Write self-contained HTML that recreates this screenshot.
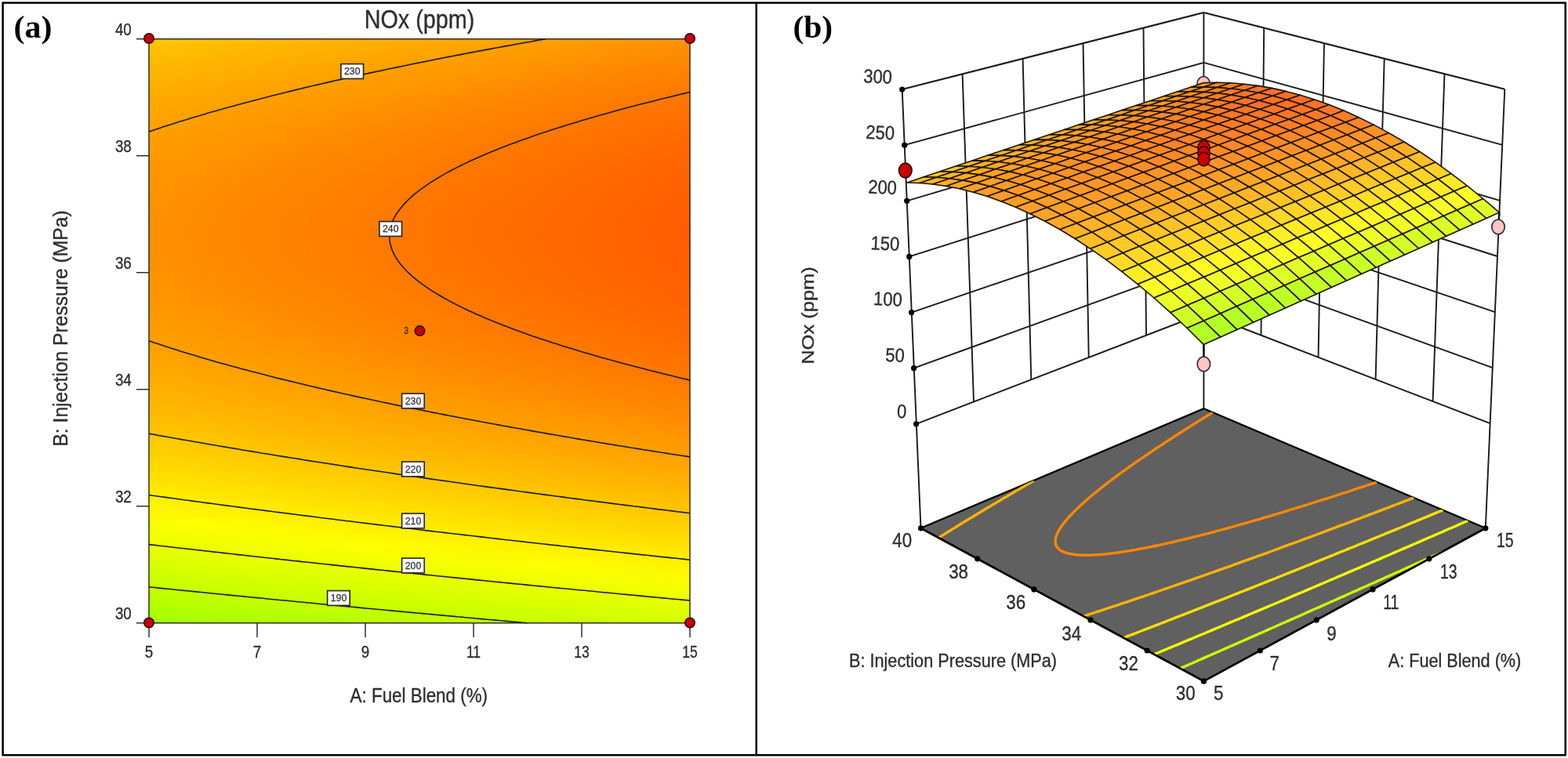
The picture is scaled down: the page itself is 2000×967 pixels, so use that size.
<!DOCTYPE html>
<html lang="en"><head><meta charset="utf-8"><title>NOx (ppm) response surface</title>
<style>html,body{margin:0;padding:0;background:#fff}svg{display:block}</style></head>
<body><svg width="2000" height="967" viewBox="0 0 2000 967">
<defs><linearGradient id="g0" x1="0" y1="0" x2="0" y2="1"><stop offset="0" stop-color="#ffc600"/><stop offset="0.03333" stop-color="#ffbc00"/><stop offset="0.06667" stop-color="#ffb300"/><stop offset="0.1" stop-color="#ffab00"/><stop offset="0.1333" stop-color="#ffa400"/><stop offset="0.1667" stop-color="#ff9e00"/><stop offset="0.2" stop-color="#ff9900"/><stop offset="0.2333" stop-color="#ff9500"/><stop offset="0.2667" stop-color="#ff9200"/><stop offset="0.3" stop-color="#ff9100"/><stop offset="0.3333" stop-color="#ff9000"/><stop offset="0.3667" stop-color="#ff9000"/><stop offset="0.4" stop-color="#ff9200"/><stop offset="0.4333" stop-color="#ff9400"/><stop offset="0.4667" stop-color="#ff9800"/><stop offset="0.5" stop-color="#ff9c00"/><stop offset="0.5333" stop-color="#ffa200"/><stop offset="0.5667" stop-color="#ffa900"/><stop offset="0.6" stop-color="#ffb100"/><stop offset="0.6333" stop-color="#ffb900"/><stop offset="0.6667" stop-color="#ffc300"/><stop offset="0.7" stop-color="#ffce00"/><stop offset="0.7333" stop-color="#ffda00"/><stop offset="0.7667" stop-color="#ffe700"/><stop offset="0.8" stop-color="#fff500"/><stop offset="0.8333" stop-color="#faff00"/><stop offset="0.8667" stop-color="#eaff00"/><stop offset="0.9" stop-color="#d9ff00"/><stop offset="0.9333" stop-color="#c8ff00"/><stop offset="0.9667" stop-color="#b5ff00"/><stop offset="1" stop-color="#a1ff00"/></linearGradient>
<linearGradient id="g1" x1="0" y1="0" x2="0" y2="1"><stop offset="0" stop-color="#ffc500"/><stop offset="0.03333" stop-color="#ffbb00"/><stop offset="0.06667" stop-color="#ffb200"/><stop offset="0.1" stop-color="#ffaa00"/><stop offset="0.1333" stop-color="#ffa300"/><stop offset="0.1667" stop-color="#ff9d00"/><stop offset="0.2" stop-color="#ff9800"/><stop offset="0.2333" stop-color="#ff9400"/><stop offset="0.2667" stop-color="#ff9200"/><stop offset="0.3" stop-color="#ff9000"/><stop offset="0.3333" stop-color="#ff8f00"/><stop offset="0.3667" stop-color="#ff9000"/><stop offset="0.4" stop-color="#ff9100"/><stop offset="0.4333" stop-color="#ff9400"/><stop offset="0.4667" stop-color="#ff9700"/><stop offset="0.5" stop-color="#ff9c00"/><stop offset="0.5333" stop-color="#ffa100"/><stop offset="0.5667" stop-color="#ffa800"/><stop offset="0.6" stop-color="#ffb000"/><stop offset="0.6333" stop-color="#ffb900"/><stop offset="0.6667" stop-color="#ffc300"/><stop offset="0.7" stop-color="#ffcd00"/><stop offset="0.7333" stop-color="#ffd900"/><stop offset="0.7667" stop-color="#ffe600"/><stop offset="0.8" stop-color="#fff500"/><stop offset="0.8333" stop-color="#faff00"/><stop offset="0.8667" stop-color="#ebff00"/><stop offset="0.9" stop-color="#daff00"/><stop offset="0.9333" stop-color="#c8ff00"/><stop offset="0.9667" stop-color="#b6ff00"/><stop offset="1" stop-color="#a2ff00"/></linearGradient>
<linearGradient id="g2" x1="0" y1="0" x2="0" y2="1"><stop offset="0" stop-color="#ffc500"/><stop offset="0.03333" stop-color="#ffba00"/><stop offset="0.06667" stop-color="#ffb100"/><stop offset="0.1" stop-color="#ffa900"/><stop offset="0.1333" stop-color="#ffa200"/><stop offset="0.1667" stop-color="#ff9c00"/><stop offset="0.2" stop-color="#ff9700"/><stop offset="0.2333" stop-color="#ff9400"/><stop offset="0.2667" stop-color="#ff9100"/><stop offset="0.3" stop-color="#ff8f00"/><stop offset="0.3333" stop-color="#ff8e00"/><stop offset="0.3667" stop-color="#ff8f00"/><stop offset="0.4" stop-color="#ff9000"/><stop offset="0.4333" stop-color="#ff9300"/><stop offset="0.4667" stop-color="#ff9600"/><stop offset="0.5" stop-color="#ff9b00"/><stop offset="0.5333" stop-color="#ffa100"/><stop offset="0.5667" stop-color="#ffa700"/><stop offset="0.6" stop-color="#ffaf00"/><stop offset="0.6333" stop-color="#ffb800"/><stop offset="0.6667" stop-color="#ffc200"/><stop offset="0.7" stop-color="#ffcd00"/><stop offset="0.7333" stop-color="#ffd900"/><stop offset="0.7667" stop-color="#ffe600"/><stop offset="0.8" stop-color="#fff400"/><stop offset="0.8333" stop-color="#fbff00"/><stop offset="0.8667" stop-color="#ecff00"/><stop offset="0.9" stop-color="#dbff00"/><stop offset="0.9333" stop-color="#c9ff00"/><stop offset="0.9667" stop-color="#b6ff00"/><stop offset="1" stop-color="#a2ff00"/></linearGradient>
<linearGradient id="g3" x1="0" y1="0" x2="0" y2="1"><stop offset="0" stop-color="#ffc400"/><stop offset="0.03333" stop-color="#ffba00"/><stop offset="0.06667" stop-color="#ffb100"/><stop offset="0.1" stop-color="#ffa900"/><stop offset="0.1333" stop-color="#ffa200"/><stop offset="0.1667" stop-color="#ff9c00"/><stop offset="0.2" stop-color="#ff9700"/><stop offset="0.2333" stop-color="#ff9300"/><stop offset="0.2667" stop-color="#ff9000"/><stop offset="0.3" stop-color="#ff8e00"/><stop offset="0.3333" stop-color="#ff8e00"/><stop offset="0.3667" stop-color="#ff8e00"/><stop offset="0.4" stop-color="#ff9000"/><stop offset="0.4333" stop-color="#ff9200"/><stop offset="0.4667" stop-color="#ff9600"/><stop offset="0.5" stop-color="#ff9a00"/><stop offset="0.5333" stop-color="#ffa000"/><stop offset="0.5667" stop-color="#ffa700"/><stop offset="0.6" stop-color="#ffae00"/><stop offset="0.6333" stop-color="#ffb700"/><stop offset="0.6667" stop-color="#ffc100"/><stop offset="0.7" stop-color="#ffcc00"/><stop offset="0.7333" stop-color="#ffd800"/><stop offset="0.7667" stop-color="#ffe500"/><stop offset="0.8" stop-color="#fff300"/><stop offset="0.8333" stop-color="#fcff00"/><stop offset="0.8667" stop-color="#ecff00"/><stop offset="0.9" stop-color="#dcff00"/><stop offset="0.9333" stop-color="#caff00"/><stop offset="0.9667" stop-color="#b7ff00"/><stop offset="1" stop-color="#a3ff00"/></linearGradient>
<linearGradient id="g4" x1="0" y1="0" x2="0" y2="1"><stop offset="0" stop-color="#ffc300"/><stop offset="0.03333" stop-color="#ffb900"/><stop offset="0.06667" stop-color="#ffb000"/><stop offset="0.1" stop-color="#ffa800"/><stop offset="0.1333" stop-color="#ffa100"/><stop offset="0.1667" stop-color="#ff9b00"/><stop offset="0.2" stop-color="#ff9600"/><stop offset="0.2333" stop-color="#ff9200"/><stop offset="0.2667" stop-color="#ff8f00"/><stop offset="0.3" stop-color="#ff8e00"/><stop offset="0.3333" stop-color="#ff8d00"/><stop offset="0.3667" stop-color="#ff8d00"/><stop offset="0.4" stop-color="#ff8f00"/><stop offset="0.4333" stop-color="#ff9100"/><stop offset="0.4667" stop-color="#ff9500"/><stop offset="0.5" stop-color="#ff9900"/><stop offset="0.5333" stop-color="#ff9f00"/><stop offset="0.5667" stop-color="#ffa600"/><stop offset="0.6" stop-color="#ffad00"/><stop offset="0.6333" stop-color="#ffb600"/><stop offset="0.6667" stop-color="#ffc000"/><stop offset="0.7" stop-color="#ffcb00"/><stop offset="0.7333" stop-color="#ffd700"/><stop offset="0.7667" stop-color="#ffe400"/><stop offset="0.8" stop-color="#fff200"/><stop offset="0.8333" stop-color="#fdff00"/><stop offset="0.8667" stop-color="#edff00"/><stop offset="0.9" stop-color="#dcff00"/><stop offset="0.9333" stop-color="#cbff00"/><stop offset="0.9667" stop-color="#b8ff00"/><stop offset="1" stop-color="#a4ff00"/></linearGradient>
<linearGradient id="g5" x1="0" y1="0" x2="0" y2="1"><stop offset="0" stop-color="#ffc200"/><stop offset="0.03333" stop-color="#ffb800"/><stop offset="0.06667" stop-color="#ffaf00"/><stop offset="0.1" stop-color="#ffa700"/><stop offset="0.1333" stop-color="#ffa000"/><stop offset="0.1667" stop-color="#ff9a00"/><stop offset="0.2" stop-color="#ff9500"/><stop offset="0.2333" stop-color="#ff9100"/><stop offset="0.2667" stop-color="#ff8f00"/><stop offset="0.3" stop-color="#ff8d00"/><stop offset="0.3333" stop-color="#ff8c00"/><stop offset="0.3667" stop-color="#ff8d00"/><stop offset="0.4" stop-color="#ff8e00"/><stop offset="0.4333" stop-color="#ff9000"/><stop offset="0.4667" stop-color="#ff9400"/><stop offset="0.5" stop-color="#ff9900"/><stop offset="0.5333" stop-color="#ff9e00"/><stop offset="0.5667" stop-color="#ffa500"/><stop offset="0.6" stop-color="#ffad00"/><stop offset="0.6333" stop-color="#ffb600"/><stop offset="0.6667" stop-color="#ffbf00"/><stop offset="0.7" stop-color="#ffca00"/><stop offset="0.7333" stop-color="#ffd600"/><stop offset="0.7667" stop-color="#ffe300"/><stop offset="0.8" stop-color="#fff100"/><stop offset="0.8333" stop-color="#feff00"/><stop offset="0.8667" stop-color="#eeff00"/><stop offset="0.9" stop-color="#ddff00"/><stop offset="0.9333" stop-color="#cbff00"/><stop offset="0.9667" stop-color="#b9ff00"/><stop offset="1" stop-color="#a5ff00"/></linearGradient>
<linearGradient id="g6" x1="0" y1="0" x2="0" y2="1"><stop offset="0" stop-color="#ffc100"/><stop offset="0.03333" stop-color="#ffb700"/><stop offset="0.06667" stop-color="#ffae00"/><stop offset="0.1" stop-color="#ffa600"/><stop offset="0.1333" stop-color="#ff9f00"/><stop offset="0.1667" stop-color="#ff9900"/><stop offset="0.2" stop-color="#ff9400"/><stop offset="0.2333" stop-color="#ff9100"/><stop offset="0.2667" stop-color="#ff8e00"/><stop offset="0.3" stop-color="#ff8c00"/><stop offset="0.3333" stop-color="#ff8b00"/><stop offset="0.3667" stop-color="#ff8c00"/><stop offset="0.4" stop-color="#ff8d00"/><stop offset="0.4333" stop-color="#ff9000"/><stop offset="0.4667" stop-color="#ff9300"/><stop offset="0.5" stop-color="#ff9800"/><stop offset="0.5333" stop-color="#ff9d00"/><stop offset="0.5667" stop-color="#ffa400"/><stop offset="0.6" stop-color="#ffac00"/><stop offset="0.6333" stop-color="#ffb500"/><stop offset="0.6667" stop-color="#ffbf00"/><stop offset="0.7" stop-color="#ffca00"/><stop offset="0.7333" stop-color="#ffd500"/><stop offset="0.7667" stop-color="#ffe300"/><stop offset="0.8" stop-color="#fff100"/><stop offset="0.8333" stop-color="#feff00"/><stop offset="0.8667" stop-color="#efff00"/><stop offset="0.9" stop-color="#deff00"/><stop offset="0.9333" stop-color="#ccff00"/><stop offset="0.9667" stop-color="#b9ff00"/><stop offset="1" stop-color="#a6ff00"/></linearGradient>
<linearGradient id="g7" x1="0" y1="0" x2="0" y2="1"><stop offset="0" stop-color="#ffc100"/><stop offset="0.03333" stop-color="#ffb700"/><stop offset="0.06667" stop-color="#ffad00"/><stop offset="0.1" stop-color="#ffa500"/><stop offset="0.1333" stop-color="#ff9e00"/><stop offset="0.1667" stop-color="#ff9800"/><stop offset="0.2" stop-color="#ff9400"/><stop offset="0.2333" stop-color="#ff9000"/><stop offset="0.2667" stop-color="#ff8d00"/><stop offset="0.3" stop-color="#ff8b00"/><stop offset="0.3333" stop-color="#ff8b00"/><stop offset="0.3667" stop-color="#ff8b00"/><stop offset="0.4" stop-color="#ff8c00"/><stop offset="0.4333" stop-color="#ff8f00"/><stop offset="0.4667" stop-color="#ff9200"/><stop offset="0.5" stop-color="#ff9700"/><stop offset="0.5333" stop-color="#ff9d00"/><stop offset="0.5667" stop-color="#ffa300"/><stop offset="0.6" stop-color="#ffab00"/><stop offset="0.6333" stop-color="#ffb400"/><stop offset="0.6667" stop-color="#ffbe00"/><stop offset="0.7" stop-color="#ffc900"/><stop offset="0.7333" stop-color="#ffd500"/><stop offset="0.7667" stop-color="#ffe200"/><stop offset="0.8" stop-color="#fff000"/><stop offset="0.8333" stop-color="#ffff00"/><stop offset="0.8667" stop-color="#efff00"/><stop offset="0.9" stop-color="#dfff00"/><stop offset="0.9333" stop-color="#cdff00"/><stop offset="0.9667" stop-color="#baff00"/><stop offset="1" stop-color="#a6ff00"/></linearGradient>
<linearGradient id="g8" x1="0" y1="0" x2="0" y2="1"><stop offset="0" stop-color="#ffc000"/><stop offset="0.03333" stop-color="#ffb600"/><stop offset="0.06667" stop-color="#ffad00"/><stop offset="0.1" stop-color="#ffa500"/><stop offset="0.1333" stop-color="#ff9e00"/><stop offset="0.1667" stop-color="#ff9800"/><stop offset="0.2" stop-color="#ff9300"/><stop offset="0.2333" stop-color="#ff8f00"/><stop offset="0.2667" stop-color="#ff8c00"/><stop offset="0.3" stop-color="#ff8a00"/><stop offset="0.3333" stop-color="#ff8a00"/><stop offset="0.3667" stop-color="#ff8a00"/><stop offset="0.4" stop-color="#ff8c00"/><stop offset="0.4333" stop-color="#ff8e00"/><stop offset="0.4667" stop-color="#ff9200"/><stop offset="0.5" stop-color="#ff9600"/><stop offset="0.5333" stop-color="#ff9c00"/><stop offset="0.5667" stop-color="#ffa300"/><stop offset="0.6" stop-color="#ffaa00"/><stop offset="0.6333" stop-color="#ffb300"/><stop offset="0.6667" stop-color="#ffbd00"/><stop offset="0.7" stop-color="#ffc800"/><stop offset="0.7333" stop-color="#ffd400"/><stop offset="0.7667" stop-color="#ffe100"/><stop offset="0.8" stop-color="#ffef00"/><stop offset="0.8333" stop-color="#fffe00"/><stop offset="0.8667" stop-color="#f0ff00"/><stop offset="0.9" stop-color="#dfff00"/><stop offset="0.9333" stop-color="#ceff00"/><stop offset="0.9667" stop-color="#bbff00"/><stop offset="1" stop-color="#a7ff00"/></linearGradient>
<linearGradient id="g9" x1="0" y1="0" x2="0" y2="1"><stop offset="0" stop-color="#ffbf00"/><stop offset="0.03333" stop-color="#ffb500"/><stop offset="0.06667" stop-color="#ffac00"/><stop offset="0.1" stop-color="#ffa400"/><stop offset="0.1333" stop-color="#ff9d00"/><stop offset="0.1667" stop-color="#ff9700"/><stop offset="0.2" stop-color="#ff9200"/><stop offset="0.2333" stop-color="#ff8e00"/><stop offset="0.2667" stop-color="#ff8b00"/><stop offset="0.3" stop-color="#ff8a00"/><stop offset="0.3333" stop-color="#ff8900"/><stop offset="0.3667" stop-color="#ff8900"/><stop offset="0.4" stop-color="#ff8b00"/><stop offset="0.4333" stop-color="#ff8d00"/><stop offset="0.4667" stop-color="#ff9100"/><stop offset="0.5" stop-color="#ff9500"/><stop offset="0.5333" stop-color="#ff9b00"/><stop offset="0.5667" stop-color="#ffa200"/><stop offset="0.6" stop-color="#ffaa00"/><stop offset="0.6333" stop-color="#ffb200"/><stop offset="0.6667" stop-color="#ffbc00"/><stop offset="0.7" stop-color="#ffc700"/><stop offset="0.7333" stop-color="#ffd300"/><stop offset="0.7667" stop-color="#ffe000"/><stop offset="0.8" stop-color="#ffee00"/><stop offset="0.8333" stop-color="#fffd00"/><stop offset="0.8667" stop-color="#f1ff00"/><stop offset="0.9" stop-color="#e0ff00"/><stop offset="0.9333" stop-color="#ceff00"/><stop offset="0.9667" stop-color="#bcff00"/><stop offset="1" stop-color="#a8ff00"/></linearGradient>
<linearGradient id="g10" x1="0" y1="0" x2="0" y2="1"><stop offset="0" stop-color="#ffbe00"/><stop offset="0.03333" stop-color="#ffb400"/><stop offset="0.06667" stop-color="#ffab00"/><stop offset="0.1" stop-color="#ffa300"/><stop offset="0.1333" stop-color="#ff9c00"/><stop offset="0.1667" stop-color="#ff9600"/><stop offset="0.2" stop-color="#ff9100"/><stop offset="0.2333" stop-color="#ff8d00"/><stop offset="0.2667" stop-color="#ff8b00"/><stop offset="0.3" stop-color="#ff8900"/><stop offset="0.3333" stop-color="#ff8800"/><stop offset="0.3667" stop-color="#ff8900"/><stop offset="0.4" stop-color="#ff8a00"/><stop offset="0.4333" stop-color="#ff8d00"/><stop offset="0.4667" stop-color="#ff9000"/><stop offset="0.5" stop-color="#ff9500"/><stop offset="0.5333" stop-color="#ff9a00"/><stop offset="0.5667" stop-color="#ffa100"/><stop offset="0.6" stop-color="#ffa900"/><stop offset="0.6333" stop-color="#ffb200"/><stop offset="0.6667" stop-color="#ffbb00"/><stop offset="0.7" stop-color="#ffc600"/><stop offset="0.7333" stop-color="#ffd200"/><stop offset="0.7667" stop-color="#ffdf00"/><stop offset="0.8" stop-color="#ffee00"/><stop offset="0.8333" stop-color="#fffd00"/><stop offset="0.8667" stop-color="#f2ff00"/><stop offset="0.9" stop-color="#e1ff00"/><stop offset="0.9333" stop-color="#cfff00"/><stop offset="0.9667" stop-color="#bcff00"/><stop offset="1" stop-color="#a9ff00"/></linearGradient>
<linearGradient id="g11" x1="0" y1="0" x2="0" y2="1"><stop offset="0" stop-color="#ffbe00"/><stop offset="0.03333" stop-color="#ffb300"/><stop offset="0.06667" stop-color="#ffaa00"/><stop offset="0.1" stop-color="#ffa200"/><stop offset="0.1333" stop-color="#ff9b00"/><stop offset="0.1667" stop-color="#ff9500"/><stop offset="0.2" stop-color="#ff9000"/><stop offset="0.2333" stop-color="#ff8d00"/><stop offset="0.2667" stop-color="#ff8a00"/><stop offset="0.3" stop-color="#ff8800"/><stop offset="0.3333" stop-color="#ff8700"/><stop offset="0.3667" stop-color="#ff8800"/><stop offset="0.4" stop-color="#ff8900"/><stop offset="0.4333" stop-color="#ff8c00"/><stop offset="0.4667" stop-color="#ff8f00"/><stop offset="0.5" stop-color="#ff9400"/><stop offset="0.5333" stop-color="#ff9a00"/><stop offset="0.5667" stop-color="#ffa000"/><stop offset="0.6" stop-color="#ffa800"/><stop offset="0.6333" stop-color="#ffb100"/><stop offset="0.6667" stop-color="#ffbb00"/><stop offset="0.7" stop-color="#ffc600"/><stop offset="0.7333" stop-color="#ffd200"/><stop offset="0.7667" stop-color="#ffdf00"/><stop offset="0.8" stop-color="#ffed00"/><stop offset="0.8333" stop-color="#fffc00"/><stop offset="0.8667" stop-color="#f2ff00"/><stop offset="0.9" stop-color="#e2ff00"/><stop offset="0.9333" stop-color="#d0ff00"/><stop offset="0.9667" stop-color="#bdff00"/><stop offset="1" stop-color="#a9ff00"/></linearGradient>
<linearGradient id="g12" x1="0" y1="0" x2="0" y2="1"><stop offset="0" stop-color="#ffbd00"/><stop offset="0.03333" stop-color="#ffb300"/><stop offset="0.06667" stop-color="#ffaa00"/><stop offset="0.1" stop-color="#ffa100"/><stop offset="0.1333" stop-color="#ff9a00"/><stop offset="0.1667" stop-color="#ff9500"/><stop offset="0.2" stop-color="#ff9000"/><stop offset="0.2333" stop-color="#ff8c00"/><stop offset="0.2667" stop-color="#ff8900"/><stop offset="0.3" stop-color="#ff8700"/><stop offset="0.3333" stop-color="#ff8700"/><stop offset="0.3667" stop-color="#ff8700"/><stop offset="0.4" stop-color="#ff8900"/><stop offset="0.4333" stop-color="#ff8b00"/><stop offset="0.4667" stop-color="#ff8f00"/><stop offset="0.5" stop-color="#ff9300"/><stop offset="0.5333" stop-color="#ff9900"/><stop offset="0.5667" stop-color="#ffa000"/><stop offset="0.6" stop-color="#ffa700"/><stop offset="0.6333" stop-color="#ffb000"/><stop offset="0.6667" stop-color="#ffba00"/><stop offset="0.7" stop-color="#ffc500"/><stop offset="0.7333" stop-color="#ffd100"/><stop offset="0.7667" stop-color="#ffde00"/><stop offset="0.8" stop-color="#ffec00"/><stop offset="0.8333" stop-color="#fffb00"/><stop offset="0.8667" stop-color="#f3ff00"/><stop offset="0.9" stop-color="#e2ff00"/><stop offset="0.9333" stop-color="#d1ff00"/><stop offset="0.9667" stop-color="#beff00"/><stop offset="1" stop-color="#aaff00"/></linearGradient>
<linearGradient id="g13" x1="0" y1="0" x2="0" y2="1"><stop offset="0" stop-color="#ffbc00"/><stop offset="0.03333" stop-color="#ffb200"/><stop offset="0.06667" stop-color="#ffa900"/><stop offset="0.1" stop-color="#ffa100"/><stop offset="0.1333" stop-color="#ff9a00"/><stop offset="0.1667" stop-color="#ff9400"/><stop offset="0.2" stop-color="#ff8f00"/><stop offset="0.2333" stop-color="#ff8b00"/><stop offset="0.2667" stop-color="#ff8800"/><stop offset="0.3" stop-color="#ff8700"/><stop offset="0.3333" stop-color="#ff8600"/><stop offset="0.3667" stop-color="#ff8600"/><stop offset="0.4" stop-color="#ff8800"/><stop offset="0.4333" stop-color="#ff8a00"/><stop offset="0.4667" stop-color="#ff8e00"/><stop offset="0.5" stop-color="#ff9200"/><stop offset="0.5333" stop-color="#ff9800"/><stop offset="0.5667" stop-color="#ff9f00"/><stop offset="0.6" stop-color="#ffa600"/><stop offset="0.6333" stop-color="#ffaf00"/><stop offset="0.6667" stop-color="#ffb900"/><stop offset="0.7" stop-color="#ffc400"/><stop offset="0.7333" stop-color="#ffd000"/><stop offset="0.7667" stop-color="#ffdd00"/><stop offset="0.8" stop-color="#ffeb00"/><stop offset="0.8333" stop-color="#fffa00"/><stop offset="0.8667" stop-color="#f4ff00"/><stop offset="0.9" stop-color="#e3ff00"/><stop offset="0.9333" stop-color="#d1ff00"/><stop offset="0.9667" stop-color="#bfff00"/><stop offset="1" stop-color="#abff00"/></linearGradient>
<linearGradient id="g14" x1="0" y1="0" x2="0" y2="1"><stop offset="0" stop-color="#ffbb00"/><stop offset="0.03333" stop-color="#ffb100"/><stop offset="0.06667" stop-color="#ffa800"/><stop offset="0.1" stop-color="#ffa000"/><stop offset="0.1333" stop-color="#ff9900"/><stop offset="0.1667" stop-color="#ff9300"/><stop offset="0.2" stop-color="#ff8e00"/><stop offset="0.2333" stop-color="#ff8a00"/><stop offset="0.2667" stop-color="#ff8800"/><stop offset="0.3" stop-color="#ff8600"/><stop offset="0.3333" stop-color="#ff8500"/><stop offset="0.3667" stop-color="#ff8600"/><stop offset="0.4" stop-color="#ff8700"/><stop offset="0.4333" stop-color="#ff8900"/><stop offset="0.4667" stop-color="#ff8d00"/><stop offset="0.5" stop-color="#ff9200"/><stop offset="0.5333" stop-color="#ff9700"/><stop offset="0.5667" stop-color="#ff9e00"/><stop offset="0.6" stop-color="#ffa600"/><stop offset="0.6333" stop-color="#ffaf00"/><stop offset="0.6667" stop-color="#ffb800"/><stop offset="0.7" stop-color="#ffc300"/><stop offset="0.7333" stop-color="#ffcf00"/><stop offset="0.7667" stop-color="#ffdc00"/><stop offset="0.8" stop-color="#ffea00"/><stop offset="0.8333" stop-color="#fffa00"/><stop offset="0.8667" stop-color="#f5ff00"/><stop offset="0.9" stop-color="#e4ff00"/><stop offset="0.9333" stop-color="#d2ff00"/><stop offset="0.9667" stop-color="#bfff00"/><stop offset="1" stop-color="#acff00"/></linearGradient>
<linearGradient id="g15" x1="0" y1="0" x2="0" y2="1"><stop offset="0" stop-color="#ffba00"/><stop offset="0.03333" stop-color="#ffb000"/><stop offset="0.06667" stop-color="#ffa700"/><stop offset="0.1" stop-color="#ff9f00"/><stop offset="0.1333" stop-color="#ff9800"/><stop offset="0.1667" stop-color="#ff9200"/><stop offset="0.2" stop-color="#ff8d00"/><stop offset="0.2333" stop-color="#ff8a00"/><stop offset="0.2667" stop-color="#ff8700"/><stop offset="0.3" stop-color="#ff8500"/><stop offset="0.3333" stop-color="#ff8400"/><stop offset="0.3667" stop-color="#ff8500"/><stop offset="0.4" stop-color="#ff8600"/><stop offset="0.4333" stop-color="#ff8900"/><stop offset="0.4667" stop-color="#ff8c00"/><stop offset="0.5" stop-color="#ff9100"/><stop offset="0.5333" stop-color="#ff9600"/><stop offset="0.5667" stop-color="#ff9d00"/><stop offset="0.6" stop-color="#ffa500"/><stop offset="0.6333" stop-color="#ffae00"/><stop offset="0.6667" stop-color="#ffb800"/><stop offset="0.7" stop-color="#ffc300"/><stop offset="0.7333" stop-color="#ffcf00"/><stop offset="0.7667" stop-color="#ffdc00"/><stop offset="0.8" stop-color="#ffea00"/><stop offset="0.8333" stop-color="#fff900"/><stop offset="0.8667" stop-color="#f5ff00"/><stop offset="0.9" stop-color="#e5ff00"/><stop offset="0.9333" stop-color="#d3ff00"/><stop offset="0.9667" stop-color="#c0ff00"/><stop offset="1" stop-color="#acff00"/></linearGradient>
<linearGradient id="g16" x1="0" y1="0" x2="0" y2="1"><stop offset="0" stop-color="#ffba00"/><stop offset="0.03333" stop-color="#ffb000"/><stop offset="0.06667" stop-color="#ffa600"/><stop offset="0.1" stop-color="#ff9e00"/><stop offset="0.1333" stop-color="#ff9700"/><stop offset="0.1667" stop-color="#ff9100"/><stop offset="0.2" stop-color="#ff8d00"/><stop offset="0.2333" stop-color="#ff8900"/><stop offset="0.2667" stop-color="#ff8600"/><stop offset="0.3" stop-color="#ff8400"/><stop offset="0.3333" stop-color="#ff8400"/><stop offset="0.3667" stop-color="#ff8400"/><stop offset="0.4" stop-color="#ff8500"/><stop offset="0.4333" stop-color="#ff8800"/><stop offset="0.4667" stop-color="#ff8b00"/><stop offset="0.5" stop-color="#ff9000"/><stop offset="0.5333" stop-color="#ff9600"/><stop offset="0.5667" stop-color="#ff9c00"/><stop offset="0.6" stop-color="#ffa400"/><stop offset="0.6333" stop-color="#ffad00"/><stop offset="0.6667" stop-color="#ffb700"/><stop offset="0.7" stop-color="#ffc200"/><stop offset="0.7333" stop-color="#ffce00"/><stop offset="0.7667" stop-color="#ffdb00"/><stop offset="0.8" stop-color="#ffe900"/><stop offset="0.8333" stop-color="#fff800"/><stop offset="0.8667" stop-color="#f6ff00"/><stop offset="0.9" stop-color="#e5ff00"/><stop offset="0.9333" stop-color="#d4ff00"/><stop offset="0.9667" stop-color="#c1ff00"/><stop offset="1" stop-color="#adff00"/></linearGradient>
<linearGradient id="g17" x1="0" y1="0" x2="0" y2="1"><stop offset="0" stop-color="#ffb900"/><stop offset="0.03333" stop-color="#ffaf00"/><stop offset="0.06667" stop-color="#ffa600"/><stop offset="0.1" stop-color="#ff9e00"/><stop offset="0.1333" stop-color="#ff9700"/><stop offset="0.1667" stop-color="#ff9100"/><stop offset="0.2" stop-color="#ff8c00"/><stop offset="0.2333" stop-color="#ff8800"/><stop offset="0.2667" stop-color="#ff8500"/><stop offset="0.3" stop-color="#ff8300"/><stop offset="0.3333" stop-color="#ff8300"/><stop offset="0.3667" stop-color="#ff8300"/><stop offset="0.4" stop-color="#ff8500"/><stop offset="0.4333" stop-color="#ff8700"/><stop offset="0.4667" stop-color="#ff8b00"/><stop offset="0.5" stop-color="#ff8f00"/><stop offset="0.5333" stop-color="#ff9500"/><stop offset="0.5667" stop-color="#ff9c00"/><stop offset="0.6" stop-color="#ffa300"/><stop offset="0.6333" stop-color="#ffac00"/><stop offset="0.6667" stop-color="#ffb600"/><stop offset="0.7" stop-color="#ffc100"/><stop offset="0.7333" stop-color="#ffcd00"/><stop offset="0.7667" stop-color="#ffda00"/><stop offset="0.8" stop-color="#ffe800"/><stop offset="0.8333" stop-color="#fff700"/><stop offset="0.8667" stop-color="#f7ff00"/><stop offset="0.9" stop-color="#e6ff00"/><stop offset="0.9333" stop-color="#d4ff00"/><stop offset="0.9667" stop-color="#c2ff00"/><stop offset="1" stop-color="#aeff00"/></linearGradient>
<linearGradient id="g18" x1="0" y1="0" x2="0" y2="1"><stop offset="0" stop-color="#ffb800"/><stop offset="0.03333" stop-color="#ffae00"/><stop offset="0.06667" stop-color="#ffa500"/><stop offset="0.1" stop-color="#ff9d00"/><stop offset="0.1333" stop-color="#ff9600"/><stop offset="0.1667" stop-color="#ff9000"/><stop offset="0.2" stop-color="#ff8b00"/><stop offset="0.2333" stop-color="#ff8700"/><stop offset="0.2667" stop-color="#ff8400"/><stop offset="0.3" stop-color="#ff8300"/><stop offset="0.3333" stop-color="#ff8200"/><stop offset="0.3667" stop-color="#ff8200"/><stop offset="0.4" stop-color="#ff8400"/><stop offset="0.4333" stop-color="#ff8600"/><stop offset="0.4667" stop-color="#ff8a00"/><stop offset="0.5" stop-color="#ff8f00"/><stop offset="0.5333" stop-color="#ff9400"/><stop offset="0.5667" stop-color="#ff9b00"/><stop offset="0.6" stop-color="#ffa300"/><stop offset="0.6333" stop-color="#ffab00"/><stop offset="0.6667" stop-color="#ffb500"/><stop offset="0.7" stop-color="#ffc000"/><stop offset="0.7333" stop-color="#ffcc00"/><stop offset="0.7667" stop-color="#ffd900"/><stop offset="0.8" stop-color="#ffe700"/><stop offset="0.8333" stop-color="#fff600"/><stop offset="0.8667" stop-color="#f8ff00"/><stop offset="0.9" stop-color="#e7ff00"/><stop offset="0.9333" stop-color="#d5ff00"/><stop offset="0.9667" stop-color="#c2ff00"/><stop offset="1" stop-color="#afff00"/></linearGradient>
<linearGradient id="g19" x1="0" y1="0" x2="0" y2="1"><stop offset="0" stop-color="#ffb700"/><stop offset="0.03333" stop-color="#ffad00"/><stop offset="0.06667" stop-color="#ffa400"/><stop offset="0.1" stop-color="#ff9c00"/><stop offset="0.1333" stop-color="#ff9500"/><stop offset="0.1667" stop-color="#ff8f00"/><stop offset="0.2" stop-color="#ff8a00"/><stop offset="0.2333" stop-color="#ff8600"/><stop offset="0.2667" stop-color="#ff8400"/><stop offset="0.3" stop-color="#ff8200"/><stop offset="0.3333" stop-color="#ff8100"/><stop offset="0.3667" stop-color="#ff8200"/><stop offset="0.4" stop-color="#ff8300"/><stop offset="0.4333" stop-color="#ff8600"/><stop offset="0.4667" stop-color="#ff8900"/><stop offset="0.5" stop-color="#ff8e00"/><stop offset="0.5333" stop-color="#ff9300"/><stop offset="0.5667" stop-color="#ff9a00"/><stop offset="0.6" stop-color="#ffa200"/><stop offset="0.6333" stop-color="#ffab00"/><stop offset="0.6667" stop-color="#ffb500"/><stop offset="0.7" stop-color="#ffbf00"/><stop offset="0.7333" stop-color="#ffcb00"/><stop offset="0.7667" stop-color="#ffd800"/><stop offset="0.8" stop-color="#ffe700"/><stop offset="0.8333" stop-color="#fff600"/><stop offset="0.8667" stop-color="#f8ff00"/><stop offset="0.9" stop-color="#e8ff00"/><stop offset="0.9333" stop-color="#d6ff00"/><stop offset="0.9667" stop-color="#c3ff00"/><stop offset="1" stop-color="#afff00"/></linearGradient>
<linearGradient id="g20" x1="0" y1="0" x2="0" y2="1"><stop offset="0" stop-color="#ffb700"/><stop offset="0.03333" stop-color="#ffac00"/><stop offset="0.06667" stop-color="#ffa300"/><stop offset="0.1" stop-color="#ff9b00"/><stop offset="0.1333" stop-color="#ff9400"/><stop offset="0.1667" stop-color="#ff8e00"/><stop offset="0.2" stop-color="#ff8900"/><stop offset="0.2333" stop-color="#ff8600"/><stop offset="0.2667" stop-color="#ff8300"/><stop offset="0.3" stop-color="#ff8100"/><stop offset="0.3333" stop-color="#ff8000"/><stop offset="0.3667" stop-color="#ff8100"/><stop offset="0.4" stop-color="#ff8200"/><stop offset="0.4333" stop-color="#ff8500"/><stop offset="0.4667" stop-color="#ff8800"/><stop offset="0.5" stop-color="#ff8d00"/><stop offset="0.5333" stop-color="#ff9300"/><stop offset="0.5667" stop-color="#ff9900"/><stop offset="0.6" stop-color="#ffa100"/><stop offset="0.6333" stop-color="#ffaa00"/><stop offset="0.6667" stop-color="#ffb400"/><stop offset="0.7" stop-color="#ffbf00"/><stop offset="0.7333" stop-color="#ffcb00"/><stop offset="0.7667" stop-color="#ffd800"/><stop offset="0.8" stop-color="#ffe600"/><stop offset="0.8333" stop-color="#fff500"/><stop offset="0.8667" stop-color="#f9ff00"/><stop offset="0.9" stop-color="#e8ff00"/><stop offset="0.9333" stop-color="#d7ff00"/><stop offset="0.9667" stop-color="#c4ff00"/><stop offset="1" stop-color="#b0ff00"/></linearGradient>
<linearGradient id="g21" x1="0" y1="0" x2="0" y2="1"><stop offset="0" stop-color="#ffb600"/><stop offset="0.03333" stop-color="#ffac00"/><stop offset="0.06667" stop-color="#ffa300"/><stop offset="0.1" stop-color="#ff9b00"/><stop offset="0.1333" stop-color="#ff9400"/><stop offset="0.1667" stop-color="#ff8e00"/><stop offset="0.2" stop-color="#ff8900"/><stop offset="0.2333" stop-color="#ff8500"/><stop offset="0.2667" stop-color="#ff8200"/><stop offset="0.3" stop-color="#ff8000"/><stop offset="0.3333" stop-color="#ff8000"/><stop offset="0.3667" stop-color="#ff8000"/><stop offset="0.4" stop-color="#ff8200"/><stop offset="0.4333" stop-color="#ff8400"/><stop offset="0.4667" stop-color="#ff8800"/><stop offset="0.5" stop-color="#ff8c00"/><stop offset="0.5333" stop-color="#ff9200"/><stop offset="0.5667" stop-color="#ff9900"/><stop offset="0.6" stop-color="#ffa000"/><stop offset="0.6333" stop-color="#ffa900"/><stop offset="0.6667" stop-color="#ffb300"/><stop offset="0.7" stop-color="#ffbe00"/><stop offset="0.7333" stop-color="#ffca00"/><stop offset="0.7667" stop-color="#ffd700"/><stop offset="0.8" stop-color="#ffe500"/><stop offset="0.8333" stop-color="#fff400"/><stop offset="0.8667" stop-color="#faff00"/><stop offset="0.9" stop-color="#e9ff00"/><stop offset="0.9333" stop-color="#d7ff00"/><stop offset="0.9667" stop-color="#c5ff00"/><stop offset="1" stop-color="#b1ff00"/></linearGradient>
<linearGradient id="g22" x1="0" y1="0" x2="0" y2="1"><stop offset="0" stop-color="#ffb500"/><stop offset="0.03333" stop-color="#ffab00"/><stop offset="0.06667" stop-color="#ffa200"/><stop offset="0.1" stop-color="#ff9a00"/><stop offset="0.1333" stop-color="#ff9300"/><stop offset="0.1667" stop-color="#ff8d00"/><stop offset="0.2" stop-color="#ff8800"/><stop offset="0.2333" stop-color="#ff8400"/><stop offset="0.2667" stop-color="#ff8100"/><stop offset="0.3" stop-color="#ff8000"/><stop offset="0.3333" stop-color="#ff7f00"/><stop offset="0.3667" stop-color="#ff7f00"/><stop offset="0.4" stop-color="#ff8100"/><stop offset="0.4333" stop-color="#ff8300"/><stop offset="0.4667" stop-color="#ff8700"/><stop offset="0.5" stop-color="#ff8b00"/><stop offset="0.5333" stop-color="#ff9100"/><stop offset="0.5667" stop-color="#ff9800"/><stop offset="0.6" stop-color="#ffa000"/><stop offset="0.6333" stop-color="#ffa800"/><stop offset="0.6667" stop-color="#ffb200"/><stop offset="0.7" stop-color="#ffbd00"/><stop offset="0.7333" stop-color="#ffc900"/><stop offset="0.7667" stop-color="#ffd600"/><stop offset="0.8" stop-color="#ffe400"/><stop offset="0.8333" stop-color="#fff300"/><stop offset="0.8667" stop-color="#fbff00"/><stop offset="0.9" stop-color="#eaff00"/><stop offset="0.9333" stop-color="#d8ff00"/><stop offset="0.9667" stop-color="#c5ff00"/><stop offset="1" stop-color="#b1ff00"/></linearGradient>
<linearGradient id="g23" x1="0" y1="0" x2="0" y2="1"><stop offset="0" stop-color="#ffb400"/><stop offset="0.03333" stop-color="#ffaa00"/><stop offset="0.06667" stop-color="#ffa100"/><stop offset="0.1" stop-color="#ff9900"/><stop offset="0.1333" stop-color="#ff9200"/><stop offset="0.1667" stop-color="#ff8c00"/><stop offset="0.2" stop-color="#ff8700"/><stop offset="0.2333" stop-color="#ff8300"/><stop offset="0.2667" stop-color="#ff8100"/><stop offset="0.3" stop-color="#ff7f00"/><stop offset="0.3333" stop-color="#ff7e00"/><stop offset="0.3667" stop-color="#ff7f00"/><stop offset="0.4" stop-color="#ff8000"/><stop offset="0.4333" stop-color="#ff8300"/><stop offset="0.4667" stop-color="#ff8600"/><stop offset="0.5" stop-color="#ff8b00"/><stop offset="0.5333" stop-color="#ff9000"/><stop offset="0.5667" stop-color="#ff9700"/><stop offset="0.6" stop-color="#ff9f00"/><stop offset="0.6333" stop-color="#ffa800"/><stop offset="0.6667" stop-color="#ffb100"/><stop offset="0.7" stop-color="#ffbc00"/><stop offset="0.7333" stop-color="#ffc800"/><stop offset="0.7667" stop-color="#ffd500"/><stop offset="0.8" stop-color="#ffe300"/><stop offset="0.8333" stop-color="#fff300"/><stop offset="0.8667" stop-color="#fbff00"/><stop offset="0.9" stop-color="#ebff00"/><stop offset="0.9333" stop-color="#d9ff00"/><stop offset="0.9667" stop-color="#c6ff00"/><stop offset="1" stop-color="#b2ff00"/></linearGradient>
<linearGradient id="g24" x1="0" y1="0" x2="0" y2="1"><stop offset="0" stop-color="#ffb300"/><stop offset="0.03333" stop-color="#ffa900"/><stop offset="0.06667" stop-color="#ffa000"/><stop offset="0.1" stop-color="#ff9800"/><stop offset="0.1333" stop-color="#ff9100"/><stop offset="0.1667" stop-color="#ff8b00"/><stop offset="0.2" stop-color="#ff8600"/><stop offset="0.2333" stop-color="#ff8300"/><stop offset="0.2667" stop-color="#ff8000"/><stop offset="0.3" stop-color="#ff7e00"/><stop offset="0.3333" stop-color="#ff7d00"/><stop offset="0.3667" stop-color="#ff7e00"/><stop offset="0.4" stop-color="#ff7f00"/><stop offset="0.4333" stop-color="#ff8200"/><stop offset="0.4667" stop-color="#ff8500"/><stop offset="0.5" stop-color="#ff8a00"/><stop offset="0.5333" stop-color="#ff9000"/><stop offset="0.5667" stop-color="#ff9600"/><stop offset="0.6" stop-color="#ff9e00"/><stop offset="0.6333" stop-color="#ffa700"/><stop offset="0.6667" stop-color="#ffb100"/><stop offset="0.7" stop-color="#ffbc00"/><stop offset="0.7333" stop-color="#ffc800"/><stop offset="0.7667" stop-color="#ffd500"/><stop offset="0.8" stop-color="#ffe300"/><stop offset="0.8333" stop-color="#fff200"/><stop offset="0.8667" stop-color="#fcff00"/><stop offset="0.9" stop-color="#ebff00"/><stop offset="0.9333" stop-color="#daff00"/><stop offset="0.9667" stop-color="#c7ff00"/><stop offset="1" stop-color="#b3ff00"/></linearGradient>
<linearGradient id="g25" x1="0" y1="0" x2="0" y2="1"><stop offset="0" stop-color="#ffb300"/><stop offset="0.03333" stop-color="#ffa900"/><stop offset="0.06667" stop-color="#ff9f00"/><stop offset="0.1" stop-color="#ff9700"/><stop offset="0.1333" stop-color="#ff9000"/><stop offset="0.1667" stop-color="#ff8b00"/><stop offset="0.2" stop-color="#ff8600"/><stop offset="0.2333" stop-color="#ff8200"/><stop offset="0.2667" stop-color="#ff7f00"/><stop offset="0.3" stop-color="#ff7d00"/><stop offset="0.3333" stop-color="#ff7d00"/><stop offset="0.3667" stop-color="#ff7d00"/><stop offset="0.4" stop-color="#ff7e00"/><stop offset="0.4333" stop-color="#ff8100"/><stop offset="0.4667" stop-color="#ff8500"/><stop offset="0.5" stop-color="#ff8900"/><stop offset="0.5333" stop-color="#ff8f00"/><stop offset="0.5667" stop-color="#ff9500"/><stop offset="0.6" stop-color="#ff9d00"/><stop offset="0.6333" stop-color="#ffa600"/><stop offset="0.6667" stop-color="#ffb000"/><stop offset="0.7" stop-color="#ffbb00"/><stop offset="0.7333" stop-color="#ffc700"/><stop offset="0.7667" stop-color="#ffd400"/><stop offset="0.8" stop-color="#ffe200"/><stop offset="0.8333" stop-color="#fff100"/><stop offset="0.8667" stop-color="#fdff00"/><stop offset="0.9" stop-color="#ecff00"/><stop offset="0.9333" stop-color="#daff00"/><stop offset="0.9667" stop-color="#c8ff00"/><stop offset="1" stop-color="#b4ff00"/></linearGradient>
<linearGradient id="g26" x1="0" y1="0" x2="0" y2="1"><stop offset="0" stop-color="#ffb200"/><stop offset="0.03333" stop-color="#ffa800"/><stop offset="0.06667" stop-color="#ff9f00"/><stop offset="0.1" stop-color="#ff9700"/><stop offset="0.1333" stop-color="#ff9000"/><stop offset="0.1667" stop-color="#ff8a00"/><stop offset="0.2" stop-color="#ff8500"/><stop offset="0.2333" stop-color="#ff8100"/><stop offset="0.2667" stop-color="#ff7e00"/><stop offset="0.3" stop-color="#ff7d00"/><stop offset="0.3333" stop-color="#ff7c00"/><stop offset="0.3667" stop-color="#ff7c00"/><stop offset="0.4" stop-color="#ff7e00"/><stop offset="0.4333" stop-color="#ff8000"/><stop offset="0.4667" stop-color="#ff8400"/><stop offset="0.5" stop-color="#ff8800"/><stop offset="0.5333" stop-color="#ff8e00"/><stop offset="0.5667" stop-color="#ff9500"/><stop offset="0.6" stop-color="#ff9c00"/><stop offset="0.6333" stop-color="#ffa500"/><stop offset="0.6667" stop-color="#ffaf00"/><stop offset="0.7" stop-color="#ffba00"/><stop offset="0.7333" stop-color="#ffc600"/><stop offset="0.7667" stop-color="#ffd300"/><stop offset="0.8" stop-color="#ffe100"/><stop offset="0.8333" stop-color="#fff000"/><stop offset="0.8667" stop-color="#feff00"/><stop offset="0.9" stop-color="#edff00"/><stop offset="0.9333" stop-color="#dbff00"/><stop offset="0.9667" stop-color="#c8ff00"/><stop offset="1" stop-color="#b4ff00"/></linearGradient>
<linearGradient id="g27" x1="0" y1="0" x2="0" y2="1"><stop offset="0" stop-color="#ffb100"/><stop offset="0.03333" stop-color="#ffa700"/><stop offset="0.06667" stop-color="#ff9e00"/><stop offset="0.1" stop-color="#ff9600"/><stop offset="0.1333" stop-color="#ff8f00"/><stop offset="0.1667" stop-color="#ff8900"/><stop offset="0.2" stop-color="#ff8400"/><stop offset="0.2333" stop-color="#ff8000"/><stop offset="0.2667" stop-color="#ff7e00"/><stop offset="0.3" stop-color="#ff7c00"/><stop offset="0.3333" stop-color="#ff7b00"/><stop offset="0.3667" stop-color="#ff7c00"/><stop offset="0.4" stop-color="#ff7d00"/><stop offset="0.4333" stop-color="#ff7f00"/><stop offset="0.4667" stop-color="#ff8300"/><stop offset="0.5" stop-color="#ff8800"/><stop offset="0.5333" stop-color="#ff8d00"/><stop offset="0.5667" stop-color="#ff9400"/><stop offset="0.6" stop-color="#ff9c00"/><stop offset="0.6333" stop-color="#ffa500"/><stop offset="0.6667" stop-color="#ffae00"/><stop offset="0.7" stop-color="#ffb900"/><stop offset="0.7333" stop-color="#ffc500"/><stop offset="0.7667" stop-color="#ffd200"/><stop offset="0.8" stop-color="#ffe000"/><stop offset="0.8333" stop-color="#fff000"/><stop offset="0.8667" stop-color="#feff00"/><stop offset="0.9" stop-color="#eeff00"/><stop offset="0.9333" stop-color="#dcff00"/><stop offset="0.9667" stop-color="#c9ff00"/><stop offset="1" stop-color="#b5ff00"/></linearGradient>
<linearGradient id="g28" x1="0" y1="0" x2="0" y2="1"><stop offset="0" stop-color="#ffb000"/><stop offset="0.03333" stop-color="#ffa600"/><stop offset="0.06667" stop-color="#ff9d00"/><stop offset="0.1" stop-color="#ff9500"/><stop offset="0.1333" stop-color="#ff8e00"/><stop offset="0.1667" stop-color="#ff8800"/><stop offset="0.2" stop-color="#ff8300"/><stop offset="0.2333" stop-color="#ff8000"/><stop offset="0.2667" stop-color="#ff7d00"/><stop offset="0.3" stop-color="#ff7b00"/><stop offset="0.3333" stop-color="#ff7a00"/><stop offset="0.3667" stop-color="#ff7b00"/><stop offset="0.4" stop-color="#ff7c00"/><stop offset="0.4333" stop-color="#ff7f00"/><stop offset="0.4667" stop-color="#ff8200"/><stop offset="0.5" stop-color="#ff8700"/><stop offset="0.5333" stop-color="#ff8c00"/><stop offset="0.5667" stop-color="#ff9300"/><stop offset="0.6" stop-color="#ff9b00"/><stop offset="0.6333" stop-color="#ffa400"/><stop offset="0.6667" stop-color="#ffae00"/><stop offset="0.7" stop-color="#ffb900"/><stop offset="0.7333" stop-color="#ffc500"/><stop offset="0.7667" stop-color="#ffd200"/><stop offset="0.8" stop-color="#ffe000"/><stop offset="0.8333" stop-color="#ffef00"/><stop offset="0.8667" stop-color="#ffff00"/><stop offset="0.9" stop-color="#eeff00"/><stop offset="0.9333" stop-color="#ddff00"/><stop offset="0.9667" stop-color="#caff00"/><stop offset="1" stop-color="#b6ff00"/></linearGradient>
<linearGradient id="g29" x1="0" y1="0" x2="0" y2="1"><stop offset="0" stop-color="#ffb000"/><stop offset="0.03333" stop-color="#ffa600"/><stop offset="0.06667" stop-color="#ff9c00"/><stop offset="0.1" stop-color="#ff9400"/><stop offset="0.1333" stop-color="#ff8d00"/><stop offset="0.1667" stop-color="#ff8700"/><stop offset="0.2" stop-color="#ff8300"/><stop offset="0.2333" stop-color="#ff7f00"/><stop offset="0.2667" stop-color="#ff7c00"/><stop offset="0.3" stop-color="#ff7a00"/><stop offset="0.3333" stop-color="#ff7a00"/><stop offset="0.3667" stop-color="#ff7a00"/><stop offset="0.4" stop-color="#ff7b00"/><stop offset="0.4333" stop-color="#ff7e00"/><stop offset="0.4667" stop-color="#ff8100"/><stop offset="0.5" stop-color="#ff8600"/><stop offset="0.5333" stop-color="#ff8c00"/><stop offset="0.5667" stop-color="#ff9200"/><stop offset="0.6" stop-color="#ff9a00"/><stop offset="0.6333" stop-color="#ffa300"/><stop offset="0.6667" stop-color="#ffad00"/><stop offset="0.7" stop-color="#ffb800"/><stop offset="0.7333" stop-color="#ffc400"/><stop offset="0.7667" stop-color="#ffd100"/><stop offset="0.8" stop-color="#ffdf00"/><stop offset="0.8333" stop-color="#ffee00"/><stop offset="0.8667" stop-color="#fffe00"/><stop offset="0.9" stop-color="#efff00"/><stop offset="0.9333" stop-color="#ddff00"/><stop offset="0.9667" stop-color="#caff00"/><stop offset="1" stop-color="#b7ff00"/></linearGradient>
<linearGradient id="g30" x1="0" y1="0" x2="0" y2="1"><stop offset="0" stop-color="#ffaf00"/><stop offset="0.03333" stop-color="#ffa500"/><stop offset="0.06667" stop-color="#ff9c00"/><stop offset="0.1" stop-color="#ff9400"/><stop offset="0.1333" stop-color="#ff8d00"/><stop offset="0.1667" stop-color="#ff8700"/><stop offset="0.2" stop-color="#ff8200"/><stop offset="0.2333" stop-color="#ff7e00"/><stop offset="0.2667" stop-color="#ff7b00"/><stop offset="0.3" stop-color="#ff7900"/><stop offset="0.3333" stop-color="#ff7900"/><stop offset="0.3667" stop-color="#ff7900"/><stop offset="0.4" stop-color="#ff7b00"/><stop offset="0.4333" stop-color="#ff7d00"/><stop offset="0.4667" stop-color="#ff8100"/><stop offset="0.5" stop-color="#ff8500"/><stop offset="0.5333" stop-color="#ff8b00"/><stop offset="0.5667" stop-color="#ff9200"/><stop offset="0.6" stop-color="#ff9900"/><stop offset="0.6333" stop-color="#ffa200"/><stop offset="0.6667" stop-color="#ffac00"/><stop offset="0.7" stop-color="#ffb700"/><stop offset="0.7333" stop-color="#ffc300"/><stop offset="0.7667" stop-color="#ffd000"/><stop offset="0.8" stop-color="#ffde00"/><stop offset="0.8333" stop-color="#ffed00"/><stop offset="0.8667" stop-color="#fffd00"/><stop offset="0.9" stop-color="#f0ff00"/><stop offset="0.9333" stop-color="#deff00"/><stop offset="0.9667" stop-color="#cbff00"/><stop offset="1" stop-color="#b7ff00"/></linearGradient>
<linearGradient id="g31" x1="0" y1="0" x2="0" y2="1"><stop offset="0" stop-color="#ffae00"/><stop offset="0.03333" stop-color="#ffa400"/><stop offset="0.06667" stop-color="#ff9b00"/><stop offset="0.1" stop-color="#ff9300"/><stop offset="0.1333" stop-color="#ff8c00"/><stop offset="0.1667" stop-color="#ff8600"/><stop offset="0.2" stop-color="#ff8100"/><stop offset="0.2333" stop-color="#ff7d00"/><stop offset="0.2667" stop-color="#ff7a00"/><stop offset="0.3" stop-color="#ff7900"/><stop offset="0.3333" stop-color="#ff7800"/><stop offset="0.3667" stop-color="#ff7800"/><stop offset="0.4" stop-color="#ff7a00"/><stop offset="0.4333" stop-color="#ff7c00"/><stop offset="0.4667" stop-color="#ff8000"/><stop offset="0.5" stop-color="#ff8500"/><stop offset="0.5333" stop-color="#ff8a00"/><stop offset="0.5667" stop-color="#ff9100"/><stop offset="0.6" stop-color="#ff9900"/><stop offset="0.6333" stop-color="#ffa100"/><stop offset="0.6667" stop-color="#ffab00"/><stop offset="0.7" stop-color="#ffb600"/><stop offset="0.7333" stop-color="#ffc200"/><stop offset="0.7667" stop-color="#ffcf00"/><stop offset="0.8" stop-color="#ffdd00"/><stop offset="0.8333" stop-color="#ffed00"/><stop offset="0.8667" stop-color="#fffd00"/><stop offset="0.9" stop-color="#f1ff00"/><stop offset="0.9333" stop-color="#dfff00"/><stop offset="0.9667" stop-color="#ccff00"/><stop offset="1" stop-color="#b8ff00"/></linearGradient>
<linearGradient id="g32" x1="0" y1="0" x2="0" y2="1"><stop offset="0" stop-color="#ffad00"/><stop offset="0.03333" stop-color="#ffa300"/><stop offset="0.06667" stop-color="#ff9a00"/><stop offset="0.1" stop-color="#ff9200"/><stop offset="0.1333" stop-color="#ff8b00"/><stop offset="0.1667" stop-color="#ff8500"/><stop offset="0.2" stop-color="#ff8000"/><stop offset="0.2333" stop-color="#ff7c00"/><stop offset="0.2667" stop-color="#ff7a00"/><stop offset="0.3" stop-color="#ff7800"/><stop offset="0.3333" stop-color="#ff7700"/><stop offset="0.3667" stop-color="#ff7800"/><stop offset="0.4" stop-color="#ff7900"/><stop offset="0.4333" stop-color="#ff7c00"/><stop offset="0.4667" stop-color="#ff7f00"/><stop offset="0.5" stop-color="#ff8400"/><stop offset="0.5333" stop-color="#ff8900"/><stop offset="0.5667" stop-color="#ff9000"/><stop offset="0.6" stop-color="#ff9800"/><stop offset="0.6333" stop-color="#ffa100"/><stop offset="0.6667" stop-color="#ffab00"/><stop offset="0.7" stop-color="#ffb600"/><stop offset="0.7333" stop-color="#ffc100"/><stop offset="0.7667" stop-color="#ffcf00"/><stop offset="0.8" stop-color="#ffdd00"/><stop offset="0.8333" stop-color="#ffec00"/><stop offset="0.8667" stop-color="#fffc00"/><stop offset="0.9" stop-color="#f1ff00"/><stop offset="0.9333" stop-color="#dfff00"/><stop offset="0.9667" stop-color="#cdff00"/><stop offset="1" stop-color="#b9ff00"/></linearGradient>
<linearGradient id="g33" x1="0" y1="0" x2="0" y2="1"><stop offset="0" stop-color="#ffad00"/><stop offset="0.03333" stop-color="#ffa200"/><stop offset="0.06667" stop-color="#ff9900"/><stop offset="0.1" stop-color="#ff9100"/><stop offset="0.1333" stop-color="#ff8a00"/><stop offset="0.1667" stop-color="#ff8400"/><stop offset="0.2" stop-color="#ff8000"/><stop offset="0.2333" stop-color="#ff7c00"/><stop offset="0.2667" stop-color="#ff7900"/><stop offset="0.3" stop-color="#ff7700"/><stop offset="0.3333" stop-color="#ff7700"/><stop offset="0.3667" stop-color="#ff7700"/><stop offset="0.4" stop-color="#ff7800"/><stop offset="0.4333" stop-color="#ff7b00"/><stop offset="0.4667" stop-color="#ff7e00"/><stop offset="0.5" stop-color="#ff8300"/><stop offset="0.5333" stop-color="#ff8900"/><stop offset="0.5667" stop-color="#ff8f00"/><stop offset="0.6" stop-color="#ff9700"/><stop offset="0.6333" stop-color="#ffa000"/><stop offset="0.6667" stop-color="#ffaa00"/><stop offset="0.7" stop-color="#ffb500"/><stop offset="0.7333" stop-color="#ffc100"/><stop offset="0.7667" stop-color="#ffce00"/><stop offset="0.8" stop-color="#ffdc00"/><stop offset="0.8333" stop-color="#ffeb00"/><stop offset="0.8667" stop-color="#fffb00"/><stop offset="0.9" stop-color="#f2ff00"/><stop offset="0.9333" stop-color="#e0ff00"/><stop offset="0.9667" stop-color="#cdff00"/><stop offset="1" stop-color="#baff00"/></linearGradient>
<linearGradient id="g34" x1="0" y1="0" x2="0" y2="1"><stop offset="0" stop-color="#ffac00"/><stop offset="0.03333" stop-color="#ffa200"/><stop offset="0.06667" stop-color="#ff9900"/><stop offset="0.1" stop-color="#ff9100"/><stop offset="0.1333" stop-color="#ff8a00"/><stop offset="0.1667" stop-color="#ff8400"/><stop offset="0.2" stop-color="#ff7f00"/><stop offset="0.2333" stop-color="#ff7b00"/><stop offset="0.2667" stop-color="#ff7800"/><stop offset="0.3" stop-color="#ff7600"/><stop offset="0.3333" stop-color="#ff7600"/><stop offset="0.3667" stop-color="#ff7600"/><stop offset="0.4" stop-color="#ff7800"/><stop offset="0.4333" stop-color="#ff7a00"/><stop offset="0.4667" stop-color="#ff7e00"/><stop offset="0.5" stop-color="#ff8200"/><stop offset="0.5333" stop-color="#ff8800"/><stop offset="0.5667" stop-color="#ff8f00"/><stop offset="0.6" stop-color="#ff9600"/><stop offset="0.6333" stop-color="#ff9f00"/><stop offset="0.6667" stop-color="#ffa900"/><stop offset="0.7" stop-color="#ffb400"/><stop offset="0.7333" stop-color="#ffc000"/><stop offset="0.7667" stop-color="#ffcd00"/><stop offset="0.8" stop-color="#ffdb00"/><stop offset="0.8333" stop-color="#ffea00"/><stop offset="0.8667" stop-color="#fffa00"/><stop offset="0.9" stop-color="#f3ff00"/><stop offset="0.9333" stop-color="#e1ff00"/><stop offset="0.9667" stop-color="#ceff00"/><stop offset="1" stop-color="#baff00"/></linearGradient>
<linearGradient id="g35" x1="0" y1="0" x2="0" y2="1"><stop offset="0" stop-color="#ffab00"/><stop offset="0.03333" stop-color="#ffa100"/><stop offset="0.06667" stop-color="#ff9800"/><stop offset="0.1" stop-color="#ff9000"/><stop offset="0.1333" stop-color="#ff8900"/><stop offset="0.1667" stop-color="#ff8300"/><stop offset="0.2" stop-color="#ff7e00"/><stop offset="0.2333" stop-color="#ff7a00"/><stop offset="0.2667" stop-color="#ff7700"/><stop offset="0.3" stop-color="#ff7600"/><stop offset="0.3333" stop-color="#ff7500"/><stop offset="0.3667" stop-color="#ff7500"/><stop offset="0.4" stop-color="#ff7700"/><stop offset="0.4333" stop-color="#ff7900"/><stop offset="0.4667" stop-color="#ff7d00"/><stop offset="0.5" stop-color="#ff8100"/><stop offset="0.5333" stop-color="#ff8700"/><stop offset="0.5667" stop-color="#ff8e00"/><stop offset="0.6" stop-color="#ff9600"/><stop offset="0.6333" stop-color="#ff9e00"/><stop offset="0.6667" stop-color="#ffa800"/><stop offset="0.7" stop-color="#ffb300"/><stop offset="0.7333" stop-color="#ffbf00"/><stop offset="0.7667" stop-color="#ffcc00"/><stop offset="0.8" stop-color="#ffda00"/><stop offset="0.8333" stop-color="#ffe900"/><stop offset="0.8667" stop-color="#fffa00"/><stop offset="0.9" stop-color="#f3ff00"/><stop offset="0.9333" stop-color="#e2ff00"/><stop offset="0.9667" stop-color="#cfff00"/><stop offset="1" stop-color="#bbff00"/></linearGradient>
<linearGradient id="g36" x1="0" y1="0" x2="0" y2="1"><stop offset="0" stop-color="#ffaa00"/><stop offset="0.03333" stop-color="#ffa000"/><stop offset="0.06667" stop-color="#ff9700"/><stop offset="0.1" stop-color="#ff8f00"/><stop offset="0.1333" stop-color="#ff8800"/><stop offset="0.1667" stop-color="#ff8200"/><stop offset="0.2" stop-color="#ff7d00"/><stop offset="0.2333" stop-color="#ff7900"/><stop offset="0.2667" stop-color="#ff7700"/><stop offset="0.3" stop-color="#ff7500"/><stop offset="0.3333" stop-color="#ff7400"/><stop offset="0.3667" stop-color="#ff7500"/><stop offset="0.4" stop-color="#ff7600"/><stop offset="0.4333" stop-color="#ff7900"/><stop offset="0.4667" stop-color="#ff7c00"/><stop offset="0.5" stop-color="#ff8100"/><stop offset="0.5333" stop-color="#ff8600"/><stop offset="0.5667" stop-color="#ff8d00"/><stop offset="0.6" stop-color="#ff9500"/><stop offset="0.6333" stop-color="#ff9e00"/><stop offset="0.6667" stop-color="#ffa800"/><stop offset="0.7" stop-color="#ffb200"/><stop offset="0.7333" stop-color="#ffbe00"/><stop offset="0.7667" stop-color="#ffcb00"/><stop offset="0.8" stop-color="#ffda00"/><stop offset="0.8333" stop-color="#ffe900"/><stop offset="0.8667" stop-color="#fff900"/><stop offset="0.9" stop-color="#f4ff00"/><stop offset="0.9333" stop-color="#e2ff00"/><stop offset="0.9667" stop-color="#d0ff00"/><stop offset="1" stop-color="#bcff00"/></linearGradient>
<linearGradient id="g37" x1="0" y1="0" x2="0" y2="1"><stop offset="0" stop-color="#ffaa00"/><stop offset="0.03333" stop-color="#ff9f00"/><stop offset="0.06667" stop-color="#ff9600"/><stop offset="0.1" stop-color="#ff8e00"/><stop offset="0.1333" stop-color="#ff8700"/><stop offset="0.1667" stop-color="#ff8100"/><stop offset="0.2" stop-color="#ff7c00"/><stop offset="0.2333" stop-color="#ff7900"/><stop offset="0.2667" stop-color="#ff7600"/><stop offset="0.3" stop-color="#ff7400"/><stop offset="0.3333" stop-color="#ff7300"/><stop offset="0.3667" stop-color="#ff7400"/><stop offset="0.4" stop-color="#ff7500"/><stop offset="0.4333" stop-color="#ff7800"/><stop offset="0.4667" stop-color="#ff7b00"/><stop offset="0.5" stop-color="#ff8000"/><stop offset="0.5333" stop-color="#ff8600"/><stop offset="0.5667" stop-color="#ff8c00"/><stop offset="0.6" stop-color="#ff9400"/><stop offset="0.6333" stop-color="#ff9d00"/><stop offset="0.6667" stop-color="#ffa700"/><stop offset="0.7" stop-color="#ffb200"/><stop offset="0.7333" stop-color="#ffbe00"/><stop offset="0.7667" stop-color="#ffcb00"/><stop offset="0.8" stop-color="#ffd900"/><stop offset="0.8333" stop-color="#ffe800"/><stop offset="0.8667" stop-color="#fff800"/><stop offset="0.9" stop-color="#f5ff00"/><stop offset="0.9333" stop-color="#e3ff00"/><stop offset="0.9667" stop-color="#d0ff00"/><stop offset="1" stop-color="#bdff00"/></linearGradient>
<linearGradient id="g38" x1="0" y1="0" x2="0" y2="1"><stop offset="0" stop-color="#ffa900"/><stop offset="0.03333" stop-color="#ff9f00"/><stop offset="0.06667" stop-color="#ff9600"/><stop offset="0.1" stop-color="#ff8e00"/><stop offset="0.1333" stop-color="#ff8700"/><stop offset="0.1667" stop-color="#ff8100"/><stop offset="0.2" stop-color="#ff7c00"/><stop offset="0.2333" stop-color="#ff7800"/><stop offset="0.2667" stop-color="#ff7500"/><stop offset="0.3" stop-color="#ff7300"/><stop offset="0.3333" stop-color="#ff7300"/><stop offset="0.3667" stop-color="#ff7300"/><stop offset="0.4" stop-color="#ff7500"/><stop offset="0.4333" stop-color="#ff7700"/><stop offset="0.4667" stop-color="#ff7b00"/><stop offset="0.5" stop-color="#ff7f00"/><stop offset="0.5333" stop-color="#ff8500"/><stop offset="0.5667" stop-color="#ff8c00"/><stop offset="0.6" stop-color="#ff9300"/><stop offset="0.6333" stop-color="#ff9c00"/><stop offset="0.6667" stop-color="#ffa600"/><stop offset="0.7" stop-color="#ffb100"/><stop offset="0.7333" stop-color="#ffbd00"/><stop offset="0.7667" stop-color="#ffca00"/><stop offset="0.8" stop-color="#ffd800"/><stop offset="0.8333" stop-color="#ffe700"/><stop offset="0.8667" stop-color="#fff700"/><stop offset="0.9" stop-color="#f6ff00"/><stop offset="0.9333" stop-color="#e4ff00"/><stop offset="0.9667" stop-color="#d1ff00"/><stop offset="1" stop-color="#bdff00"/></linearGradient>
<linearGradient id="g39" x1="0" y1="0" x2="0" y2="1"><stop offset="0" stop-color="#ffa800"/><stop offset="0.03333" stop-color="#ff9e00"/><stop offset="0.06667" stop-color="#ff9500"/><stop offset="0.1" stop-color="#ff8d00"/><stop offset="0.1333" stop-color="#ff8600"/><stop offset="0.1667" stop-color="#ff8000"/><stop offset="0.2" stop-color="#ff7b00"/><stop offset="0.2333" stop-color="#ff7700"/><stop offset="0.2667" stop-color="#ff7400"/><stop offset="0.3" stop-color="#ff7300"/><stop offset="0.3333" stop-color="#ff7200"/><stop offset="0.3667" stop-color="#ff7200"/><stop offset="0.4" stop-color="#ff7400"/><stop offset="0.4333" stop-color="#ff7600"/><stop offset="0.4667" stop-color="#ff7a00"/><stop offset="0.5" stop-color="#ff7e00"/><stop offset="0.5333" stop-color="#ff8400"/><stop offset="0.5667" stop-color="#ff8b00"/><stop offset="0.6" stop-color="#ff9300"/><stop offset="0.6333" stop-color="#ff9b00"/><stop offset="0.6667" stop-color="#ffa500"/><stop offset="0.7" stop-color="#ffb000"/><stop offset="0.7333" stop-color="#ffbc00"/><stop offset="0.7667" stop-color="#ffc900"/><stop offset="0.8" stop-color="#ffd700"/><stop offset="0.8333" stop-color="#ffe600"/><stop offset="0.8667" stop-color="#fff700"/><stop offset="0.9" stop-color="#f6ff00"/><stop offset="0.9333" stop-color="#e5ff00"/><stop offset="0.9667" stop-color="#d2ff00"/><stop offset="1" stop-color="#beff00"/></linearGradient>
<linearGradient id="g40" x1="0" y1="0" x2="0" y2="1"><stop offset="0" stop-color="#ffa700"/><stop offset="0.03333" stop-color="#ff9d00"/><stop offset="0.06667" stop-color="#ff9400"/><stop offset="0.1" stop-color="#ff8c00"/><stop offset="0.1333" stop-color="#ff8500"/><stop offset="0.1667" stop-color="#ff7f00"/><stop offset="0.2" stop-color="#ff7a00"/><stop offset="0.2333" stop-color="#ff7600"/><stop offset="0.2667" stop-color="#ff7400"/><stop offset="0.3" stop-color="#ff7200"/><stop offset="0.3333" stop-color="#ff7100"/><stop offset="0.3667" stop-color="#ff7200"/><stop offset="0.4" stop-color="#ff7300"/><stop offset="0.4333" stop-color="#ff7600"/><stop offset="0.4667" stop-color="#ff7900"/><stop offset="0.5" stop-color="#ff7e00"/><stop offset="0.5333" stop-color="#ff8300"/><stop offset="0.5667" stop-color="#ff8a00"/><stop offset="0.6" stop-color="#ff9200"/><stop offset="0.6333" stop-color="#ff9b00"/><stop offset="0.6667" stop-color="#ffa500"/><stop offset="0.7" stop-color="#ffaf00"/><stop offset="0.7333" stop-color="#ffbb00"/><stop offset="0.7667" stop-color="#ffc800"/><stop offset="0.8" stop-color="#ffd700"/><stop offset="0.8333" stop-color="#ffe600"/><stop offset="0.8667" stop-color="#fff600"/><stop offset="0.9" stop-color="#f7ff00"/><stop offset="0.9333" stop-color="#e5ff00"/><stop offset="0.9667" stop-color="#d3ff00"/><stop offset="1" stop-color="#bfff00"/></linearGradient>
<linearGradient id="g41" x1="0" y1="0" x2="0" y2="1"><stop offset="0" stop-color="#ffa700"/><stop offset="0.03333" stop-color="#ff9c00"/><stop offset="0.06667" stop-color="#ff9300"/><stop offset="0.1" stop-color="#ff8b00"/><stop offset="0.1333" stop-color="#ff8400"/><stop offset="0.1667" stop-color="#ff7e00"/><stop offset="0.2" stop-color="#ff7900"/><stop offset="0.2333" stop-color="#ff7600"/><stop offset="0.2667" stop-color="#ff7300"/><stop offset="0.3" stop-color="#ff7100"/><stop offset="0.3333" stop-color="#ff7000"/><stop offset="0.3667" stop-color="#ff7100"/><stop offset="0.4" stop-color="#ff7200"/><stop offset="0.4333" stop-color="#ff7500"/><stop offset="0.4667" stop-color="#ff7800"/><stop offset="0.5" stop-color="#ff7d00"/><stop offset="0.5333" stop-color="#ff8300"/><stop offset="0.5667" stop-color="#ff8900"/><stop offset="0.6" stop-color="#ff9100"/><stop offset="0.6333" stop-color="#ff9a00"/><stop offset="0.6667" stop-color="#ffa400"/><stop offset="0.7" stop-color="#ffaf00"/><stop offset="0.7333" stop-color="#ffbb00"/><stop offset="0.7667" stop-color="#ffc800"/><stop offset="0.8" stop-color="#ffd600"/><stop offset="0.8333" stop-color="#ffe500"/><stop offset="0.8667" stop-color="#fff500"/><stop offset="0.9" stop-color="#f8ff00"/><stop offset="0.9333" stop-color="#e6ff00"/><stop offset="0.9667" stop-color="#d3ff00"/><stop offset="1" stop-color="#c0ff00"/></linearGradient>
<linearGradient id="g42" x1="0" y1="0" x2="0" y2="1"><stop offset="0" stop-color="#ffa600"/><stop offset="0.03333" stop-color="#ff9c00"/><stop offset="0.06667" stop-color="#ff9300"/><stop offset="0.1" stop-color="#ff8a00"/><stop offset="0.1333" stop-color="#ff8300"/><stop offset="0.1667" stop-color="#ff7e00"/><stop offset="0.2" stop-color="#ff7900"/><stop offset="0.2333" stop-color="#ff7500"/><stop offset="0.2667" stop-color="#ff7200"/><stop offset="0.3" stop-color="#ff7000"/><stop offset="0.3333" stop-color="#ff7000"/><stop offset="0.3667" stop-color="#ff7000"/><stop offset="0.4" stop-color="#ff7200"/><stop offset="0.4333" stop-color="#ff7400"/><stop offset="0.4667" stop-color="#ff7800"/><stop offset="0.5" stop-color="#ff7c00"/><stop offset="0.5333" stop-color="#ff8200"/><stop offset="0.5667" stop-color="#ff8900"/><stop offset="0.6" stop-color="#ff9000"/><stop offset="0.6333" stop-color="#ff9900"/><stop offset="0.6667" stop-color="#ffa300"/><stop offset="0.7" stop-color="#ffae00"/><stop offset="0.7333" stop-color="#ffba00"/><stop offset="0.7667" stop-color="#ffc700"/><stop offset="0.8" stop-color="#ffd500"/><stop offset="0.8333" stop-color="#ffe400"/><stop offset="0.8667" stop-color="#fff400"/><stop offset="0.9" stop-color="#f9ff00"/><stop offset="0.9333" stop-color="#e7ff00"/><stop offset="0.9667" stop-color="#d4ff00"/><stop offset="1" stop-color="#c0ff00"/></linearGradient>
<linearGradient id="g43" x1="0" y1="0" x2="0" y2="1"><stop offset="0" stop-color="#ffa500"/><stop offset="0.03333" stop-color="#ff9b00"/><stop offset="0.06667" stop-color="#ff9200"/><stop offset="0.1" stop-color="#ff8a00"/><stop offset="0.1333" stop-color="#ff8300"/><stop offset="0.1667" stop-color="#ff7d00"/><stop offset="0.2" stop-color="#ff7800"/><stop offset="0.2333" stop-color="#ff7400"/><stop offset="0.2667" stop-color="#ff7100"/><stop offset="0.3" stop-color="#ff7000"/><stop offset="0.3333" stop-color="#ff6f00"/><stop offset="0.3667" stop-color="#ff6f00"/><stop offset="0.4" stop-color="#ff7100"/><stop offset="0.4333" stop-color="#ff7300"/><stop offset="0.4667" stop-color="#ff7700"/><stop offset="0.5" stop-color="#ff7b00"/><stop offset="0.5333" stop-color="#ff8100"/><stop offset="0.5667" stop-color="#ff8800"/><stop offset="0.6" stop-color="#ff9000"/><stop offset="0.6333" stop-color="#ff9800"/><stop offset="0.6667" stop-color="#ffa200"/><stop offset="0.7" stop-color="#ffad00"/><stop offset="0.7333" stop-color="#ffb900"/><stop offset="0.7667" stop-color="#ffc600"/><stop offset="0.8" stop-color="#ffd400"/><stop offset="0.8333" stop-color="#ffe300"/><stop offset="0.8667" stop-color="#fff400"/><stop offset="0.9" stop-color="#f9ff00"/><stop offset="0.9333" stop-color="#e8ff00"/><stop offset="0.9667" stop-color="#d5ff00"/><stop offset="1" stop-color="#c1ff00"/></linearGradient>
<linearGradient id="g44" x1="0" y1="0" x2="0" y2="1"><stop offset="0" stop-color="#ffa400"/><stop offset="0.03333" stop-color="#ff9a00"/><stop offset="0.06667" stop-color="#ff9100"/><stop offset="0.1" stop-color="#ff8900"/><stop offset="0.1333" stop-color="#ff8200"/><stop offset="0.1667" stop-color="#ff7c00"/><stop offset="0.2" stop-color="#ff7700"/><stop offset="0.2333" stop-color="#ff7300"/><stop offset="0.2667" stop-color="#ff7100"/><stop offset="0.3" stop-color="#ff6f00"/><stop offset="0.3333" stop-color="#ff6e00"/><stop offset="0.3667" stop-color="#ff6f00"/><stop offset="0.4" stop-color="#ff7000"/><stop offset="0.4333" stop-color="#ff7300"/><stop offset="0.4667" stop-color="#ff7600"/><stop offset="0.5" stop-color="#ff7b00"/><stop offset="0.5333" stop-color="#ff8000"/><stop offset="0.5667" stop-color="#ff8700"/><stop offset="0.6" stop-color="#ff8f00"/><stop offset="0.6333" stop-color="#ff9800"/><stop offset="0.6667" stop-color="#ffa100"/><stop offset="0.7" stop-color="#ffac00"/><stop offset="0.7333" stop-color="#ffb800"/><stop offset="0.7667" stop-color="#ffc500"/><stop offset="0.8" stop-color="#ffd400"/><stop offset="0.8333" stop-color="#ffe300"/><stop offset="0.8667" stop-color="#fff300"/><stop offset="0.9" stop-color="#faff00"/><stop offset="0.9333" stop-color="#e8ff00"/><stop offset="0.9667" stop-color="#d6ff00"/><stop offset="1" stop-color="#c2ff00"/></linearGradient>
<linearGradient id="g45" x1="0" y1="0" x2="0" y2="1"><stop offset="0" stop-color="#ffa300"/><stop offset="0.03333" stop-color="#ff9900"/><stop offset="0.06667" stop-color="#ff9000"/><stop offset="0.1" stop-color="#ff8800"/><stop offset="0.1333" stop-color="#ff8100"/><stop offset="0.1667" stop-color="#ff7b00"/><stop offset="0.2" stop-color="#ff7600"/><stop offset="0.2333" stop-color="#ff7300"/><stop offset="0.2667" stop-color="#ff7000"/><stop offset="0.3" stop-color="#ff6e00"/><stop offset="0.3333" stop-color="#ff6d00"/><stop offset="0.3667" stop-color="#ff6e00"/><stop offset="0.4" stop-color="#ff6f00"/><stop offset="0.4333" stop-color="#ff7200"/><stop offset="0.4667" stop-color="#ff7500"/><stop offset="0.5" stop-color="#ff7a00"/><stop offset="0.5333" stop-color="#ff8000"/><stop offset="0.5667" stop-color="#ff8600"/><stop offset="0.6" stop-color="#ff8e00"/><stop offset="0.6333" stop-color="#ff9700"/><stop offset="0.6667" stop-color="#ffa100"/><stop offset="0.7" stop-color="#ffac00"/><stop offset="0.7333" stop-color="#ffb800"/><stop offset="0.7667" stop-color="#ffc500"/><stop offset="0.8" stop-color="#ffd300"/><stop offset="0.8333" stop-color="#ffe200"/><stop offset="0.8667" stop-color="#fff200"/><stop offset="0.9" stop-color="#fbff00"/><stop offset="0.9333" stop-color="#e9ff00"/><stop offset="0.9667" stop-color="#d6ff00"/><stop offset="1" stop-color="#c2ff00"/></linearGradient>
<linearGradient id="g46" x1="0" y1="0" x2="0" y2="1"><stop offset="0" stop-color="#ffa300"/><stop offset="0.03333" stop-color="#ff9900"/><stop offset="0.06667" stop-color="#ff8f00"/><stop offset="0.1" stop-color="#ff8700"/><stop offset="0.1333" stop-color="#ff8000"/><stop offset="0.1667" stop-color="#ff7b00"/><stop offset="0.2" stop-color="#ff7600"/><stop offset="0.2333" stop-color="#ff7200"/><stop offset="0.2667" stop-color="#ff6f00"/><stop offset="0.3" stop-color="#ff6d00"/><stop offset="0.3333" stop-color="#ff6d00"/><stop offset="0.3667" stop-color="#ff6d00"/><stop offset="0.4" stop-color="#ff6f00"/><stop offset="0.4333" stop-color="#ff7100"/><stop offset="0.4667" stop-color="#ff7500"/><stop offset="0.5" stop-color="#ff7900"/><stop offset="0.5333" stop-color="#ff7f00"/><stop offset="0.5667" stop-color="#ff8600"/><stop offset="0.6" stop-color="#ff8d00"/><stop offset="0.6333" stop-color="#ff9600"/><stop offset="0.6667" stop-color="#ffa000"/><stop offset="0.7" stop-color="#ffab00"/><stop offset="0.7333" stop-color="#ffb700"/><stop offset="0.7667" stop-color="#ffc400"/><stop offset="0.8" stop-color="#ffd200"/><stop offset="0.8333" stop-color="#ffe100"/><stop offset="0.8667" stop-color="#fff100"/><stop offset="0.9" stop-color="#fcff00"/><stop offset="0.9333" stop-color="#eaff00"/><stop offset="0.9667" stop-color="#d7ff00"/><stop offset="1" stop-color="#c3ff00"/></linearGradient>
<linearGradient id="g47" x1="0" y1="0" x2="0" y2="1"><stop offset="0" stop-color="#ffa200"/><stop offset="0.03333" stop-color="#ff9800"/><stop offset="0.06667" stop-color="#ff8f00"/><stop offset="0.1" stop-color="#ff8700"/><stop offset="0.1333" stop-color="#ff8000"/><stop offset="0.1667" stop-color="#ff7a00"/><stop offset="0.2" stop-color="#ff7500"/><stop offset="0.2333" stop-color="#ff7100"/><stop offset="0.2667" stop-color="#ff6e00"/><stop offset="0.3" stop-color="#ff6d00"/><stop offset="0.3333" stop-color="#ff6c00"/><stop offset="0.3667" stop-color="#ff6c00"/><stop offset="0.4" stop-color="#ff6e00"/><stop offset="0.4333" stop-color="#ff7000"/><stop offset="0.4667" stop-color="#ff7400"/><stop offset="0.5" stop-color="#ff7800"/><stop offset="0.5333" stop-color="#ff7e00"/><stop offset="0.5667" stop-color="#ff8500"/><stop offset="0.6" stop-color="#ff8d00"/><stop offset="0.6333" stop-color="#ff9500"/><stop offset="0.6667" stop-color="#ff9f00"/><stop offset="0.7" stop-color="#ffaa00"/><stop offset="0.7333" stop-color="#ffb600"/><stop offset="0.7667" stop-color="#ffc300"/><stop offset="0.8" stop-color="#ffd100"/><stop offset="0.8333" stop-color="#ffe000"/><stop offset="0.8667" stop-color="#fff100"/><stop offset="0.9" stop-color="#fcff00"/><stop offset="0.9333" stop-color="#eaff00"/><stop offset="0.9667" stop-color="#d8ff00"/><stop offset="1" stop-color="#c4ff00"/></linearGradient>
<linearGradient id="g48" x1="0" y1="0" x2="0" y2="1"><stop offset="0" stop-color="#ffa100"/><stop offset="0.03333" stop-color="#ff9700"/><stop offset="0.06667" stop-color="#ff8e00"/><stop offset="0.1" stop-color="#ff8600"/><stop offset="0.1333" stop-color="#ff7f00"/><stop offset="0.1667" stop-color="#ff7900"/><stop offset="0.2" stop-color="#ff7400"/><stop offset="0.2333" stop-color="#ff7000"/><stop offset="0.2667" stop-color="#ff6e00"/><stop offset="0.3" stop-color="#ff6c00"/><stop offset="0.3333" stop-color="#ff6b00"/><stop offset="0.3667" stop-color="#ff6c00"/><stop offset="0.4" stop-color="#ff6d00"/><stop offset="0.4333" stop-color="#ff6f00"/><stop offset="0.4667" stop-color="#ff7300"/><stop offset="0.5" stop-color="#ff7800"/><stop offset="0.5333" stop-color="#ff7d00"/><stop offset="0.5667" stop-color="#ff8400"/><stop offset="0.6" stop-color="#ff8c00"/><stop offset="0.6333" stop-color="#ff9500"/><stop offset="0.6667" stop-color="#ff9e00"/><stop offset="0.7" stop-color="#ffa900"/><stop offset="0.7333" stop-color="#ffb500"/><stop offset="0.7667" stop-color="#ffc200"/><stop offset="0.8" stop-color="#ffd100"/><stop offset="0.8333" stop-color="#ffe000"/><stop offset="0.8667" stop-color="#fff000"/><stop offset="0.9" stop-color="#fdff00"/><stop offset="0.9333" stop-color="#ebff00"/><stop offset="0.9667" stop-color="#d8ff00"/><stop offset="1" stop-color="#c5ff00"/></linearGradient>
<linearGradient id="g49" x1="0" y1="0" x2="0" y2="1"><stop offset="0" stop-color="#ffa000"/><stop offset="0.03333" stop-color="#ff9600"/><stop offset="0.06667" stop-color="#ff8d00"/><stop offset="0.1" stop-color="#ff8500"/><stop offset="0.1333" stop-color="#ff7e00"/><stop offset="0.1667" stop-color="#ff7800"/><stop offset="0.2" stop-color="#ff7300"/><stop offset="0.2333" stop-color="#ff7000"/><stop offset="0.2667" stop-color="#ff6d00"/><stop offset="0.3" stop-color="#ff6b00"/><stop offset="0.3333" stop-color="#ff6a00"/><stop offset="0.3667" stop-color="#ff6b00"/><stop offset="0.4" stop-color="#ff6c00"/><stop offset="0.4333" stop-color="#ff6f00"/><stop offset="0.4667" stop-color="#ff7200"/><stop offset="0.5" stop-color="#ff7700"/><stop offset="0.5333" stop-color="#ff7d00"/><stop offset="0.5667" stop-color="#ff8300"/><stop offset="0.6" stop-color="#ff8b00"/><stop offset="0.6333" stop-color="#ff9400"/><stop offset="0.6667" stop-color="#ff9e00"/><stop offset="0.7" stop-color="#ffa900"/><stop offset="0.7333" stop-color="#ffb500"/><stop offset="0.7667" stop-color="#ffc200"/><stop offset="0.8" stop-color="#ffd000"/><stop offset="0.8333" stop-color="#ffdf00"/><stop offset="0.8667" stop-color="#ffef00"/><stop offset="0.9" stop-color="#feff00"/><stop offset="0.9333" stop-color="#ecff00"/><stop offset="0.9667" stop-color="#d9ff00"/><stop offset="1" stop-color="#c5ff00"/></linearGradient>
<linearGradient id="g50" x1="0" y1="0" x2="0" y2="1"><stop offset="0" stop-color="#ffa000"/><stop offset="0.03333" stop-color="#ff9600"/><stop offset="0.06667" stop-color="#ff8c00"/><stop offset="0.1" stop-color="#ff8400"/><stop offset="0.1333" stop-color="#ff7d00"/><stop offset="0.1667" stop-color="#ff7800"/><stop offset="0.2" stop-color="#ff7300"/><stop offset="0.2333" stop-color="#ff6f00"/><stop offset="0.2667" stop-color="#ff6c00"/><stop offset="0.3" stop-color="#ff6a00"/><stop offset="0.3333" stop-color="#ff6a00"/><stop offset="0.3667" stop-color="#ff6a00"/><stop offset="0.4" stop-color="#ff6b00"/><stop offset="0.4333" stop-color="#ff6e00"/><stop offset="0.4667" stop-color="#ff7200"/><stop offset="0.5" stop-color="#ff7600"/><stop offset="0.5333" stop-color="#ff7c00"/><stop offset="0.5667" stop-color="#ff8300"/><stop offset="0.6" stop-color="#ff8a00"/><stop offset="0.6333" stop-color="#ff9300"/><stop offset="0.6667" stop-color="#ff9d00"/><stop offset="0.7" stop-color="#ffa800"/><stop offset="0.7333" stop-color="#ffb400"/><stop offset="0.7667" stop-color="#ffc100"/><stop offset="0.8" stop-color="#ffcf00"/><stop offset="0.8333" stop-color="#ffde00"/><stop offset="0.8667" stop-color="#ffee00"/><stop offset="0.9" stop-color="#feff00"/><stop offset="0.9333" stop-color="#edff00"/><stop offset="0.9667" stop-color="#daff00"/><stop offset="1" stop-color="#c6ff00"/></linearGradient>
<linearGradient id="g51" x1="0" y1="0" x2="0" y2="1"><stop offset="0" stop-color="#ff9f00"/><stop offset="0.03333" stop-color="#ff9500"/><stop offset="0.06667" stop-color="#ff8c00"/><stop offset="0.1" stop-color="#ff8400"/><stop offset="0.1333" stop-color="#ff7d00"/><stop offset="0.1667" stop-color="#ff7700"/><stop offset="0.2" stop-color="#ff7200"/><stop offset="0.2333" stop-color="#ff6e00"/><stop offset="0.2667" stop-color="#ff6b00"/><stop offset="0.3" stop-color="#ff6a00"/><stop offset="0.3333" stop-color="#ff6900"/><stop offset="0.3667" stop-color="#ff6900"/><stop offset="0.4" stop-color="#ff6b00"/><stop offset="0.4333" stop-color="#ff6d00"/><stop offset="0.4667" stop-color="#ff7100"/><stop offset="0.5" stop-color="#ff7500"/><stop offset="0.5333" stop-color="#ff7b00"/><stop offset="0.5667" stop-color="#ff8200"/><stop offset="0.6" stop-color="#ff8a00"/><stop offset="0.6333" stop-color="#ff9200"/><stop offset="0.6667" stop-color="#ff9c00"/><stop offset="0.7" stop-color="#ffa700"/><stop offset="0.7333" stop-color="#ffb300"/><stop offset="0.7667" stop-color="#ffc000"/><stop offset="0.8" stop-color="#ffce00"/><stop offset="0.8333" stop-color="#ffdd00"/><stop offset="0.8667" stop-color="#ffee00"/><stop offset="0.9" stop-color="#ffff00"/><stop offset="0.9333" stop-color="#edff00"/><stop offset="0.9667" stop-color="#dbff00"/><stop offset="1" stop-color="#c7ff00"/></linearGradient>
<linearGradient id="g52" x1="0" y1="0" x2="0" y2="1"><stop offset="0" stop-color="#ff9e00"/><stop offset="0.03333" stop-color="#ff9400"/><stop offset="0.06667" stop-color="#ff8b00"/><stop offset="0.1" stop-color="#ff8300"/><stop offset="0.1333" stop-color="#ff7c00"/><stop offset="0.1667" stop-color="#ff7600"/><stop offset="0.2" stop-color="#ff7100"/><stop offset="0.2333" stop-color="#ff6d00"/><stop offset="0.2667" stop-color="#ff6b00"/><stop offset="0.3" stop-color="#ff6900"/><stop offset="0.3333" stop-color="#ff6800"/><stop offset="0.3667" stop-color="#ff6900"/><stop offset="0.4" stop-color="#ff6a00"/><stop offset="0.4333" stop-color="#ff6c00"/><stop offset="0.4667" stop-color="#ff7000"/><stop offset="0.5" stop-color="#ff7500"/><stop offset="0.5333" stop-color="#ff7a00"/><stop offset="0.5667" stop-color="#ff8100"/><stop offset="0.6" stop-color="#ff8900"/><stop offset="0.6333" stop-color="#ff9200"/><stop offset="0.6667" stop-color="#ff9b00"/><stop offset="0.7" stop-color="#ffa600"/><stop offset="0.7333" stop-color="#ffb200"/><stop offset="0.7667" stop-color="#ffbf00"/><stop offset="0.8" stop-color="#ffce00"/><stop offset="0.8333" stop-color="#ffdd00"/><stop offset="0.8667" stop-color="#ffed00"/><stop offset="0.9" stop-color="#fffe00"/><stop offset="0.9333" stop-color="#eeff00"/><stop offset="0.9667" stop-color="#dbff00"/><stop offset="1" stop-color="#c8ff00"/></linearGradient>
<linearGradient id="g53" x1="0" y1="0" x2="0" y2="1"><stop offset="0" stop-color="#ff9d00"/><stop offset="0.03333" stop-color="#ff9300"/><stop offset="0.06667" stop-color="#ff8a00"/><stop offset="0.1" stop-color="#ff8200"/><stop offset="0.1333" stop-color="#ff7b00"/><stop offset="0.1667" stop-color="#ff7500"/><stop offset="0.2" stop-color="#ff7000"/><stop offset="0.2333" stop-color="#ff6d00"/><stop offset="0.2667" stop-color="#ff6a00"/><stop offset="0.3" stop-color="#ff6800"/><stop offset="0.3333" stop-color="#ff6700"/><stop offset="0.3667" stop-color="#ff6800"/><stop offset="0.4" stop-color="#ff6900"/><stop offset="0.4333" stop-color="#ff6c00"/><stop offset="0.4667" stop-color="#ff6f00"/><stop offset="0.5" stop-color="#ff7400"/><stop offset="0.5333" stop-color="#ff7a00"/><stop offset="0.5667" stop-color="#ff8000"/><stop offset="0.6" stop-color="#ff8800"/><stop offset="0.6333" stop-color="#ff9100"/><stop offset="0.6667" stop-color="#ff9b00"/><stop offset="0.7" stop-color="#ffa600"/><stop offset="0.7333" stop-color="#ffb200"/><stop offset="0.7667" stop-color="#ffbf00"/><stop offset="0.8" stop-color="#ffcd00"/><stop offset="0.8333" stop-color="#ffdc00"/><stop offset="0.8667" stop-color="#ffec00"/><stop offset="0.9" stop-color="#fffd00"/><stop offset="0.9333" stop-color="#efff00"/><stop offset="0.9667" stop-color="#dcff00"/><stop offset="1" stop-color="#c8ff00"/></linearGradient>
<linearGradient id="g54" x1="0" y1="0" x2="0" y2="1"><stop offset="0" stop-color="#ff9d00"/><stop offset="0.03333" stop-color="#ff9300"/><stop offset="0.06667" stop-color="#ff8900"/><stop offset="0.1" stop-color="#ff8100"/><stop offset="0.1333" stop-color="#ff7a00"/><stop offset="0.1667" stop-color="#ff7500"/><stop offset="0.2" stop-color="#ff7000"/><stop offset="0.2333" stop-color="#ff6c00"/><stop offset="0.2667" stop-color="#ff6900"/><stop offset="0.3" stop-color="#ff6700"/><stop offset="0.3333" stop-color="#ff6700"/><stop offset="0.3667" stop-color="#ff6700"/><stop offset="0.4" stop-color="#ff6800"/><stop offset="0.4333" stop-color="#ff6b00"/><stop offset="0.4667" stop-color="#ff6f00"/><stop offset="0.5" stop-color="#ff7300"/><stop offset="0.5333" stop-color="#ff7900"/><stop offset="0.5667" stop-color="#ff8000"/><stop offset="0.6" stop-color="#ff8700"/><stop offset="0.6333" stop-color="#ff9000"/><stop offset="0.6667" stop-color="#ff9a00"/><stop offset="0.7" stop-color="#ffa500"/><stop offset="0.7333" stop-color="#ffb100"/><stop offset="0.7667" stop-color="#ffbe00"/><stop offset="0.8" stop-color="#ffcc00"/><stop offset="0.8333" stop-color="#ffdb00"/><stop offset="0.8667" stop-color="#ffeb00"/><stop offset="0.9" stop-color="#fffd00"/><stop offset="0.9333" stop-color="#f0ff00"/><stop offset="0.9667" stop-color="#ddff00"/><stop offset="1" stop-color="#c9ff00"/></linearGradient>
<linearGradient id="g55" x1="0" y1="0" x2="0" y2="1"><stop offset="0" stop-color="#ff9c00"/><stop offset="0.03333" stop-color="#ff9200"/><stop offset="0.06667" stop-color="#ff8900"/><stop offset="0.1" stop-color="#ff8100"/><stop offset="0.1333" stop-color="#ff7a00"/><stop offset="0.1667" stop-color="#ff7400"/><stop offset="0.2" stop-color="#ff6f00"/><stop offset="0.2333" stop-color="#ff6b00"/><stop offset="0.2667" stop-color="#ff6800"/><stop offset="0.3" stop-color="#ff6700"/><stop offset="0.3333" stop-color="#ff6600"/><stop offset="0.3667" stop-color="#ff6600"/><stop offset="0.4" stop-color="#ff6800"/><stop offset="0.4333" stop-color="#ff6a00"/><stop offset="0.4667" stop-color="#ff6e00"/><stop offset="0.5" stop-color="#ff7200"/><stop offset="0.5333" stop-color="#ff7800"/><stop offset="0.5667" stop-color="#ff7f00"/><stop offset="0.6" stop-color="#ff8700"/><stop offset="0.6333" stop-color="#ff8f00"/><stop offset="0.6667" stop-color="#ff9900"/><stop offset="0.7" stop-color="#ffa400"/><stop offset="0.7333" stop-color="#ffb000"/><stop offset="0.7667" stop-color="#ffbd00"/><stop offset="0.8" stop-color="#ffcb00"/><stop offset="0.8333" stop-color="#ffda00"/><stop offset="0.8667" stop-color="#ffeb00"/><stop offset="0.9" stop-color="#fffc00"/><stop offset="0.9333" stop-color="#f0ff00"/><stop offset="0.9667" stop-color="#deff00"/><stop offset="1" stop-color="#caff00"/></linearGradient>
<linearGradient id="g56" x1="0" y1="0" x2="0" y2="1"><stop offset="0" stop-color="#ff9b00"/><stop offset="0.03333" stop-color="#ff9100"/><stop offset="0.06667" stop-color="#ff8800"/><stop offset="0.1" stop-color="#ff8000"/><stop offset="0.1333" stop-color="#ff7900"/><stop offset="0.1667" stop-color="#ff7300"/><stop offset="0.2" stop-color="#ff6e00"/><stop offset="0.2333" stop-color="#ff6a00"/><stop offset="0.2667" stop-color="#ff6800"/><stop offset="0.3" stop-color="#ff6600"/><stop offset="0.3333" stop-color="#ff6500"/><stop offset="0.3667" stop-color="#ff6600"/><stop offset="0.4" stop-color="#ff6700"/><stop offset="0.4333" stop-color="#ff6900"/><stop offset="0.4667" stop-color="#ff6d00"/><stop offset="0.5" stop-color="#ff7200"/><stop offset="0.5333" stop-color="#ff7700"/><stop offset="0.5667" stop-color="#ff7e00"/><stop offset="0.6" stop-color="#ff8600"/><stop offset="0.6333" stop-color="#ff8f00"/><stop offset="0.6667" stop-color="#ff9800"/><stop offset="0.7" stop-color="#ffa300"/><stop offset="0.7333" stop-color="#ffaf00"/><stop offset="0.7667" stop-color="#ffbc00"/><stop offset="0.8" stop-color="#ffcb00"/><stop offset="0.8333" stop-color="#ffda00"/><stop offset="0.8667" stop-color="#ffea00"/><stop offset="0.9" stop-color="#fffb00"/><stop offset="0.9333" stop-color="#f1ff00"/><stop offset="0.9667" stop-color="#deff00"/><stop offset="1" stop-color="#caff00"/></linearGradient>
<linearGradient id="g57" x1="0" y1="0" x2="0" y2="1"><stop offset="0" stop-color="#ff9a00"/><stop offset="0.03333" stop-color="#ff9000"/><stop offset="0.06667" stop-color="#ff8700"/><stop offset="0.1" stop-color="#ff7f00"/><stop offset="0.1333" stop-color="#ff7800"/><stop offset="0.1667" stop-color="#ff7200"/><stop offset="0.2" stop-color="#ff6d00"/><stop offset="0.2333" stop-color="#ff6a00"/><stop offset="0.2667" stop-color="#ff6700"/><stop offset="0.3" stop-color="#ff6500"/><stop offset="0.3333" stop-color="#ff6400"/><stop offset="0.3667" stop-color="#ff6500"/><stop offset="0.4" stop-color="#ff6600"/><stop offset="0.4333" stop-color="#ff6900"/><stop offset="0.4667" stop-color="#ff6c00"/><stop offset="0.5" stop-color="#ff7100"/><stop offset="0.5333" stop-color="#ff7700"/><stop offset="0.5667" stop-color="#ff7d00"/><stop offset="0.6" stop-color="#ff8500"/><stop offset="0.6333" stop-color="#ff8e00"/><stop offset="0.6667" stop-color="#ff9800"/><stop offset="0.7" stop-color="#ffa300"/><stop offset="0.7333" stop-color="#ffaf00"/><stop offset="0.7667" stop-color="#ffbc00"/><stop offset="0.8" stop-color="#ffca00"/><stop offset="0.8333" stop-color="#ffd900"/><stop offset="0.8667" stop-color="#ffe900"/><stop offset="0.9" stop-color="#fffa00"/><stop offset="0.9333" stop-color="#f2ff00"/><stop offset="0.9667" stop-color="#dfff00"/><stop offset="1" stop-color="#cbff00"/></linearGradient>
<linearGradient id="g58" x1="0" y1="0" x2="0" y2="1"><stop offset="0" stop-color="#ff9a00"/><stop offset="0.03333" stop-color="#ff9000"/><stop offset="0.06667" stop-color="#ff8600"/><stop offset="0.1" stop-color="#ff7e00"/><stop offset="0.1333" stop-color="#ff7700"/><stop offset="0.1667" stop-color="#ff7200"/><stop offset="0.2" stop-color="#ff6d00"/><stop offset="0.2333" stop-color="#ff6900"/><stop offset="0.2667" stop-color="#ff6600"/><stop offset="0.3" stop-color="#ff6400"/><stop offset="0.3333" stop-color="#ff6400"/><stop offset="0.3667" stop-color="#ff6400"/><stop offset="0.4" stop-color="#ff6600"/><stop offset="0.4333" stop-color="#ff6800"/><stop offset="0.4667" stop-color="#ff6c00"/><stop offset="0.5" stop-color="#ff7000"/><stop offset="0.5333" stop-color="#ff7600"/><stop offset="0.5667" stop-color="#ff7d00"/><stop offset="0.6" stop-color="#ff8400"/><stop offset="0.6333" stop-color="#ff8d00"/><stop offset="0.6667" stop-color="#ff9700"/><stop offset="0.7" stop-color="#ffa200"/><stop offset="0.7333" stop-color="#ffae00"/><stop offset="0.7667" stop-color="#ffbb00"/><stop offset="0.8" stop-color="#ffc900"/><stop offset="0.8333" stop-color="#ffd800"/><stop offset="0.8667" stop-color="#ffe800"/><stop offset="0.9" stop-color="#fffa00"/><stop offset="0.9333" stop-color="#f2ff00"/><stop offset="0.9667" stop-color="#e0ff00"/><stop offset="1" stop-color="#ccff00"/></linearGradient>
<linearGradient id="g59" x1="0" y1="0" x2="0" y2="1"><stop offset="0" stop-color="#ff9900"/><stop offset="0.03333" stop-color="#ff8f00"/><stop offset="0.06667" stop-color="#ff8600"/><stop offset="0.1" stop-color="#ff7e00"/><stop offset="0.1333" stop-color="#ff7700"/><stop offset="0.1667" stop-color="#ff7100"/><stop offset="0.2" stop-color="#ff6c00"/><stop offset="0.2333" stop-color="#ff6800"/><stop offset="0.2667" stop-color="#ff6500"/><stop offset="0.3" stop-color="#ff6400"/><stop offset="0.3333" stop-color="#ff6300"/><stop offset="0.3667" stop-color="#ff6300"/><stop offset="0.4" stop-color="#ff6500"/><stop offset="0.4333" stop-color="#ff6700"/><stop offset="0.4667" stop-color="#ff6b00"/><stop offset="0.5" stop-color="#ff6f00"/><stop offset="0.5333" stop-color="#ff7500"/><stop offset="0.5667" stop-color="#ff7c00"/><stop offset="0.6" stop-color="#ff8400"/><stop offset="0.6333" stop-color="#ff8c00"/><stop offset="0.6667" stop-color="#ff9600"/><stop offset="0.7" stop-color="#ffa100"/><stop offset="0.7333" stop-color="#ffad00"/><stop offset="0.7667" stop-color="#ffba00"/><stop offset="0.8" stop-color="#ffc800"/><stop offset="0.8333" stop-color="#ffd700"/><stop offset="0.8667" stop-color="#ffe800"/><stop offset="0.9" stop-color="#fff900"/><stop offset="0.9333" stop-color="#f3ff00"/><stop offset="0.9667" stop-color="#e0ff00"/><stop offset="1" stop-color="#cdff00"/></linearGradient>
<linearGradient id="g60" x1="0" y1="0" x2="0" y2="1"><stop offset="0" stop-color="#ff9800"/><stop offset="0.03333" stop-color="#ff8e00"/><stop offset="0.06667" stop-color="#ff8500"/><stop offset="0.1" stop-color="#ff7d00"/><stop offset="0.1333" stop-color="#ff7600"/><stop offset="0.1667" stop-color="#ff7000"/><stop offset="0.2" stop-color="#ff6b00"/><stop offset="0.2333" stop-color="#ff6700"/><stop offset="0.2667" stop-color="#ff6500"/><stop offset="0.3" stop-color="#ff6300"/><stop offset="0.3333" stop-color="#ff6200"/><stop offset="0.3667" stop-color="#ff6300"/><stop offset="0.4" stop-color="#ff6400"/><stop offset="0.4333" stop-color="#ff6700"/><stop offset="0.4667" stop-color="#ff6a00"/><stop offset="0.5" stop-color="#ff6f00"/><stop offset="0.5333" stop-color="#ff7400"/><stop offset="0.5667" stop-color="#ff7b00"/><stop offset="0.6" stop-color="#ff8300"/><stop offset="0.6333" stop-color="#ff8c00"/><stop offset="0.6667" stop-color="#ff9600"/><stop offset="0.7" stop-color="#ffa000"/><stop offset="0.7333" stop-color="#ffac00"/><stop offset="0.7667" stop-color="#ffb900"/><stop offset="0.8" stop-color="#ffc800"/><stop offset="0.8333" stop-color="#ffd700"/><stop offset="0.8667" stop-color="#ffe700"/><stop offset="0.9" stop-color="#fff800"/><stop offset="0.9333" stop-color="#f4ff00"/><stop offset="0.9667" stop-color="#e1ff00"/><stop offset="1" stop-color="#cdff00"/></linearGradient>
<linearGradient id="g61" x1="0" y1="0" x2="0" y2="1"><stop offset="0" stop-color="#ff9700"/><stop offset="0.03333" stop-color="#ff8d00"/><stop offset="0.06667" stop-color="#ff8400"/><stop offset="0.1" stop-color="#ff7c00"/><stop offset="0.1333" stop-color="#ff7500"/><stop offset="0.1667" stop-color="#ff6f00"/><stop offset="0.2" stop-color="#ff6a00"/><stop offset="0.2333" stop-color="#ff6700"/><stop offset="0.2667" stop-color="#ff6400"/><stop offset="0.3" stop-color="#ff6200"/><stop offset="0.3333" stop-color="#ff6100"/><stop offset="0.3667" stop-color="#ff6200"/><stop offset="0.4" stop-color="#ff6300"/><stop offset="0.4333" stop-color="#ff6600"/><stop offset="0.4667" stop-color="#ff6900"/><stop offset="0.5" stop-color="#ff6e00"/><stop offset="0.5333" stop-color="#ff7400"/><stop offset="0.5667" stop-color="#ff7a00"/><stop offset="0.6" stop-color="#ff8200"/><stop offset="0.6333" stop-color="#ff8b00"/><stop offset="0.6667" stop-color="#ff9500"/><stop offset="0.7" stop-color="#ffa000"/><stop offset="0.7333" stop-color="#ffac00"/><stop offset="0.7667" stop-color="#ffb900"/><stop offset="0.8" stop-color="#ffc700"/><stop offset="0.8333" stop-color="#ffd600"/><stop offset="0.8667" stop-color="#ffe600"/><stop offset="0.9" stop-color="#fff700"/><stop offset="0.9333" stop-color="#f5ff00"/><stop offset="0.9667" stop-color="#e2ff00"/><stop offset="1" stop-color="#ceff00"/></linearGradient>
<linearGradient id="g62" x1="0" y1="0" x2="0" y2="1"><stop offset="0" stop-color="#ff9700"/><stop offset="0.03333" stop-color="#ff8d00"/><stop offset="0.06667" stop-color="#ff8300"/><stop offset="0.1" stop-color="#ff7b00"/><stop offset="0.1333" stop-color="#ff7400"/><stop offset="0.1667" stop-color="#ff6f00"/><stop offset="0.2" stop-color="#ff6a00"/><stop offset="0.2333" stop-color="#ff6600"/><stop offset="0.2667" stop-color="#ff6300"/><stop offset="0.3" stop-color="#ff6100"/><stop offset="0.3333" stop-color="#ff6100"/><stop offset="0.3667" stop-color="#ff6100"/><stop offset="0.4" stop-color="#ff6300"/><stop offset="0.4333" stop-color="#ff6500"/><stop offset="0.4667" stop-color="#ff6900"/><stop offset="0.5" stop-color="#ff6d00"/><stop offset="0.5333" stop-color="#ff7300"/><stop offset="0.5667" stop-color="#ff7a00"/><stop offset="0.6" stop-color="#ff8100"/><stop offset="0.6333" stop-color="#ff8a00"/><stop offset="0.6667" stop-color="#ff9400"/><stop offset="0.7" stop-color="#ff9f00"/><stop offset="0.7333" stop-color="#ffab00"/><stop offset="0.7667" stop-color="#ffb800"/><stop offset="0.8" stop-color="#ffc600"/><stop offset="0.8333" stop-color="#ffd500"/><stop offset="0.8667" stop-color="#ffe500"/><stop offset="0.9" stop-color="#fff700"/><stop offset="0.9333" stop-color="#f5ff00"/><stop offset="0.9667" stop-color="#e3ff00"/><stop offset="1" stop-color="#cfff00"/></linearGradient>
<linearGradient id="g63" x1="0" y1="0" x2="0" y2="1"><stop offset="0" stop-color="#ff9600"/><stop offset="0.03333" stop-color="#ff8c00"/><stop offset="0.06667" stop-color="#ff8300"/><stop offset="0.1" stop-color="#ff7b00"/><stop offset="0.1333" stop-color="#ff7400"/><stop offset="0.1667" stop-color="#ff6e00"/><stop offset="0.2" stop-color="#ff6900"/><stop offset="0.2333" stop-color="#ff6500"/><stop offset="0.2667" stop-color="#ff6200"/><stop offset="0.3" stop-color="#ff6100"/><stop offset="0.3333" stop-color="#ff6000"/><stop offset="0.3667" stop-color="#ff6000"/><stop offset="0.4" stop-color="#ff6200"/><stop offset="0.4333" stop-color="#ff6400"/><stop offset="0.4667" stop-color="#ff6800"/><stop offset="0.5" stop-color="#ff6c00"/><stop offset="0.5333" stop-color="#ff7200"/><stop offset="0.5667" stop-color="#ff7900"/><stop offset="0.6" stop-color="#ff8100"/><stop offset="0.6333" stop-color="#ff8900"/><stop offset="0.6667" stop-color="#ff9300"/><stop offset="0.7" stop-color="#ff9e00"/><stop offset="0.7333" stop-color="#ffaa00"/><stop offset="0.7667" stop-color="#ffb700"/><stop offset="0.8" stop-color="#ffc500"/><stop offset="0.8333" stop-color="#ffd400"/><stop offset="0.8667" stop-color="#ffe500"/><stop offset="0.9" stop-color="#fff600"/><stop offset="0.9333" stop-color="#f6ff00"/><stop offset="0.9667" stop-color="#e3ff00"/><stop offset="1" stop-color="#cfff00"/></linearGradient>
<linearGradient id="g64" x1="0" y1="0" x2="0" y2="1"><stop offset="0" stop-color="#ff9500"/><stop offset="0.03333" stop-color="#ff8b00"/><stop offset="0.06667" stop-color="#ff8200"/><stop offset="0.1" stop-color="#ff7a00"/><stop offset="0.1333" stop-color="#ff7300"/><stop offset="0.1667" stop-color="#ff6d00"/><stop offset="0.2" stop-color="#ff6800"/><stop offset="0.2333" stop-color="#ff6400"/><stop offset="0.2667" stop-color="#ff6200"/><stop offset="0.3" stop-color="#ff6000"/><stop offset="0.3333" stop-color="#ff5f00"/><stop offset="0.3667" stop-color="#ff6000"/><stop offset="0.4" stop-color="#ff6100"/><stop offset="0.4333" stop-color="#ff6400"/><stop offset="0.4667" stop-color="#ff6700"/><stop offset="0.5" stop-color="#ff6c00"/><stop offset="0.5333" stop-color="#ff7100"/><stop offset="0.5667" stop-color="#ff7800"/><stop offset="0.6" stop-color="#ff8000"/><stop offset="0.6333" stop-color="#ff8900"/><stop offset="0.6667" stop-color="#ff9300"/><stop offset="0.7" stop-color="#ff9d00"/><stop offset="0.7333" stop-color="#ffa900"/><stop offset="0.7667" stop-color="#ffb600"/><stop offset="0.8" stop-color="#ffc500"/><stop offset="0.8333" stop-color="#ffd400"/><stop offset="0.8667" stop-color="#ffe400"/><stop offset="0.9" stop-color="#fff500"/><stop offset="0.9333" stop-color="#f7ff00"/><stop offset="0.9667" stop-color="#e4ff00"/><stop offset="1" stop-color="#d0ff00"/></linearGradient>
<linearGradient id="g65" x1="0" y1="0" x2="0" y2="1"><stop offset="0" stop-color="#ff9400"/><stop offset="0.03333" stop-color="#ff8a00"/><stop offset="0.06667" stop-color="#ff8100"/><stop offset="0.1" stop-color="#ff7900"/><stop offset="0.1333" stop-color="#ff7200"/><stop offset="0.1667" stop-color="#ff6c00"/><stop offset="0.2" stop-color="#ff6700"/><stop offset="0.2333" stop-color="#ff6400"/><stop offset="0.2667" stop-color="#ff6100"/><stop offset="0.3" stop-color="#ff5f00"/><stop offset="0.3333" stop-color="#ff5e00"/><stop offset="0.3667" stop-color="#ff5f00"/><stop offset="0.4" stop-color="#ff6000"/><stop offset="0.4333" stop-color="#ff6300"/><stop offset="0.4667" stop-color="#ff6600"/><stop offset="0.5" stop-color="#ff6b00"/><stop offset="0.5333" stop-color="#ff7100"/><stop offset="0.5667" stop-color="#ff7700"/><stop offset="0.6" stop-color="#ff7f00"/><stop offset="0.6333" stop-color="#ff8800"/><stop offset="0.6667" stop-color="#ff9200"/><stop offset="0.7" stop-color="#ff9d00"/><stop offset="0.7333" stop-color="#ffa900"/><stop offset="0.7667" stop-color="#ffb600"/><stop offset="0.8" stop-color="#ffc400"/><stop offset="0.8333" stop-color="#ffd300"/><stop offset="0.8667" stop-color="#ffe300"/><stop offset="0.9" stop-color="#fff400"/><stop offset="0.9333" stop-color="#f8ff00"/><stop offset="0.9667" stop-color="#e5ff00"/><stop offset="1" stop-color="#d1ff00"/></linearGradient>
<linearGradient id="g66" x1="0" y1="0" x2="0" y2="1"><stop offset="0" stop-color="#ff9400"/><stop offset="0.03333" stop-color="#ff8a00"/><stop offset="0.06667" stop-color="#ff8000"/><stop offset="0.1" stop-color="#ff7800"/><stop offset="0.1333" stop-color="#ff7100"/><stop offset="0.1667" stop-color="#ff6c00"/><stop offset="0.2" stop-color="#ff6700"/><stop offset="0.2333" stop-color="#ff6300"/><stop offset="0.2667" stop-color="#ff6000"/><stop offset="0.3" stop-color="#ff5e00"/><stop offset="0.3333" stop-color="#ff5e00"/><stop offset="0.3667" stop-color="#ff5e00"/><stop offset="0.4" stop-color="#ff6000"/><stop offset="0.4333" stop-color="#ff6200"/><stop offset="0.4667" stop-color="#ff6600"/><stop offset="0.5" stop-color="#ff6a00"/><stop offset="0.5333" stop-color="#ff7000"/><stop offset="0.5667" stop-color="#ff7700"/><stop offset="0.6" stop-color="#ff7e00"/><stop offset="0.6333" stop-color="#ff8700"/><stop offset="0.6667" stop-color="#ff9100"/><stop offset="0.7" stop-color="#ff9c00"/><stop offset="0.7333" stop-color="#ffa800"/><stop offset="0.7667" stop-color="#ffb500"/><stop offset="0.8" stop-color="#ffc300"/><stop offset="0.8333" stop-color="#ffd200"/><stop offset="0.8667" stop-color="#ffe200"/><stop offset="0.9" stop-color="#fff400"/><stop offset="0.9333" stop-color="#f8ff00"/><stop offset="0.9667" stop-color="#e5ff00"/><stop offset="1" stop-color="#d2ff00"/></linearGradient>
<linearGradient id="g67" x1="0" y1="0" x2="0" y2="1"><stop offset="0" stop-color="#ff9300"/><stop offset="0.03333" stop-color="#ff8900"/><stop offset="0.06667" stop-color="#ff8000"/><stop offset="0.1" stop-color="#ff7800"/><stop offset="0.1333" stop-color="#ff7100"/><stop offset="0.1667" stop-color="#ff6b00"/><stop offset="0.2" stop-color="#ff6600"/><stop offset="0.2333" stop-color="#ff6200"/><stop offset="0.2667" stop-color="#ff5f00"/><stop offset="0.3" stop-color="#ff5e00"/><stop offset="0.3333" stop-color="#ff5d00"/><stop offset="0.3667" stop-color="#ff5d00"/><stop offset="0.4" stop-color="#ff5f00"/><stop offset="0.4333" stop-color="#ff6100"/><stop offset="0.4667" stop-color="#ff6500"/><stop offset="0.5" stop-color="#ff6900"/><stop offset="0.5333" stop-color="#ff6f00"/><stop offset="0.5667" stop-color="#ff7600"/><stop offset="0.6" stop-color="#ff7e00"/><stop offset="0.6333" stop-color="#ff8600"/><stop offset="0.6667" stop-color="#ff9000"/><stop offset="0.7" stop-color="#ff9b00"/><stop offset="0.7333" stop-color="#ffa700"/><stop offset="0.7667" stop-color="#ffb400"/><stop offset="0.8" stop-color="#ffc200"/><stop offset="0.8333" stop-color="#ffd100"/><stop offset="0.8667" stop-color="#ffe200"/><stop offset="0.9" stop-color="#fff300"/><stop offset="0.9333" stop-color="#f9ff00"/><stop offset="0.9667" stop-color="#e6ff00"/><stop offset="1" stop-color="#d2ff00"/></linearGradient>
<linearGradient id="g68" x1="0" y1="0" x2="0" y2="1"><stop offset="0" stop-color="#ff9200"/><stop offset="0.03333" stop-color="#ff8800"/><stop offset="0.06667" stop-color="#ff7f00"/><stop offset="0.1" stop-color="#ff7700"/><stop offset="0.1333" stop-color="#ff7000"/><stop offset="0.1667" stop-color="#ff6a00"/><stop offset="0.2" stop-color="#ff6500"/><stop offset="0.2333" stop-color="#ff6100"/><stop offset="0.2667" stop-color="#ff5f00"/><stop offset="0.3" stop-color="#ff5d00"/><stop offset="0.3333" stop-color="#ff5c00"/><stop offset="0.3667" stop-color="#ff5d00"/><stop offset="0.4" stop-color="#ff5e00"/><stop offset="0.4333" stop-color="#ff6100"/><stop offset="0.4667" stop-color="#ff6400"/><stop offset="0.5" stop-color="#ff6900"/><stop offset="0.5333" stop-color="#ff6e00"/><stop offset="0.5667" stop-color="#ff7500"/><stop offset="0.6" stop-color="#ff7d00"/><stop offset="0.6333" stop-color="#ff8600"/><stop offset="0.6667" stop-color="#ff9000"/><stop offset="0.7" stop-color="#ff9b00"/><stop offset="0.7333" stop-color="#ffa600"/><stop offset="0.7667" stop-color="#ffb400"/><stop offset="0.8" stop-color="#ffc200"/><stop offset="0.8333" stop-color="#ffd100"/><stop offset="0.8667" stop-color="#ffe100"/><stop offset="0.9" stop-color="#fff200"/><stop offset="0.9333" stop-color="#faff00"/><stop offset="0.9667" stop-color="#e7ff00"/><stop offset="1" stop-color="#d3ff00"/></linearGradient>
<clipPath id="fc"><polygon points="1174.5,673.8 1535.4,521.3 1894.8,673.8 1535.4,869.0"/></clipPath></defs>
<rect x="0" y="0" width="2000" height="967" fill="#fff"/>
<rect x="190.0" y="49.7" width="10.6" height="745.1" fill="url(#g0)"/>
<rect x="200.0" y="49.7" width="10.6" height="745.1" fill="url(#g1)"/>
<rect x="210.0" y="49.7" width="10.6" height="745.1" fill="url(#g2)"/>
<rect x="220.0" y="49.7" width="10.6" height="745.1" fill="url(#g3)"/>
<rect x="230.0" y="49.7" width="10.6" height="745.1" fill="url(#g4)"/>
<rect x="240.0" y="49.7" width="10.6" height="745.1" fill="url(#g5)"/>
<rect x="250.0" y="49.7" width="10.6" height="745.1" fill="url(#g6)"/>
<rect x="260.0" y="49.7" width="10.6" height="745.1" fill="url(#g7)"/>
<rect x="270.0" y="49.7" width="10.6" height="745.1" fill="url(#g8)"/>
<rect x="280.0" y="49.7" width="10.6" height="745.1" fill="url(#g9)"/>
<rect x="290.0" y="49.7" width="10.6" height="745.1" fill="url(#g10)"/>
<rect x="300.0" y="49.7" width="10.6" height="745.1" fill="url(#g11)"/>
<rect x="310.0" y="49.7" width="10.6" height="745.1" fill="url(#g12)"/>
<rect x="320.0" y="49.7" width="10.6" height="745.1" fill="url(#g13)"/>
<rect x="330.0" y="49.7" width="10.6" height="745.1" fill="url(#g14)"/>
<rect x="340.0" y="49.7" width="10.6" height="745.1" fill="url(#g15)"/>
<rect x="350.0" y="49.7" width="10.6" height="745.1" fill="url(#g16)"/>
<rect x="360.0" y="49.7" width="10.6" height="745.1" fill="url(#g17)"/>
<rect x="370.0" y="49.7" width="10.6" height="745.1" fill="url(#g18)"/>
<rect x="380.0" y="49.7" width="10.6" height="745.1" fill="url(#g19)"/>
<rect x="390.0" y="49.7" width="10.6" height="745.1" fill="url(#g20)"/>
<rect x="400.0" y="49.7" width="10.6" height="745.1" fill="url(#g21)"/>
<rect x="410.0" y="49.7" width="10.6" height="745.1" fill="url(#g22)"/>
<rect x="420.0" y="49.7" width="10.6" height="745.1" fill="url(#g23)"/>
<rect x="430.0" y="49.7" width="10.6" height="745.1" fill="url(#g24)"/>
<rect x="440.0" y="49.7" width="10.6" height="745.1" fill="url(#g25)"/>
<rect x="450.0" y="49.7" width="10.6" height="745.1" fill="url(#g26)"/>
<rect x="460.0" y="49.7" width="10.6" height="745.1" fill="url(#g27)"/>
<rect x="470.0" y="49.7" width="10.6" height="745.1" fill="url(#g28)"/>
<rect x="480.0" y="49.7" width="10.6" height="745.1" fill="url(#g29)"/>
<rect x="490.0" y="49.7" width="10.6" height="745.1" fill="url(#g30)"/>
<rect x="500.0" y="49.7" width="10.6" height="745.1" fill="url(#g31)"/>
<rect x="510.0" y="49.7" width="10.6" height="745.1" fill="url(#g32)"/>
<rect x="520.0" y="49.7" width="10.6" height="745.1" fill="url(#g33)"/>
<rect x="530.0" y="49.7" width="10.6" height="745.1" fill="url(#g34)"/>
<rect x="540.0" y="49.7" width="10.6" height="745.1" fill="url(#g35)"/>
<rect x="550.0" y="49.7" width="10.6" height="745.1" fill="url(#g36)"/>
<rect x="560.0" y="49.7" width="10.6" height="745.1" fill="url(#g37)"/>
<rect x="570.0" y="49.7" width="10.6" height="745.1" fill="url(#g38)"/>
<rect x="580.0" y="49.7" width="10.6" height="745.1" fill="url(#g39)"/>
<rect x="590.0" y="49.7" width="10.6" height="745.1" fill="url(#g40)"/>
<rect x="600.0" y="49.7" width="10.6" height="745.1" fill="url(#g41)"/>
<rect x="610.0" y="49.7" width="10.6" height="745.1" fill="url(#g42)"/>
<rect x="620.0" y="49.7" width="10.6" height="745.1" fill="url(#g43)"/>
<rect x="630.0" y="49.7" width="10.6" height="745.1" fill="url(#g44)"/>
<rect x="640.0" y="49.7" width="10.6" height="745.1" fill="url(#g45)"/>
<rect x="650.0" y="49.7" width="10.6" height="745.1" fill="url(#g46)"/>
<rect x="660.0" y="49.7" width="10.6" height="745.1" fill="url(#g47)"/>
<rect x="670.0" y="49.7" width="10.6" height="745.1" fill="url(#g48)"/>
<rect x="680.0" y="49.7" width="10.6" height="745.1" fill="url(#g49)"/>
<rect x="690.0" y="49.7" width="10.6" height="745.1" fill="url(#g50)"/>
<rect x="700.0" y="49.7" width="10.6" height="745.1" fill="url(#g51)"/>
<rect x="710.0" y="49.7" width="10.6" height="745.1" fill="url(#g52)"/>
<rect x="720.0" y="49.7" width="10.6" height="745.1" fill="url(#g53)"/>
<rect x="730.0" y="49.7" width="10.6" height="745.1" fill="url(#g54)"/>
<rect x="740.0" y="49.7" width="10.6" height="745.1" fill="url(#g55)"/>
<rect x="750.0" y="49.7" width="10.6" height="745.1" fill="url(#g56)"/>
<rect x="760.0" y="49.7" width="10.6" height="745.1" fill="url(#g57)"/>
<rect x="770.0" y="49.7" width="10.6" height="745.1" fill="url(#g58)"/>
<rect x="780.0" y="49.7" width="10.6" height="745.1" fill="url(#g59)"/>
<rect x="790.0" y="49.7" width="10.6" height="745.1" fill="url(#g60)"/>
<rect x="800.0" y="49.7" width="10.6" height="745.1" fill="url(#g61)"/>
<rect x="810.0" y="49.7" width="10.6" height="745.1" fill="url(#g62)"/>
<rect x="820.0" y="49.7" width="10.6" height="745.1" fill="url(#g63)"/>
<rect x="830.0" y="49.7" width="10.6" height="745.1" fill="url(#g64)"/>
<rect x="840.0" y="49.7" width="10.6" height="745.1" fill="url(#g65)"/>
<rect x="850.0" y="49.7" width="10.6" height="745.1" fill="url(#g66)"/>
<rect x="860.0" y="49.7" width="10.6" height="745.1" fill="url(#g67)"/>
<rect x="870.0" y="49.7" width="10.0" height="745.1" fill="url(#g68)"/>
<polyline points="190.0,748.8 196.9,749.5 202.5,750.1 207.2,750.6 214.2,751.3 221.0,752.0 227.9,752.7 234.8,753.4 239.3,753.8 245.2,754.4 252.1,755.1 259.0,755.8 265.9,756.5 272.8,757.2 276.5,757.5 283.1,758.2 290.1,758.9 297.0,759.6 303.9,760.3 310.8,760.9 314.2,761.3 321.1,762.0 328.0,762.6 334.9,763.3 341.8,764.0 348.7,764.7 352.2,765.0 359.0,765.7 366.0,766.3 372.9,767.0 379.8,767.7 386.7,768.3 390.6,768.7 397.0,769.3 403.9,770.0 410.8,770.7 417.7,771.3 424.6,772.0 429.6,772.4 434.9,773.0 441.9,773.6 448.8,774.3 455.7,774.9 462.6,775.6 468.9,776.2 472.9,776.5 479.8,777.2 486.7,777.8 493.6,778.5 500.5,779.1 507.4,779.8 510.9,780.1 517.8,780.7 524.6,781.4 531.5,782.0 538.5,782.6 545.4,783.3 549.0,783.6 555.7,784.2 562.6,784.9 569.5,785.5 576.4,786.1 583.3,786.8 589.7,787.3 593.6,787.7 600.5,788.3 607.5,789.0 614.3,789.6 621.2,790.2 628.2,790.8 631.6,791.1 638.5,791.8 645.4,792.4 652.3,793.0 659.2,793.6 666.1,794.2 672.5,794.8 672.5,794.8" fill="none" stroke="#1a1a1a" stroke-width="1.6"/>
<polyline points="190.0,694.6 196.9,695.4 203.8,696.2 210.7,697.0 217.6,697.8 221.0,698.2 228.0,699.0 234.8,699.8 241.8,700.5 248.6,701.3 252.1,701.7 259.0,702.5 265.9,703.3 272.8,704.1 279.7,704.8 284.5,705.4 290.1,706.0 297.0,706.8 303.9,707.6 310.8,708.3 317.6,709.1 321.1,709.5 328.0,710.2 334.9,711.0 341.8,711.8 348.7,712.5 352.1,712.9 359.0,713.7 366.0,714.4 372.9,715.2 379.8,715.9 385.7,716.6 390.1,717.0 397.0,717.8 403.9,718.5 410.8,719.3 417.7,720.0 421.1,720.4 428.1,721.1 434.9,721.9 441.9,722.6 448.8,723.3 455.3,724.0 459.1,724.4 466.0,725.1 472.9,725.9 479.8,726.6 486.7,727.3 490.7,727.7 497.1,728.4 503.9,729.1 510.9,729.8 517.8,730.6 524.6,731.3 528.1,731.6 535.0,732.3 541.9,733.1 548.8,733.8 555.7,734.5 562.6,735.2 566.0,735.5 573.0,736.2 579.9,736.9 586.8,737.6 593.6,738.3 599.3,738.9 604.0,739.4 610.9,740.1 617.8,740.8 624.7,741.5 631.6,742.2 636.4,742.6 642.0,743.2 648.9,743.9 655.8,744.6 662.7,745.2 669.6,745.9 673.9,746.4 679.9,747.0 686.8,747.6 693.7,748.3 700.6,749.0 707.5,749.7 711.9,750.1 717.9,750.7 724.8,751.3 731.6,752.0 738.6,752.7 745.5,753.3 750.3,753.8 755.8,754.3 762.7,755.0 769.6,755.7 776.5,756.3 783.4,757.0 789.2,757.5 793.8,758.0 800.6,758.6 807.6,759.3 814.5,759.9 821.4,760.6 828.2,761.3 831.7,761.6 838.6,762.2 845.5,762.9 852.4,763.5 859.3,764.2 866.2,764.8 869.6,765.1 876.5,765.8 880.0,766.1" fill="none" stroke="#1a1a1a" stroke-width="1.6"/>
<polyline points="190.0,631.5 196.9,632.5 203.8,633.5 210.7,634.4 214.2,634.9 221.0,635.8 228.0,636.8 234.9,637.7 239.5,638.3 245.2,639.1 252.1,640.0 259.0,641.0 265.9,641.9 269.4,642.3 276.2,643.3 283.1,644.2 290.1,645.1 295.3,645.8 300.4,646.5 307.3,647.4 314.2,648.3 321.1,649.2 324.6,649.6 331.5,650.5 338.3,651.4 345.2,652.3 352.1,653.2 355.6,653.6 362.5,654.5 369.4,655.4 376.3,656.3 381.8,657.0 386.7,657.6 393.5,658.4 400.4,659.3 407.4,660.2 411.4,660.7 417.7,661.5 424.6,662.3 431.5,663.2 438.4,664.0 441.9,664.5 448.8,665.3 455.7,666.2 462.6,667.0 469.5,667.9 472.9,668.3 479.8,669.1 486.7,670.0 493.6,670.8 500.5,671.6 503.9,672.0 510.9,672.9 517.8,673.7 524.6,674.5 531.5,675.3 535.0,675.7 541.9,676.6 548.8,677.4 555.7,678.2 562.6,679.0 566.0,679.4 573.0,680.2 579.9,681.0 586.8,681.8 593.6,682.6 597.1,683.0 604.0,683.8 610.9,684.6 617.8,685.4 624.7,686.2 629.4,686.8 635.0,687.4 642.0,688.2 648.9,689.0 655.8,689.8 662.2,690.5 666.1,690.9 673.0,691.7 679.9,692.5 686.8,693.3 693.7,694.0 697.1,694.4 704.0,695.2 711.0,695.9 717.9,696.7 724.8,697.5 728.9,697.9 735.1,698.6 742.0,699.4 748.9,700.1 755.8,700.9 762.7,701.6 766.1,702.0 773.0,702.8 779.9,703.5 786.9,704.3 793.8,705.0 797.3,705.4 804.1,706.1 811.0,706.9 817.9,707.6 824.8,708.3 831.7,709.1 835.2,709.4 842.1,710.2 849.0,710.9 855.9,711.6 862.8,712.3 867.4,712.8 873.1,713.4 880.0,714.2 880.0,714.2" fill="none" stroke="#1a1a1a" stroke-width="1.6"/>
<polyline points="190.0,553.2 196.9,554.4 203.8,555.7 207.5,556.4 214.2,557.5 221.0,558.8 227.9,560.0 231.4,560.6 238.3,561.8 245.2,563.0 249.7,563.8 255.5,564.8 262.4,566.0 269.4,567.2 272.8,567.8 279.7,569.0 286.6,570.1 293.3,571.3 297.0,571.9 303.9,573.0 310.8,574.2 315.6,575.0 321.1,575.9 328.0,577.0 334.9,578.2 338.3,578.7 345.2,579.8 352.1,581.0 359.0,582.1 362.5,582.6 369.4,583.7 376.3,584.8 383.2,585.9 386.7,586.5 393.5,587.6 400.4,588.7 407.4,589.7 410.8,590.3 417.7,591.3 424.6,592.4 431.5,593.5 434.9,594.0 441.9,595.1 448.8,596.1 455.7,597.2 459.1,597.7 466.0,598.7 472.9,599.8 479.8,600.8 483.2,601.3 490.1,602.3 497.1,603.3 503.9,604.4 507.4,604.9 514.3,605.9 521.2,606.9 528.1,607.9 532.4,608.5 538.5,609.4 545.4,610.4 552.2,611.4 558.3,612.3 562.6,612.9 569.5,613.8 576.4,614.8 583.3,615.8 586.8,616.3 593.6,617.3 600.5,618.2 607.5,619.2 611.2,619.7 617.8,620.6 624.7,621.6 631.6,622.5 638.2,623.4 642.0,623.9 648.9,624.9 655.8,625.8 662.7,626.8 666.1,627.2 673.0,628.1 679.9,629.1 686.8,630.0 693.4,630.9 697.1,631.4 704.0,632.3 711.0,633.2 717.9,634.1 721.5,634.6 728.2,635.5 735.1,636.4 742.0,637.3 748.9,638.2 752.4,638.6 759.2,639.5 766.1,640.4 773.0,641.3 779.0,642.1 783.4,642.6 790.3,643.5 797.2,644.4 804.1,645.2 808.3,645.8 814.5,646.5 821.4,647.4 828.2,648.3 835.2,649.1 838.6,649.6 845.5,650.4 852.4,651.3 859.3,652.1 866.2,653.0 869.6,653.4 876.5,654.3 880.0,654.7" fill="none" stroke="#1a1a1a" stroke-width="1.6"/>
<polyline points="190.0,434.8 196.8,437.2 200.4,438.3 207.2,440.6 210.7,441.8 217.6,444.0 221.0,445.1 228.0,447.3 231.4,448.4 238.3,450.5 243.4,452.1 248.7,453.6 255.5,455.7 259.0,456.7 265.9,458.7 269.4,459.7 276.2,461.7 281.8,463.2 286.6,464.6 293.5,466.5 297.0,467.4 303.9,469.3 308.9,470.7 314.2,472.1 321.1,473.9 324.6,474.8 331.5,476.6 337.3,478.1 341.8,479.3 348.7,481.0 352.1,481.9 359.0,483.6 366.0,485.3 369.4,486.1 376.3,487.8 382.4,489.3 386.7,490.3 393.5,492.0 398.1,493.0 403.9,494.4 410.8,496.0 414.2,496.8 421.1,498.4 428.1,499.9 431.5,500.7 438.4,502.3 445.3,503.8 448.8,504.6 455.7,506.1 462.6,507.6 466.0,508.3 472.9,509.8 479.8,511.3 483.2,512.0 490.1,513.5 497.1,514.9 500.5,515.7 507.4,517.1 514.3,518.5 517.8,519.2 524.6,520.6 531.5,522.0 535.6,522.8 541.9,524.1 548.8,525.5 554.3,526.6 559.2,527.5 566.0,528.9 573.0,530.2 576.4,530.9 583.3,532.2 590.2,533.5 593.6,534.2 600.5,535.5 607.5,536.8 612.5,537.7 617.8,538.7 624.7,540.0 631.6,541.3 635.0,541.9 642.0,543.2 648.9,544.4 653.0,545.2 659.2,546.3 666.1,547.5 673.0,548.8 676.5,549.4 683.3,550.6 690.2,551.8 694.9,552.6 700.6,553.6 707.5,554.8 714.4,556.0 717.9,556.6 724.8,557.8 731.6,559.0 738.3,560.1 742.0,560.7 748.9,561.9 755.8,563.0 760.5,563.8 766.1,564.8 773.0,565.9 779.9,567.0 783.4,567.6 790.3,568.7 797.2,569.8 804.1,571.0 807.6,571.5 814.5,572.6 821.4,573.7 828.2,574.8 831.7,575.4 838.6,576.5 845.5,577.5 852.4,578.6 855.9,579.2 862.8,580.2 869.6,581.3 876.5,582.4 880.0,582.9 880.0,582.9" fill="none" stroke="#1a1a1a" stroke-width="1.6"/>
<polyline points="696.1,49.7 690.2,50.7 683.3,51.9 676.5,53.2 673.0,53.8 666.1,55.0 659.2,56.3 654.3,57.2 648.9,58.1 642.0,59.4 635.0,60.7 631.6,61.3 624.7,62.6 617.8,63.9 613.9,64.6 607.5,65.8 600.5,67.1 594.2,68.3 590.2,69.1 583.3,70.4 576.4,71.7 573.0,72.4 566.0,73.8 559.2,75.1 555.7,75.8 548.8,77.2 541.9,78.6 537.1,79.5 531.5,80.6 524.6,82.0 518.8,83.2 514.3,84.2 507.4,85.6 500.8,87.0 497.1,87.7 490.1,89.2 483.2,90.7 479.8,91.4 472.9,92.9 466.0,94.4 462.6,95.1 455.7,96.6 448.8,98.1 445.3,98.9 438.4,100.5 432.2,101.9 428.1,102.8 421.1,104.4 415.8,105.6 410.8,106.8 403.9,108.4 399.8,109.3 393.5,110.8 386.7,112.4 383.2,113.3 376.3,114.9 369.4,116.6 366.0,117.5 359.0,119.2 353.8,120.5 348.7,121.8 341.8,123.5 338.3,124.4 331.5,126.2 324.7,127.9 321.1,128.9 314.2,130.7 310.6,131.7 303.9,133.5 297.0,135.4 293.5,136.3 286.6,138.2 283.1,139.2 276.2,141.2 270.4,142.8 265.9,144.1 259.0,146.2 255.5,147.2 248.7,149.2 245.1,150.3 238.3,152.4 233.0,154.0 227.9,155.6 221.1,157.7 217.6,158.9 210.7,161.1 207.2,162.2 200.4,164.5 196.9,165.7 190.0,168.1 190.0,168.1" fill="none" stroke="#1a1a1a" stroke-width="1.6"/>
<polyline points="880.0,117.5 873.1,119.1 867.3,120.5 862.8,121.6 855.9,123.3 852.0,124.2 845.5,125.8 838.6,127.5 835.2,128.4 828.2,130.2 822.3,131.7 817.9,132.8 811.0,134.6 807.6,135.5 800.6,137.3 794.0,139.1 790.3,140.1 783.4,142.0 779.9,143.0 773.0,144.9 767.0,146.6 762.7,147.8 755.8,149.8 752.4,150.8 745.5,152.8 741.4,154.0 735.1,155.9 729.0,157.7 724.8,159.1 717.9,161.2 714.4,162.3 707.5,164.5 704.0,165.6 697.1,167.9 693.7,169.0 686.8,171.3 683.0,172.6 676.5,174.9 672.3,176.4 666.1,178.6 661.9,180.1 655.8,182.4 651.8,183.8 645.4,186.3 642.0,187.6 635.0,190.3 631.6,191.7 624.7,194.5 621.2,196.0 614.8,198.7 610.9,200.4 606.3,202.4 600.5,205.1 597.1,206.7 590.4,209.9 586.8,211.7 582.9,213.6 576.4,217.0 573.0,218.8 568.8,221.1 562.6,224.6 559.2,226.6 555.7,228.7 550.1,232.2 545.4,235.4 541.9,237.8 538.5,240.2 534.2,243.4 529.5,247.2 525.1,250.9 521.2,254.5 517.8,257.9 514.3,261.6 510.9,265.7 508.0,269.5 505.5,273.2 503.3,277.0 500.5,282.8 498.6,288.1 497.1,295.3 496.7,299.3 497.0,306.8 497.6,310.5 499.7,317.9 501.3,321.7 503.9,326.9 507.4,332.3 510.5,336.6 513.6,340.3 517.0,344.0 520.7,347.7 524.6,351.4 528.1,354.3 531.5,357.2 535.0,359.9 538.7,362.6 544.0,366.4 548.8,369.6 552.2,371.8 555.7,373.9 561.7,377.5 566.0,380.0 569.5,381.9 575.1,385.0 579.9,387.4 583.3,389.2 589.8,392.4 593.6,394.3 597.6,396.2 604.0,399.1 607.5,400.7 614.2,403.6 617.8,405.2 623.0,407.3 628.2,409.5 632.0,411.1 638.5,413.6 642.0,415.0 648.9,417.6 652.3,418.9 659.2,421.5 662.7,422.8 669.6,425.2 673.0,426.5 679.9,428.9 683.3,430.0 690.2,432.4 693.7,433.5 700.6,435.8 704.7,437.2 711.0,439.1 716.4,440.9 721.3,442.4 728.2,444.5 731.6,445.6 738.6,447.7 742.0,448.7 748.9,450.7 753.5,452.1 759.2,453.7 766.1,455.7 769.6,456.7 776.5,458.6 779.9,459.5 786.9,461.4 793.5,463.2 797.2,464.2 804.1,466.1 807.6,467.0 814.5,468.8 821.4,470.5 824.8,471.4 831.7,473.2 836.5,474.4 842.1,475.8 849.0,477.5 852.4,478.3 859.3,480.0 866.2,481.7 869.6,482.5 876.6,484.1 880.0,485.0" fill="none" stroke="#1a1a1a" stroke-width="1.6"/>
<rect x="190.0" y="49.7" width="690.0" height="745.1" fill="none" stroke="#222" stroke-width="1.4"/>
<line x1="174" y1="49.7" x2="190.0" y2="49.7" stroke="#222" stroke-width="1.4"/>
<text transform="translate(167.8,44.5) scale(0.880,1)" text-anchor="end" font-size="21.3" fill="#2e2e2e" stroke="#2e2e2e" stroke-width="0.35" font-family="Liberation Sans, sans-serif">40</text>
<line x1="174" y1="198.7" x2="190.0" y2="198.7" stroke="#222" stroke-width="1.4"/>
<text transform="translate(167.8,193.5) scale(0.880,1)" text-anchor="end" font-size="21.3" fill="#2e2e2e" stroke="#2e2e2e" stroke-width="0.35" font-family="Liberation Sans, sans-serif">38</text>
<line x1="174" y1="347.7" x2="190.0" y2="347.7" stroke="#222" stroke-width="1.4"/>
<text transform="translate(167.8,342.5) scale(0.880,1)" text-anchor="end" font-size="21.3" fill="#2e2e2e" stroke="#2e2e2e" stroke-width="0.35" font-family="Liberation Sans, sans-serif">36</text>
<line x1="174" y1="496.8" x2="190.0" y2="496.8" stroke="#222" stroke-width="1.4"/>
<text transform="translate(167.8,491.6) scale(0.880,1)" text-anchor="end" font-size="21.3" fill="#2e2e2e" stroke="#2e2e2e" stroke-width="0.35" font-family="Liberation Sans, sans-serif">34</text>
<line x1="174" y1="645.8" x2="190.0" y2="645.8" stroke="#222" stroke-width="1.4"/>
<text transform="translate(167.8,640.6) scale(0.880,1)" text-anchor="end" font-size="21.3" fill="#2e2e2e" stroke="#2e2e2e" stroke-width="0.35" font-family="Liberation Sans, sans-serif">32</text>
<line x1="174" y1="794.8" x2="190.0" y2="794.8" stroke="#222" stroke-width="1.4"/>
<text transform="translate(167.8,789.6) scale(0.880,1)" text-anchor="end" font-size="21.3" fill="#2e2e2e" stroke="#2e2e2e" stroke-width="0.35" font-family="Liberation Sans, sans-serif">30</text>
<line x1="190.0" y1="794.8" x2="190.0" y2="813" stroke="#222" stroke-width="1.4"/>
<text transform="translate(190.0,838.6) scale(0.880,1)" text-anchor="middle" font-size="21.3" fill="#2e2e2e" stroke="#2e2e2e" stroke-width="0.35" font-family="Liberation Sans, sans-serif">5</text>
<line x1="328.0" y1="794.8" x2="328.0" y2="813" stroke="#222" stroke-width="1.4"/>
<text transform="translate(328.0,838.6) scale(0.880,1)" text-anchor="middle" font-size="21.3" fill="#2e2e2e" stroke="#2e2e2e" stroke-width="0.35" font-family="Liberation Sans, sans-serif">7</text>
<line x1="466.0" y1="794.8" x2="466.0" y2="813" stroke="#222" stroke-width="1.4"/>
<text transform="translate(466.0,838.6) scale(0.880,1)" text-anchor="middle" font-size="21.3" fill="#2e2e2e" stroke="#2e2e2e" stroke-width="0.35" font-family="Liberation Sans, sans-serif">9</text>
<line x1="604.0" y1="794.8" x2="604.0" y2="813" stroke="#222" stroke-width="1.4"/>
<text transform="translate(604.0,838.6) scale(0.820,1)" text-anchor="middle" font-size="21.3" fill="#2e2e2e" stroke="#2e2e2e" stroke-width="0.35" font-family="Liberation Sans, sans-serif">11</text>
<line x1="742.0" y1="794.8" x2="742.0" y2="813" stroke="#222" stroke-width="1.4"/>
<text transform="translate(742.0,838.6) scale(0.820,1)" text-anchor="middle" font-size="21.3" fill="#2e2e2e" stroke="#2e2e2e" stroke-width="0.35" font-family="Liberation Sans, sans-serif">13</text>
<line x1="880.0" y1="794.8" x2="880.0" y2="813" stroke="#222" stroke-width="1.4"/>
<text transform="translate(880.0,838.6) scale(0.820,1)" text-anchor="middle" font-size="21.3" fill="#2e2e2e" stroke="#2e2e2e" stroke-width="0.35" font-family="Liberation Sans, sans-serif">15</text>
<rect x="434.9" y="81.6" width="28.6" height="18.8" fill="#fff" stroke="#222" stroke-width="1.6"/>
<text transform="translate(449.3,95.4)" text-anchor="middle" font-size="12.3" fill="#2e2e2e" stroke="#2e2e2e" stroke-width="0.25" font-family="Liberation Sans, sans-serif">230</text>
<rect x="483.9" y="282.6" width="28.6" height="18.8" fill="#fff" stroke="#222" stroke-width="1.6"/>
<text transform="translate(498.3,296.4)" text-anchor="middle" font-size="12.3" fill="#2e2e2e" stroke="#2e2e2e" stroke-width="0.25" font-family="Liberation Sans, sans-serif">240</text>
<rect x="512.6" y="502.1" width="28.6" height="18.8" fill="#fff" stroke="#222" stroke-width="1.6"/>
<text transform="translate(527.0,515.9)" text-anchor="middle" font-size="12.3" fill="#2e2e2e" stroke="#2e2e2e" stroke-width="0.25" font-family="Liberation Sans, sans-serif">230</text>
<rect x="512.6" y="589.1" width="28.6" height="18.8" fill="#fff" stroke="#222" stroke-width="1.6"/>
<text transform="translate(527.0,602.9)" text-anchor="middle" font-size="12.3" fill="#2e2e2e" stroke="#2e2e2e" stroke-width="0.25" font-family="Liberation Sans, sans-serif">220</text>
<rect x="512.6" y="655.1" width="28.6" height="18.8" fill="#fff" stroke="#222" stroke-width="1.6"/>
<text transform="translate(527.0,668.9)" text-anchor="middle" font-size="12.3" fill="#2e2e2e" stroke="#2e2e2e" stroke-width="0.25" font-family="Liberation Sans, sans-serif">210</text>
<rect x="512.6" y="712.1" width="28.6" height="18.8" fill="#fff" stroke="#222" stroke-width="1.6"/>
<text transform="translate(527.0,725.9)" text-anchor="middle" font-size="12.3" fill="#2e2e2e" stroke="#2e2e2e" stroke-width="0.25" font-family="Liberation Sans, sans-serif">200</text>
<rect x="417.6" y="753.6" width="28.6" height="18.8" fill="#fff" stroke="#222" stroke-width="1.6"/>
<text transform="translate(432.0,767.4)" text-anchor="middle" font-size="12.3" fill="#2e2e2e" stroke="#2e2e2e" stroke-width="0.25" font-family="Liberation Sans, sans-serif">190</text>
<ellipse cx="190.0" cy="49.0" rx="6.2" ry="6.2" fill="#cc0000" stroke="#2a0000" stroke-width="1.6"/>
<ellipse cx="880.0" cy="49.0" rx="6.2" ry="6.2" fill="#cc0000" stroke="#2a0000" stroke-width="1.6"/>
<ellipse cx="190.0" cy="794.5" rx="6.2" ry="6.2" fill="#cc0000" stroke="#2a0000" stroke-width="1.6"/>
<ellipse cx="880.0" cy="794.5" rx="6.2" ry="6.2" fill="#cc0000" stroke="#2a0000" stroke-width="1.6"/>
<ellipse cx="535.5" cy="422.1" rx="6.2" ry="6.2" fill="#cc0000" stroke="#2a0000" stroke-width="1.6"/>
<text transform="translate(518.2,426.3) scale(0.800,1)" text-anchor="middle" font-size="13" fill="#3a2a10" stroke="#3a2a10" stroke-width="0.30" font-family="Liberation Sans, sans-serif">3</text>
<text transform="translate(535.0,35.6) scale(0.885,1)" text-anchor="middle" font-size="32.5" fill="#2e2e2e" stroke="#2e2e2e" stroke-width="0.35" font-family="Liberation Sans, sans-serif">NOx (ppm)</text>
<text transform="translate(534.3,896.2) scale(0.878,1)" text-anchor="middle" font-size="25.5" fill="#2e2e2e" stroke="#2e2e2e" stroke-width="0.35" font-family="Liberation Sans, sans-serif">A: Fuel Blend (%)</text>
<text transform="translate(85.8,419.0) rotate(-90) scale(0.955,1)" text-anchor="middle" font-size="25.8" fill="#2e2e2e" stroke="#2e2e2e" stroke-width="0.35" font-family="Liberation Sans, sans-serif">B: Injection Pressure (MPa)</text>
<text transform="translate(17.6,48.3) scale(1.060,1)" text-anchor="start" font-size="39.5" fill="#000" font-weight="bold" font-family="Liberation Serif, serif">(a)</text>
<text transform="translate(1011.5,48.3) scale(1.050,1)" text-anchor="start" font-size="39.5" fill="#000" font-weight="bold" font-family="Liberation Serif, serif">(b)</text>
<line x1="1150.7" y1="114.1" x2="1535.4" y2="16.0" stroke="#1a1a1a" stroke-width="2.1"/>
<line x1="1535.4" y1="16.0" x2="1919.3" y2="113.8" stroke="#1a1a1a" stroke-width="2.1"/>
<line x1="1153.7" y1="185.2" x2="1535.4" y2="79.9" stroke="#1a1a1a" stroke-width="1.9"/>
<line x1="1535.4" y1="79.9" x2="1916.2" y2="184.9" stroke="#1a1a1a" stroke-width="1.9"/>
<line x1="1156.7" y1="256.3" x2="1535.4" y2="143.8" stroke="#1a1a1a" stroke-width="1.9"/>
<line x1="1535.4" y1="143.8" x2="1913.1" y2="255.9" stroke="#1a1a1a" stroke-width="1.9"/>
<line x1="1159.7" y1="327.4" x2="1535.4" y2="207.8" stroke="#1a1a1a" stroke-width="1.9"/>
<line x1="1535.4" y1="207.8" x2="1910.0" y2="327.0" stroke="#1a1a1a" stroke-width="1.9"/>
<line x1="1162.6" y1="398.6" x2="1535.4" y2="271.7" stroke="#1a1a1a" stroke-width="1.9"/>
<line x1="1535.4" y1="271.7" x2="1906.9" y2="398.1" stroke="#1a1a1a" stroke-width="1.9"/>
<line x1="1165.6" y1="469.7" x2="1535.4" y2="335.6" stroke="#1a1a1a" stroke-width="1.9"/>
<line x1="1535.4" y1="335.6" x2="1903.8" y2="469.1" stroke="#1a1a1a" stroke-width="1.9"/>
<line x1="1168.6" y1="540.8" x2="1535.4" y2="399.5" stroke="#1a1a1a" stroke-width="1.9"/>
<line x1="1535.4" y1="399.5" x2="1900.7" y2="540.2" stroke="#1a1a1a" stroke-width="1.9"/>
<line x1="1227.6" y1="94.5" x2="1242.0" y2="512.5" stroke="#1a1a1a" stroke-width="1.9"/>
<line x1="1612.2" y1="35.6" x2="1608.5" y2="427.6" stroke="#1a1a1a" stroke-width="1.9"/>
<line x1="1304.6" y1="74.9" x2="1315.3" y2="484.3" stroke="#1a1a1a" stroke-width="1.9"/>
<line x1="1689.0" y1="55.1" x2="1681.5" y2="455.8" stroke="#1a1a1a" stroke-width="1.9"/>
<line x1="1381.5" y1="55.2" x2="1388.7" y2="456.0" stroke="#1a1a1a" stroke-width="1.9"/>
<line x1="1765.7" y1="74.7" x2="1754.6" y2="483.9" stroke="#1a1a1a" stroke-width="1.9"/>
<line x1="1458.5" y1="35.6" x2="1462.0" y2="427.8" stroke="#1a1a1a" stroke-width="1.9"/>
<line x1="1842.5" y1="94.2" x2="1827.6" y2="512.1" stroke="#1a1a1a" stroke-width="1.9"/>
<line x1="1150.7" y1="114.1" x2="1174.5" y2="673.8" stroke="#1a1a1a" stroke-width="1.9"/>
<line x1="1535.4" y1="16.0" x2="1535.4" y2="521.3" stroke="#1a1a1a" stroke-width="1.9"/>
<line x1="1919.3" y1="113.8" x2="1894.8" y2="673.8" stroke="#1a1a1a" stroke-width="1.9"/>
<circle cx="1150.7" cy="114.1" r="3.6" fill="#000"/>
<circle cx="1153.7" cy="185.2" r="3.6" fill="#000"/>
<circle cx="1156.7" cy="256.3" r="3.6" fill="#000"/>
<circle cx="1159.7" cy="327.4" r="3.6" fill="#000"/>
<circle cx="1162.6" cy="398.6" r="3.6" fill="#000"/>
<circle cx="1165.6" cy="469.7" r="3.6" fill="#000"/>
<circle cx="1168.6" cy="540.8" r="3.6" fill="#000"/>
<text transform="translate(1137.6,106.8) rotate(2.5) scale(0.895,1)" text-anchor="end" font-size="24.6" fill="#2e2e2e" stroke="#2e2e2e" stroke-width="0.35" font-family="Liberation Sans, sans-serif">300</text>
<text transform="translate(1140.8,178.3) rotate(2.5) scale(0.895,1)" text-anchor="end" font-size="24.6" fill="#2e2e2e" stroke="#2e2e2e" stroke-width="0.35" font-family="Liberation Sans, sans-serif">250</text>
<text transform="translate(1143.6,248.0) rotate(2.5) scale(0.895,1)" text-anchor="end" font-size="24.6" fill="#2e2e2e" stroke="#2e2e2e" stroke-width="0.35" font-family="Liberation Sans, sans-serif">200</text>
<text transform="translate(1147.0,319.9) rotate(2.5) scale(0.895,1)" text-anchor="end" font-size="24.6" fill="#2e2e2e" stroke="#2e2e2e" stroke-width="0.35" font-family="Liberation Sans, sans-serif">150</text>
<text transform="translate(1150.4,390.7) rotate(2.5) scale(0.895,1)" text-anchor="end" font-size="24.6" fill="#2e2e2e" stroke="#2e2e2e" stroke-width="0.35" font-family="Liberation Sans, sans-serif">100</text>
<text transform="translate(1153.5,462.1) rotate(2.5) scale(0.895,1)" text-anchor="end" font-size="24.6" fill="#2e2e2e" stroke="#2e2e2e" stroke-width="0.35" font-family="Liberation Sans, sans-serif">50</text>
<text transform="translate(1156.1,533.6) rotate(2.5) scale(0.895,1)" text-anchor="end" font-size="24.6" fill="#2e2e2e" stroke="#2e2e2e" stroke-width="0.35" font-family="Liberation Sans, sans-serif">0</text>
<text transform="translate(1038.3,402.5) rotate(-90) scale(1.160,1)" text-anchor="middle" font-size="22" fill="#2e2e2e" stroke="#2e2e2e" stroke-width="0.35" font-family="Liberation Sans, sans-serif">NOx (ppm)</text>
<polygon points="1174.5,673.8 1535.4,521.3 1894.8,673.8 1535.4,869.0" fill="#606060" stroke="#000" stroke-width="2.3" stroke-linejoin="round"/>
<g clip-path="url(#fc)" fill="none" stroke-width="3.4">
<polyline points="1505.7,852.5 1510.2,850.6 1514.7,848.6 1519.1,846.7 1521.3,845.7 1525.8,843.7 1530.2,841.8 1534.6,839.9 1539.0,837.9 1543.4,836.0 1545.6,835.0 1550.0,833.1 1554.3,831.2 1558.7,829.3 1563.0,827.4 1566.7,825.8 1569.5,824.5 1573.8,822.6 1578.1,820.7 1582.4,818.9 1586.7,817.0 1589.8,815.6 1593.1,814.1 1597.3,812.3 1601.6,810.4 1605.8,808.5 1610.0,806.7 1612.8,805.5 1616.3,803.9 1620.5,802.0 1624.7,800.2 1628.9,798.3 1633.0,796.5 1635.7,795.3 1639.2,793.8 1643.4,791.9 1647.5,790.1 1651.6,788.3 1655.7,786.5 1658.6,785.2 1661.8,783.7 1665.9,781.9 1669.9,780.1 1674.0,778.3 1678.0,776.5 1681.3,775.1 1684.1,773.9 1688.1,772.1 1692.1,770.3 1696.1,768.5 1700.1,766.7 1704.1,765.0 1706.0,764.1 1710.0,762.3 1714.0,760.6 1717.9,758.8 1721.8,757.0 1725.7,755.3 1727.7,754.4 1731.6,752.7 1735.5,750.9 1739.4,749.2 1743.3,747.5 1747.1,745.7 1749.3,744.8 1752.9,743.2 1756.7,741.4 1760.6,739.7 1764.4,738.0 1768.2,736.3 1771.8,734.7 1773.9,733.7 1777.7,732.0 1781.5,730.3 1785.3,728.7 1789.0,727.0 1792.8,725.3 1794.6,724.4 1798.4,722.8 1802.1,721.1 1805.8,719.4 1809.5,717.7 1813.2,716.1 1816.5,714.6 1818.8,713.6 1822.5,711.9 1826.1,710.3 1829.8,708.6 1833.4,707.0 1837.1,705.3 1838.7,704.6" stroke="#cbff00"/>
<polyline points="1472.5,834.6 1477.0,832.7 1479.9,831.5 1483.8,829.9 1488.3,828.0 1492.8,826.1 1497.3,824.3 1500.1,823.1 1504.0,821.5 1508.4,819.6 1512.8,817.8 1517.3,815.9 1520.2,814.7 1523.9,813.2 1528.3,811.3 1532.7,809.5 1537.0,807.7 1540.4,806.2 1543.6,804.9 1547.9,803.1 1552.3,801.3 1556.6,799.5 1560.6,797.8 1563.0,796.8 1567.3,794.9 1571.6,793.1 1575.9,791.3 1580.1,789.6 1582.3,788.7 1586.5,786.9 1590.7,785.1 1595.0,783.3 1599.2,781.5 1601.3,780.6 1605.5,778.9 1609.7,777.1 1613.8,775.3 1618.0,773.6 1621.1,772.3 1624.2,771.0 1628.3,769.2 1632.5,767.5 1636.6,765.7 1640.7,764.0 1642.7,763.1 1646.8,761.4 1650.9,759.6 1655.0,757.9 1659.0,756.2 1661.4,755.2 1665.1,753.6 1669.1,751.9 1673.1,750.2 1677.1,748.5 1681.1,746.8 1683.1,745.9 1687.1,744.2 1691.1,742.5 1695.1,740.8 1699.0,739.1 1701.7,738.0 1704.9,736.6 1708.9,734.9 1712.8,733.2 1716.7,731.6 1720.6,729.9 1722.5,729.1 1726.4,727.4 1730.3,725.7 1734.2,724.1 1738.0,722.4 1741.9,720.8 1743.8,719.9 1747.6,718.3 1751.4,716.6 1755.3,715.0 1759.1,713.4 1761.9,712.1 1764.7,710.9 1768.5,709.3 1772.3,707.7 1776.1,706.0 1779.8,704.4 1781.9,703.5 1785.4,702.0 1789.2,700.4 1792.9,698.8 1796.6,697.2 1800.3,695.6 1802.1,694.8 1805.8,693.2 1809.5,691.6 1813.2,690.0 1816.8,688.4 1820.5,686.8 1822.3,686.0 1825.9,684.5 1829.6,682.9 1833.2,681.3 1836.8,679.7 1840.4,678.2 1842.2,677.4 1845.8,675.8 1849.4,674.3 1853.0,672.7 1856.5,671.2 1860.1,669.6 1861.9,668.8 1865.4,667.3 1868.9,665.8 1872.5,664.2 1872.5,664.2" stroke="#f5ff00"/>
<polyline points="1433.5,813.5 1438.1,811.7 1441.6,810.4 1445.1,809.1 1449.6,807.3 1454.2,805.5 1458.1,804.0 1461.1,802.9 1465.6,801.1 1470.2,799.4 1474.7,797.6 1476.9,796.8 1481.4,795.0 1485.9,793.3 1490.4,791.5 1492.7,790.7 1497.1,788.9 1501.6,787.2 1506.0,785.5 1508.2,784.6 1512.6,782.9 1517.1,781.2 1521.5,779.4 1524.9,778.1 1528.0,776.9 1532.4,775.2 1536.7,773.4 1541.1,771.7 1543.3,770.9 1547.6,769.2 1551.9,767.5 1556.2,765.8 1558.7,764.8 1562.6,763.3 1566.9,761.6 1571.2,759.9 1575.4,758.2 1577.6,757.4 1581.8,755.7 1586.0,754.0 1590.2,752.3 1592.7,751.3 1596.5,749.8 1600.7,748.2 1604.9,746.5 1609.1,744.8 1611.1,744.0 1615.3,742.4 1619.4,740.7 1623.6,739.1 1626.9,737.7 1629.7,736.6 1633.8,735.0 1637.9,733.3 1642.0,731.7 1644.1,730.9 1648.1,729.2 1652.1,727.6 1656.2,726.0 1660.2,724.4 1662.2,723.6 1666.2,721.9 1670.3,720.3 1674.2,718.7 1678.2,717.1 1680.2,716.3 1684.2,714.7 1688.2,713.1 1692.1,711.5 1695.8,710.0 1698.0,709.1 1701.9,707.5 1705.9,705.9 1709.8,704.3 1713.1,703.0 1715.6,702.0 1719.5,700.4 1723.3,698.8 1727.2,697.3 1730.4,696.0 1733.0,694.9 1736.8,693.3 1740.6,691.8 1744.5,690.2 1747.7,688.9 1750.2,687.9 1754.0,686.3 1757.8,684.8 1761.5,683.2 1765.1,681.8 1767.2,680.9 1770.9,679.4 1774.7,677.8 1778.4,676.3 1782.1,674.8 1784.0,674.0 1787.7,672.5 1791.4,671.0 1795.1,669.4 1798.8,667.9 1800.6,667.2 1804.3,665.7 1807.9,664.1 1811.6,662.6 1815.2,661.1 1817.4,660.3 1820.7,658.9 1824.3,657.4 1827.9,655.9 1831.5,654.4 1834.8,653.0 1836.9,652.2 1840.5,650.7 1840.5,650.7" stroke="#ffde00"/>
<polyline points="1382.5,785.9 1387.4,784.3 1390.3,783.4 1394.6,782.0 1399.4,780.4 1402.0,779.6 1406.6,778.1 1411.4,776.5 1413.8,775.7 1418.6,774.1 1423.3,772.6 1425.7,771.8 1430.4,770.2 1435.1,768.6 1437.7,767.8 1442.1,766.3 1446.8,764.7 1449.8,763.7 1453.7,762.4 1458.4,760.8 1462.1,759.5 1465.3,758.5 1469.9,756.9 1474.5,755.3 1476.7,754.5 1481.3,753.0 1485.8,751.4 1488.1,750.6 1492.6,749.1 1497.1,747.5 1499.7,746.6 1503.9,745.2 1508.3,743.6 1512.5,742.2 1515.0,741.3 1519.5,739.8 1523.9,738.2 1526.1,737.4 1530.5,735.9 1534.9,734.3 1538.3,733.2 1541.5,732.0 1545.8,730.5 1550.2,728.9 1552.4,728.2 1556.7,726.6 1561.0,725.1 1564.5,723.8 1567.5,722.8 1571.8,721.3 1576.0,719.7 1578.2,719.0 1582.4,717.4 1586.7,715.9 1590.9,714.4 1593.0,713.6 1597.2,712.1 1601.4,710.6 1604.7,709.4 1607.7,708.3 1611.9,706.8 1616.1,705.3 1618.3,704.5 1622.3,703.0 1626.4,701.5 1630.6,700.0 1632.6,699.2 1636.7,697.7 1640.8,696.2 1644.9,694.7 1646.9,694.0 1651.0,692.5 1655.1,691.0 1659.1,689.5 1661.1,688.7 1665.2,687.2 1669.2,685.8 1673.2,684.3 1675.2,683.5 1679.2,682.0 1683.2,680.6 1687.1,679.1 1689.1,678.3 1693.1,676.9 1697.0,675.4 1700.9,673.9 1702.9,673.2 1706.8,671.7 1710.7,670.2 1714.6,668.8 1716.6,668.0 1720.5,666.6 1724.3,665.1 1728.2,663.7 1730.1,662.9 1734.0,661.5 1737.8,660.0 1741.6,658.6 1744.2,657.6 1747.3,656.4 1751.1,655.0 1754.9,653.5 1758.5,652.1 1760.6,651.4 1764.4,649.9 1768.1,648.5 1771.9,647.1 1773.8,646.3 1777.5,644.9 1781.2,643.5 1784.9,642.1 1787.5,641.1 1790.5,639.9 1794.2,638.5 1797.8,637.1 1801.5,635.7 1803.4,635.0 1803.4,635.0" stroke="#ffb300"/>
<polyline points="1318.6,613.3 1316.8,614.3 1313.6,616.2 1310.4,618.0 1308.8,618.9 1305.7,620.8 1302.5,622.6 1299.7,624.2 1297.7,625.4 1294.5,627.3 1291.2,629.2 1289.6,630.1 1286.4,632.0 1283.2,633.9 1281.2,635.0 1278.3,636.8 1275.1,638.7 1272.2,640.4 1270.2,641.6 1267.0,643.5 1263.7,645.4 1262.1,646.4 1258.8,648.3 1255.5,650.3 1253.9,651.3 1250.6,653.3 1247.3,655.2 1245.7,656.2 1242.4,658.2 1239.1,660.2 1237.1,661.4 1234.1,663.2 1230.8,665.2 1228.6,666.6 1225.8,668.3 1222.5,670.3 1220.3,671.7 1217.5,673.4 1214.2,675.4 1212.1,676.7 1209.2,678.5 1205.8,680.6 1204.0,681.8 1200.8,683.8 1197.4,685.9 1197.4,685.9" stroke="#ffb300"/>
<polyline points="1546.7,526.3 1545.4,527.1 1542.7,528.7 1540.1,530.3 1538.8,531.1 1536.1,532.8 1533.5,534.4 1532.1,535.3 1529.5,536.9 1526.8,538.5 1525.0,539.7 1522.9,541.0 1520.2,542.7 1518.0,544.1 1516.2,545.2 1513.5,546.9 1511.1,548.4 1509.5,549.4 1506.9,551.2 1504.4,552.7 1502.8,553.7 1500.2,555.4 1497.7,557.0 1496.2,558.0 1493.5,559.8 1491.2,561.2 1489.4,562.4 1486.8,564.1 1484.8,565.4 1482.7,566.8 1480.0,568.6 1478.5,569.6 1476.0,571.2 1473.3,573.0 1472.0,573.9 1469.3,575.8 1466.6,577.6 1465.2,578.5 1462.6,580.3 1460.5,581.7 1458.5,583.1 1455.8,584.9 1454.5,585.8 1451.8,587.7 1449.1,589.6 1447.8,590.5 1445.1,592.4 1443.6,593.4 1441.1,595.2 1438.4,597.2 1437.0,598.1 1434.3,600.0 1433.0,601.0 1430.3,602.9 1428.0,604.7 1426.3,605.9 1423.7,607.9 1422.3,608.8 1419.7,610.8 1418.3,611.9 1415.7,613.8 1413.6,615.4 1411.8,616.9 1409.1,618.9 1407.8,619.9 1405.2,622.0 1403.9,623.0 1401.3,625.1 1400.0,626.2 1397.4,628.3 1396.1,629.3 1393.5,631.4 1392.3,632.5 1389.7,634.7 1388.4,635.8 1385.9,637.9 1384.7,639.0 1382.2,641.3 1380.9,642.4 1378.5,644.6 1377.2,645.8 1375.2,647.7 1373.6,649.2 1372.2,650.6 1370.1,652.7 1368.9,653.9 1366.7,656.2 1365.5,657.5 1364.1,658.9 1362.1,661.1 1361.0,662.4 1359.6,664.1 1357.9,666.2 1356.9,667.4 1355.6,669.0 1353.9,671.4 1353.0,672.7 1352.1,674.1 1351.0,675.9 1349.8,678.1 1348.9,679.8 1348.2,681.3 1347.6,682.9 1347.1,684.4 1346.6,686.0 1346.3,687.8 1346.1,689.5 1346.1,691.4 1346.3,693.4 1347.0,695.6 1347.7,697.0 1348.5,698.3 1350.7,700.7 1353.6,702.7 1357.3,704.4 1361.6,705.8 1364.5,706.5 1369.3,707.3 1372.3,707.7 1375.4,707.9 1378.7,708.1 1382.6,708.2 1386.3,708.2 1389.9,708.2 1393.5,708.1 1397.7,707.8 1402.0,707.6 1406.4,707.2 1409.5,706.9 1412.5,706.6 1415.9,706.2 1420.9,705.6 1424.4,705.1 1427.3,704.7 1431.4,704.1 1435.8,703.4 1438.6,703.0 1442.6,702.3 1446.8,701.6 1449.5,701.1 1454.4,700.2 1457.5,699.6 1460.5,699.1 1465.4,698.1 1468.0,697.6 1473.2,696.5 1475.7,696.0 1479.9,695.1 1483.4,694.3 1486.7,693.6 1490.9,692.7 1493.6,692.1 1498.4,691.0 1500.8,690.4 1505.7,689.2 1508.2,688.7 1513.0,687.5 1515.4,686.9 1520.2,685.7 1522.9,685.0 1527.4,683.9 1530.6,683.1 1534.5,682.1 1538.5,681.1 1541.5,680.3 1546.2,679.1 1548.5,678.5 1553.1,677.2 1555.4,676.6 1560.0,675.4 1562.9,674.6 1566.8,673.5 1571.3,672.3 1573.6,671.6 1578.1,670.4 1580.4,669.7 1584.8,668.5 1588.5,667.4 1591.5,666.6 1595.9,665.3 1598.1,664.7 1602.5,663.4 1606.3,662.3 1609.1,661.5 1613.4,660.2 1615.6,659.6 1619.9,658.3 1624.2,657.0 1626.4,656.4 1630.7,655.1 1634.0,654.1 1637.1,653.2 1641.3,651.9 1643.5,651.2 1647.6,649.9 1651.8,648.6 1653.9,648.0 1658.1,646.7 1662.3,645.4 1664.3,644.8 1668.5,643.5 1672.6,642.2 1674.7,641.5 1678.8,640.2 1682.8,639.0 1684.9,638.3 1689.0,637.0 1692.9,635.8 1695.1,635.1 1699.1,633.8 1703.1,632.5 1705.1,631.8 1709.1,630.5 1713.1,629.2 1715.1,628.6 1719.1,627.3 1723.1,626.0 1725.0,625.3 1729.0,624.0 1732.9,622.7 1734.9,622.1 1738.8,620.8 1742.7,619.5 1745.1,618.7 1748.5,617.6 1752.4,616.3 1755.9,615.1 1756.2,615.0" stroke="#ff8700"/>
</g>
<line x1="1174.5" y1="673.8" x2="1535.4" y2="869.0" stroke="#000" stroke-width="2.5"/>
<line x1="1535.4" y1="869.0" x2="1894.8" y2="673.8" stroke="#000" stroke-width="2.5"/>
<circle cx="1174.5" cy="673.8" r="3.6" fill="#000"/>
<circle cx="1535.4" cy="869.0" r="3.6" fill="#000"/>
<circle cx="1246.7" cy="712.8" r="3.6" fill="#000"/>
<circle cx="1607.3" cy="830.0" r="3.6" fill="#000"/>
<circle cx="1318.9" cy="751.9" r="3.6" fill="#000"/>
<circle cx="1679.2" cy="790.9" r="3.6" fill="#000"/>
<circle cx="1391.0" cy="790.9" r="3.6" fill="#000"/>
<circle cx="1751.0" cy="751.9" r="3.6" fill="#000"/>
<circle cx="1463.2" cy="830.0" r="3.6" fill="#000"/>
<circle cx="1822.9" cy="712.8" r="3.6" fill="#000"/>
<circle cx="1535.4" cy="869.0" r="3.6" fill="#000"/>
<circle cx="1894.8" cy="673.8" r="3.6" fill="#000"/>
<text transform="translate(1150.8,697.7) scale(0.860,1)" text-anchor="middle" font-size="26" fill="#2e2e2e" stroke="#2e2e2e" stroke-width="0.35" font-family="Liberation Sans, sans-serif">40</text>
<text transform="translate(1222.6,737.8) scale(0.860,1)" text-anchor="middle" font-size="26" fill="#2e2e2e" stroke="#2e2e2e" stroke-width="0.35" font-family="Liberation Sans, sans-serif">38</text>
<text transform="translate(1295.7,776.6) scale(0.860,1)" text-anchor="middle" font-size="26" fill="#2e2e2e" stroke="#2e2e2e" stroke-width="0.35" font-family="Liberation Sans, sans-serif">36</text>
<text transform="translate(1366.7,817.1) scale(0.860,1)" text-anchor="middle" font-size="26" fill="#2e2e2e" stroke="#2e2e2e" stroke-width="0.35" font-family="Liberation Sans, sans-serif">34</text>
<text transform="translate(1439.5,855.1) scale(0.860,1)" text-anchor="middle" font-size="26" fill="#2e2e2e" stroke="#2e2e2e" stroke-width="0.35" font-family="Liberation Sans, sans-serif">32</text>
<text transform="translate(1512.2,893.4) scale(0.860,1)" text-anchor="middle" font-size="26" fill="#2e2e2e" stroke="#2e2e2e" stroke-width="0.35" font-family="Liberation Sans, sans-serif">30</text>
<text transform="translate(1554.3,893.4) scale(0.860,1)" text-anchor="middle" font-size="26" fill="#2e2e2e" stroke="#2e2e2e" stroke-width="0.35" font-family="Liberation Sans, sans-serif">5</text>
<text transform="translate(1625.8,855.1) scale(0.860,1)" text-anchor="middle" font-size="26" fill="#2e2e2e" stroke="#2e2e2e" stroke-width="0.35" font-family="Liberation Sans, sans-serif">7</text>
<text transform="translate(1698.4,817.1) scale(0.860,1)" text-anchor="middle" font-size="26" fill="#2e2e2e" stroke="#2e2e2e" stroke-width="0.35" font-family="Liberation Sans, sans-serif">9</text>
<text transform="translate(1774.3,776.6) scale(0.750,1)" text-anchor="middle" font-size="26" fill="#2e2e2e" stroke="#2e2e2e" stroke-width="0.35" font-family="Liberation Sans, sans-serif">11</text>
<text transform="translate(1847.8,737.8) scale(0.750,1)" text-anchor="middle" font-size="26" fill="#2e2e2e" stroke="#2e2e2e" stroke-width="0.35" font-family="Liberation Sans, sans-serif">13</text>
<text transform="translate(1919.8,697.7) scale(0.750,1)" text-anchor="middle" font-size="26" fill="#2e2e2e" stroke="#2e2e2e" stroke-width="0.35" font-family="Liberation Sans, sans-serif">15</text>
<text transform="translate(1215.5,851.4) scale(0.886,1)" text-anchor="middle" font-size="24.5" fill="#2e2e2e" stroke="#2e2e2e" stroke-width="0.35" font-family="Liberation Sans, sans-serif">B: Injection Pressure (MPa)</text>
<text transform="translate(1855.5,851.4) scale(0.884,1)" text-anchor="middle" font-size="24.5" fill="#2e2e2e" stroke="#2e2e2e" stroke-width="0.35" font-family="Liberation Sans, sans-serif">A: Fuel Blend (%)</text>
<line x1="1535.4" y1="439.6" x2="1535.4" y2="464.0" stroke="#111" stroke-width="2.4"/>
<ellipse cx="1535.4" cy="464.5" rx="8.2" ry="9.3" fill="#ffc4c4" stroke="#3c3030" stroke-width="1.7"/>
<line x1="1912.4" y1="271.1" x2="1911.0" y2="289.0" stroke="#111" stroke-width="2.4"/>
<ellipse cx="1911.0" cy="289.5" rx="8.2" ry="9.3" fill="#ffc4c4" stroke="#3c3030" stroke-width="1.7"/>
<ellipse cx="1535.2" cy="107.0" rx="8.2" ry="9.3" fill="#ffc4c4" stroke="#3c3030" stroke-width="1.7"/>
<g stroke="#1c1408" stroke-width="1.6" stroke-linejoin="round">
<polygon points="1535.4,111.0 1552.3,105.3 1535.4,105.6 1518.5,111.3" fill="#ff9726"/>
<polygon points="1518.3,116.8 1535.4,111.0 1518.5,111.3 1501.4,117.0" fill="#ff9a26"/>
<polygon points="1552.5,111.6 1569.5,105.8 1552.3,105.3 1535.4,111.0" fill="#ff8b26"/>
<polygon points="1501.0,122.6 1518.3,116.8 1501.4,117.0 1484.1,122.8" fill="#ff9c26"/>
<polygon points="1535.4,117.4 1552.5,111.6 1535.4,111.0 1518.3,116.8" fill="#ff8d26"/>
<polygon points="1569.9,113.0 1586.8,107.2 1569.5,105.8 1552.5,111.6" fill="#ff8126"/>
<polygon points="1483.5,128.5 1501.0,122.6 1484.1,122.8 1466.6,128.7" fill="#ff9e26"/>
<polygon points="1518.1,123.2 1535.4,117.4 1518.3,116.8 1501.0,122.6" fill="#ff9026"/>
<polygon points="1552.7,118.8 1569.9,113.0 1552.5,111.6 1535.4,117.4" fill="#ff8326"/>
<polygon points="1587.4,115.2 1604.4,109.4 1586.8,107.2 1569.9,113.0" fill="#ff7926"/>
<polygon points="1465.7,134.5 1483.5,128.5 1466.6,128.7 1448.9,134.6" fill="#ffa126"/>
<polygon points="1500.6,129.2 1518.1,123.2 1501.0,122.6 1483.5,128.5" fill="#ff9226"/>
<polygon points="1535.4,124.7 1552.7,118.8 1535.4,117.4 1518.1,123.2" fill="#ff8526"/>
<polygon points="1570.3,121.1 1587.4,115.2 1569.9,113.0 1552.7,118.8" fill="#ff7b26"/>
<polygon points="1605.2,118.3 1622.1,112.4 1604.4,109.4 1587.4,115.2" fill="#ff7326"/>
<polygon points="1447.8,140.5 1465.7,134.5 1448.9,134.6 1431.0,140.6" fill="#ffa326"/>
<polygon points="1482.8,135.2 1500.6,129.2 1483.5,128.5 1465.7,134.5" fill="#ff9426"/>
<polygon points="1517.9,130.7 1535.4,124.7 1518.1,123.2 1500.6,129.2" fill="#ff8826"/>
<polygon points="1552.9,127.1 1570.3,121.1 1552.7,118.8 1535.4,124.7" fill="#ff7d26"/>
<polygon points="1588.0,124.3 1605.2,118.3 1587.4,115.2 1570.3,121.1" fill="#ff7526"/>
<polygon points="1623.1,122.3 1640.1,116.4 1622.1,112.4 1605.2,118.3" fill="#ff6f26"/>
<polygon points="1429.7,146.7 1447.8,140.5 1431.0,140.6 1412.9,146.7" fill="#ffa526"/>
<polygon points="1464.9,141.3 1482.8,135.2 1465.7,134.5 1447.8,140.5" fill="#ff9726"/>
<polygon points="1500.1,136.8 1517.9,130.7 1500.6,129.2 1482.8,135.2" fill="#ff8a26"/>
<polygon points="1535.4,133.1 1552.9,127.1 1535.4,124.7 1517.9,130.7" fill="#ff8026"/>
<polygon points="1570.7,130.3 1588.0,124.3 1570.3,121.1 1552.9,127.1" fill="#ff7826"/>
<polygon points="1606.0,128.3 1623.1,122.3 1605.2,118.3 1588.0,124.3" fill="#ff7226"/>
<polygon points="1641.3,127.2 1658.3,121.2 1640.1,116.4 1623.1,122.3" fill="#ff6e26"/>
<polygon points="1411.4,152.9 1429.7,146.7 1412.9,146.7 1394.6,152.8" fill="#ffa826"/>
<polygon points="1446.7,147.5 1464.9,141.3 1447.8,140.5 1429.7,146.7" fill="#ff9926"/>
<polygon points="1482.2,142.9 1500.1,136.8 1482.8,135.2 1464.9,141.3" fill="#ff8c26"/>
<polygon points="1517.7,139.2 1535.4,133.1 1517.9,130.7 1500.1,136.8" fill="#ff8226"/>
<polygon points="1553.2,136.4 1570.7,130.3 1552.9,127.1 1535.4,133.1" fill="#ff7a26"/>
<polygon points="1588.7,134.4 1606.0,128.3 1588.0,124.3 1570.7,130.3" fill="#ff7426"/>
<polygon points="1624.2,133.3 1641.3,127.2 1623.1,122.3 1606.0,128.3" fill="#ff7026"/>
<polygon points="1659.7,133.0 1676.6,126.9 1658.3,121.2 1641.3,127.2" fill="#ff6e26"/>
<polygon points="1392.8,159.1 1411.4,152.9 1394.6,152.8 1376.0,159.1" fill="#ffaa26"/>
<polygon points="1428.4,153.7 1446.7,147.5 1429.7,146.7 1411.4,152.9" fill="#ff9b26"/>
<polygon points="1464.0,149.1 1482.2,142.9 1464.9,141.3 1446.7,147.5" fill="#ff8f26"/>
<polygon points="1499.7,145.4 1517.7,139.2 1500.1,136.8 1482.2,142.9" fill="#ff8426"/>
<polygon points="1535.4,142.6 1553.2,136.4 1535.4,133.1 1517.7,139.2" fill="#ff7c26"/>
<polygon points="1571.1,140.6 1588.7,134.4 1570.7,130.3 1553.2,136.4" fill="#ff7626"/>
<polygon points="1606.9,139.4 1624.2,133.3 1606.0,128.3 1588.7,134.4" fill="#ff7226"/>
<polygon points="1678.3,139.7 1695.2,133.6 1676.6,126.9 1659.7,133.0" fill="#ff7126"/>
<polygon points="1642.6,139.1 1659.7,133.0 1641.3,127.2 1624.2,133.3" fill="#ff7026"/>
<polygon points="1374.0,165.5 1392.8,159.1 1376.0,159.1 1357.3,165.4" fill="#ffac26"/>
<polygon points="1409.8,160.0 1428.4,153.7 1411.4,152.9 1392.8,159.1" fill="#ff9e26"/>
<polygon points="1445.6,155.4 1464.0,149.1 1446.7,147.5 1428.4,153.7" fill="#ff9126"/>
<polygon points="1481.5,151.7 1499.7,145.4 1482.2,142.9 1464.0,149.1" fill="#ff8726"/>
<polygon points="1517.4,148.8 1535.4,142.6 1517.7,139.2 1499.7,145.4" fill="#ff7f26"/>
<polygon points="1553.4,146.8 1571.1,140.6 1553.2,136.4 1535.4,142.6" fill="#ff7926"/>
<polygon points="1697.1,147.4 1714.0,141.1 1695.2,133.6 1678.3,139.7" fill="#ff7626"/>
<polygon points="1589.3,145.7 1606.9,139.4 1588.7,134.4 1571.1,140.6" fill="#ff7526"/>
<polygon points="1661.2,145.9 1678.3,139.7 1659.7,133.0 1642.6,139.1" fill="#ff7326"/>
<polygon points="1625.3,145.4 1642.6,139.1 1624.2,133.3 1606.9,139.4" fill="#ff7326"/>
<polygon points="1355.0,171.9 1374.0,165.5 1357.3,165.4 1338.3,171.8" fill="#ffaf26"/>
<polygon points="1391.0,166.4 1409.8,160.0 1392.8,159.1 1374.0,165.5" fill="#ffa026"/>
<polygon points="1427.0,161.8 1445.6,155.4 1428.4,153.7 1409.8,160.0" fill="#ff9426"/>
<polygon points="1463.1,158.0 1481.5,151.7 1464.0,149.1 1445.6,155.4" fill="#ff8926"/>
<polygon points="1499.3,155.2 1517.4,148.8 1499.7,145.4 1481.5,151.7" fill="#ff8126"/>
<polygon points="1716.1,156.0 1733.0,149.7 1714.0,141.1 1697.1,147.4" fill="#ff7d26"/>
<polygon points="1535.4,153.1 1553.4,146.8 1535.4,142.6 1517.4,148.8" fill="#ff7b26"/>
<polygon points="1680.0,153.7 1697.1,147.4 1678.3,139.7 1661.2,145.9" fill="#ff7826"/>
<polygon points="1571.6,152.0 1589.3,145.7 1571.1,140.6 1553.4,146.8" fill="#ff7726"/>
<polygon points="1643.9,152.2 1661.2,145.9 1642.6,139.1 1625.3,145.4" fill="#ff7526"/>
<polygon points="1607.7,151.7 1625.3,145.4 1606.9,139.4 1589.3,145.7" fill="#ff7526"/>
<polygon points="1335.8,178.4 1355.0,171.9 1338.3,171.8 1319.1,178.2" fill="#ffb126"/>
<polygon points="1372.0,172.9 1391.0,166.4 1374.0,165.5 1355.0,171.9" fill="#ffa226"/>
<polygon points="1408.2,168.3 1427.0,161.8 1409.8,160.0 1391.0,166.4" fill="#ff9626"/>
<polygon points="1444.5,164.5 1463.1,158.0 1445.6,155.4 1427.0,161.8" fill="#ff8c26"/>
<polygon points="1735.3,165.5 1752.2,159.1 1733.0,149.7 1716.1,156.0" fill="#ff8626"/>
<polygon points="1480.9,161.6 1499.3,155.2 1481.5,151.7 1463.1,158.0" fill="#ff8326"/>
<polygon points="1699.0,162.4 1716.1,156.0 1697.1,147.4 1680.0,153.7" fill="#ff7f26"/>
<polygon points="1517.2,159.5 1535.4,153.1 1517.4,148.8 1499.3,155.2" fill="#ff7d26"/>
<polygon points="1662.7,160.1 1680.0,153.7 1661.2,145.9 1643.9,152.2" fill="#ff7a26"/>
<polygon points="1553.6,158.3 1571.6,152.0 1553.4,146.8 1535.4,153.1" fill="#ff7926"/>
<polygon points="1626.3,158.6 1643.9,152.2 1625.3,145.4 1607.7,151.7" fill="#ff7826"/>
<polygon points="1590.0,158.0 1607.7,151.7 1589.3,145.7 1571.6,152.0" fill="#ff7726"/>
<polygon points="1316.3,185.0 1335.8,178.4 1319.1,178.2 1299.7,184.8" fill="#ffb326"/>
<polygon points="1352.7,179.5 1372.0,172.9 1355.0,171.9 1335.8,178.4" fill="#ffa526"/>
<polygon points="1389.2,174.8 1408.2,168.3 1391.0,166.4 1372.0,172.9" fill="#ff9826"/>
<polygon points="1754.7,176.1 1771.5,169.6 1752.2,159.1 1735.3,165.5" fill="#ff9126"/>
<polygon points="1425.7,171.0 1444.5,164.5 1427.0,161.8 1408.2,168.3" fill="#ff8e26"/>
<polygon points="1718.2,172.0 1735.3,165.5 1716.1,156.0 1699.0,162.4" fill="#ff8826"/>
<polygon points="1462.2,168.0 1480.9,161.6 1463.1,158.0 1444.5,164.5" fill="#ff8626"/>
<polygon points="1681.7,168.8 1699.0,162.4 1680.0,153.7 1662.7,160.1" fill="#ff8126"/>
<polygon points="1498.8,166.0 1517.2,159.5 1499.3,155.2 1480.9,161.6" fill="#ff8026"/>
<polygon points="1645.2,166.5 1662.7,160.1 1643.9,152.2 1626.3,158.6" fill="#ff7d26"/>
<polygon points="1535.4,164.8 1553.6,158.3 1535.4,153.1 1517.2,159.5" fill="#ff7c26"/>
<polygon points="1608.6,165.1 1626.3,158.6 1607.7,151.7 1590.0,158.0" fill="#ff7a26"/>
<polygon points="1572.0,164.5 1590.0,158.0 1571.6,152.0 1553.6,158.3" fill="#ff7a26"/>
<polygon points="1296.6,191.7 1316.3,185.0 1299.7,184.8 1280.0,191.4" fill="#ffb626"/>
<polygon points="1333.2,186.1 1352.7,179.5 1335.8,178.4 1316.3,185.0" fill="#ffa726"/>
<polygon points="1774.3,187.7 1791.1,181.0 1771.5,169.6 1754.7,176.1" fill="#ff9e26"/>
<polygon points="1369.9,181.4 1389.2,174.8 1372.0,172.9 1352.7,179.5" fill="#ff9b26"/>
<polygon points="1737.7,182.7 1754.7,176.1 1735.3,165.5 1718.2,172.0" fill="#ff9326"/>
<polygon points="1406.6,177.6 1425.7,171.0 1408.2,168.3 1389.2,174.8" fill="#ff9026"/>
<polygon points="1701.0,178.6 1718.2,172.0 1699.0,162.4 1681.7,168.8" fill="#ff8a26"/>
<polygon points="1443.4,174.6 1462.2,168.0 1444.5,164.5 1425.7,171.0" fill="#ff8826"/>
<polygon points="1664.2,175.4 1681.7,168.8 1662.7,160.1 1645.2,166.5" fill="#ff8426"/>
<polygon points="1480.2,172.5 1498.8,166.0 1480.9,161.6 1462.2,168.0" fill="#ff8226"/>
<polygon points="1627.4,173.1 1645.2,166.5 1626.3,158.6 1608.6,165.1" fill="#ff7f26"/>
<polygon points="1517.0,171.4 1535.4,164.8 1517.2,159.5 1498.8,166.0" fill="#ff7e26"/>
<polygon points="1590.6,171.6 1608.6,165.1 1590.0,158.0 1572.0,164.5" fill="#ff7c26"/>
<polygon points="1553.8,171.0 1572.0,164.5 1553.6,158.3 1535.4,164.8" fill="#ff7c26"/>
<polygon points="1276.7,198.4 1296.6,191.7 1280.0,191.4 1260.1,198.1" fill="#ffb826"/>
<polygon points="1794.1,200.2 1810.9,193.5 1791.1,181.0 1774.3,187.7" fill="#ffae26"/>
<polygon points="1313.5,192.8 1333.2,186.1 1316.3,185.0 1296.6,191.7" fill="#ffaa26"/>
<polygon points="1757.3,194.3 1774.3,187.7 1754.7,176.1 1737.7,182.7" fill="#ffa026"/>
<polygon points="1350.4,188.1 1369.9,181.4 1352.7,179.5 1333.2,186.1" fill="#ff9d26"/>
<polygon points="1720.4,189.4 1737.7,182.7 1718.2,172.0 1701.0,178.6" fill="#ff9526"/>
<polygon points="1387.3,184.2 1406.6,177.6 1389.2,174.8 1369.9,181.4" fill="#ff9326"/>
<polygon points="1683.5,185.3 1701.0,178.6 1681.7,168.8 1664.2,175.4" fill="#ff8d26"/>
<polygon points="1424.3,181.3 1443.4,174.6 1425.7,171.0 1406.6,177.6" fill="#ff8a26"/>
<polygon points="1646.5,182.0 1664.2,175.4 1645.2,166.5 1627.4,173.1" fill="#ff8626"/>
<polygon points="1461.3,179.2 1480.2,172.5 1462.2,168.0 1443.4,174.6" fill="#ff8426"/>
<polygon points="1609.5,179.7 1627.4,173.1 1608.6,165.1 1590.6,171.6" fill="#ff8126"/>
<polygon points="1498.4,178.0 1517.0,171.4 1498.8,166.0 1480.2,172.5" fill="#ff8026"/>
<polygon points="1572.4,178.2 1590.6,171.6 1572.0,164.5 1553.8,171.0" fill="#ff7f26"/>
<polygon points="1535.4,177.7 1553.8,171.0 1535.4,164.8 1517.0,171.4" fill="#ff7e26"/>
<polygon points="1814.1,213.8 1830.8,206.9 1810.9,193.5 1794.1,200.2" fill="#ffbf26"/>
<polygon points="1256.5,205.3 1276.7,198.4 1260.1,198.1 1239.9,204.9" fill="#ffbb26"/>
<polygon points="1777.1,207.0 1794.1,200.2 1774.3,187.7 1757.3,194.3" fill="#ffb026"/>
<polygon points="1293.5,199.6 1313.5,192.8 1296.6,191.7 1276.7,198.4" fill="#ffac26"/>
<polygon points="1740.0,201.1 1757.3,194.3 1737.7,182.7 1720.4,189.4" fill="#ffa326"/>
<polygon points="1330.6,194.9 1350.4,188.1 1333.2,186.1 1313.5,192.8" fill="#ff9f26"/>
<polygon points="1702.9,196.1 1720.4,189.4 1701.0,178.6 1683.5,185.3" fill="#ff9826"/>
<polygon points="1367.8,191.0 1387.3,184.2 1369.9,181.4 1350.4,188.1" fill="#ff9526"/>
<polygon points="1665.8,192.0 1683.5,185.3 1664.2,175.4 1646.5,182.0" fill="#ff8f26"/>
<polygon points="1405.0,188.0 1424.3,181.3 1406.6,177.6 1387.3,184.2" fill="#ff8d26"/>
<polygon points="1628.5,188.8 1646.5,182.0 1627.4,173.1 1609.5,179.7" fill="#ff8826"/>
<polygon points="1442.2,185.9 1461.3,179.2 1443.4,174.6 1424.3,181.3" fill="#ff8726"/>
<polygon points="1591.3,186.4 1609.5,179.7 1590.6,171.6 1572.4,178.2" fill="#ff8426"/>
<polygon points="1479.5,184.7 1498.4,178.0 1480.2,172.5 1461.3,179.2" fill="#ff8326"/>
<polygon points="1554.0,184.9 1572.4,178.2 1553.8,171.0 1535.4,177.7" fill="#ff8126"/>
<polygon points="1516.8,184.4 1535.4,177.7 1517.0,171.4 1498.4,178.0" fill="#ff8126"/>
<polygon points="1834.2,228.4 1850.9,221.4 1830.8,206.9 1814.1,213.8" fill="#ffd326"/>
<polygon points="1797.1,220.7 1814.1,213.8 1794.1,200.2 1777.1,207.0" fill="#ffc226"/>
<polygon points="1236.0,212.2 1256.5,205.3 1239.9,204.9 1219.5,211.8" fill="#ffbd26"/>
<polygon points="1759.9,213.9 1777.1,207.0 1757.3,194.3 1740.0,201.1" fill="#ffb226"/>
<polygon points="1273.3,206.5 1293.5,199.6 1276.7,198.4 1256.5,205.3" fill="#ffae26"/>
<polygon points="1722.6,208.0 1740.0,201.1 1720.4,189.4 1702.9,196.1" fill="#ffa526"/>
<polygon points="1310.6,201.7 1330.6,194.9 1313.5,192.8 1293.5,199.6" fill="#ffa226"/>
<polygon points="1685.2,203.0 1702.9,196.1 1683.5,185.3 1665.8,192.0" fill="#ff9a26"/>
<polygon points="1348.0,197.8 1367.8,191.0 1350.4,188.1 1330.6,194.9" fill="#ff9726"/>
<polygon points="1647.8,198.8 1665.8,192.0 1646.5,182.0 1628.5,188.8" fill="#ff9126"/>
<polygon points="1385.4,194.8 1405.0,188.0 1387.3,184.2 1367.8,191.0" fill="#ff8f26"/>
<polygon points="1610.4,195.6 1628.5,188.8 1609.5,179.7 1591.3,186.4" fill="#ff8a26"/>
<polygon points="1422.9,192.7 1442.2,185.9 1424.3,181.3 1405.0,188.0" fill="#ff8926"/>
<polygon points="1572.9,193.2 1591.3,186.4 1572.4,178.2 1554.0,184.9" fill="#ff8626"/>
<polygon points="1460.4,191.5 1479.5,184.7 1461.3,179.2 1442.2,185.9" fill="#ff8526"/>
<polygon points="1535.4,191.7 1554.0,184.9 1535.4,177.7 1516.8,184.4" fill="#ff8326"/>
<polygon points="1497.9,191.2 1516.8,184.4 1498.4,178.0 1479.5,184.7" fill="#ff8326"/>
<polygon points="1854.6,244.0 1871.3,236.9 1850.9,221.4 1834.2,228.4" fill="#ffe926"/>
<polygon points="1817.3,235.5 1834.2,228.4 1814.1,213.8 1797.1,220.7" fill="#ffd526"/>
<polygon points="1779.9,227.7 1797.1,220.7 1777.1,207.0 1759.9,213.9" fill="#ffc426"/>
<polygon points="1215.3,219.2 1236.0,212.2 1219.5,211.8 1198.9,218.8" fill="#ffbf26"/>
<polygon points="1742.5,220.9 1759.9,213.9 1740.0,201.1 1722.6,208.0" fill="#ffb526"/>
<polygon points="1252.8,213.5 1273.3,206.5 1256.5,205.3 1236.0,212.2" fill="#ffb126"/>
<polygon points="1704.9,215.0 1722.6,208.0 1702.9,196.1 1685.2,203.0" fill="#ffa726"/>
<polygon points="1290.4,208.7 1310.6,201.7 1293.5,199.6 1273.3,206.5" fill="#ffa426"/>
<polygon points="1667.3,209.9 1685.2,203.0 1665.8,192.0 1647.8,198.8" fill="#ff9c26"/>
<polygon points="1328.0,204.8 1348.0,197.8 1330.6,194.9 1310.6,201.7" fill="#ff9a26"/>
<polygon points="1629.7,205.7 1647.8,198.8 1628.5,188.8 1610.4,195.6" fill="#ff9426"/>
<polygon points="1365.6,201.7 1385.4,194.8 1367.8,191.0 1348.0,197.8" fill="#ff9126"/>
<polygon points="1592.0,202.5 1610.4,195.6 1591.3,186.4 1572.9,193.2" fill="#ff8d26"/>
<polygon points="1403.3,199.6 1422.9,192.7 1405.0,188.0 1385.4,194.8" fill="#ff8b26"/>
<polygon points="1554.3,200.1 1572.9,193.2 1554.0,184.9 1535.4,191.7" fill="#ff8826"/>
<polygon points="1441.0,198.4 1460.4,191.5 1442.2,185.9 1422.9,192.7" fill="#ff8726"/>
<polygon points="1516.5,198.6 1535.4,191.7 1516.8,184.4 1497.9,191.2" fill="#ff8626"/>
<polygon points="1478.8,198.1 1497.9,191.2 1479.5,184.7 1460.4,191.5" fill="#ff8626"/>
<polygon points="1875.1,260.8 1891.7,253.5 1871.3,236.9 1854.6,244.0" fill="#fdff26"/>
<polygon points="1837.7,251.2 1854.6,244.0 1834.2,228.4 1817.3,235.5" fill="#ffeb26"/>
<polygon points="1800.1,242.6 1817.3,235.5 1797.1,220.7 1779.9,227.7" fill="#ffd826"/>
<polygon points="1762.5,234.8 1779.9,227.7 1759.9,213.9 1742.5,220.9" fill="#ffc626"/>
<polygon points="1194.4,226.3 1215.3,219.2 1198.9,218.8 1178.0,225.8" fill="#ffc226"/>
<polygon points="1724.8,228.0 1742.5,220.9 1722.6,208.0 1704.9,215.0" fill="#ffb726"/>
<polygon points="1232.1,220.6 1252.8,213.5 1236.0,212.2 1215.3,219.2" fill="#ffb326"/>
<polygon points="1687.0,222.0 1704.9,215.0 1685.2,203.0 1667.3,209.9" fill="#ffaa26"/>
<polygon points="1269.9,215.7 1290.4,208.7 1273.3,206.5 1252.8,213.5" fill="#ffa726"/>
<polygon points="1649.2,216.9 1667.3,209.9 1647.8,198.8 1629.7,205.7" fill="#ff9f26"/>
<polygon points="1307.7,211.8 1328.0,204.8 1310.6,201.7 1290.4,208.7" fill="#ff9c26"/>
<polygon points="1611.3,212.7 1629.7,205.7 1610.4,195.6 1592.0,202.5" fill="#ff9626"/>
<polygon points="1345.6,208.8 1365.6,201.7 1348.0,197.8 1328.0,204.8" fill="#ff9426"/>
<polygon points="1895.8,278.5 1912.4,271.1 1891.7,253.5 1875.1,260.8" fill="#e1ff26"/>
<polygon points="1573.4,209.5 1592.0,202.5 1572.9,193.2 1554.3,200.1" fill="#ff8f26"/>
<polygon points="1383.5,206.6 1403.3,199.6 1385.4,194.8 1365.6,201.7" fill="#ff8e26"/>
<polygon points="1535.4,207.1 1554.3,200.1 1535.4,191.7 1516.5,198.6" fill="#ff8b26"/>
<polygon points="1421.5,205.4 1441.0,198.4 1422.9,192.7 1403.3,199.6" fill="#ff8a26"/>
<polygon points="1497.4,205.6 1516.5,198.6 1497.9,191.2 1478.8,198.1" fill="#ff8826"/>
<polygon points="1459.4,205.0 1478.8,198.1 1460.4,191.5 1441.0,198.4" fill="#ff8826"/>
<polygon points="1858.3,268.1 1875.1,260.8 1854.6,244.0 1837.7,251.2" fill="#fbff26"/>
<polygon points="1820.6,258.5 1837.7,251.2 1817.3,235.5 1800.1,242.6" fill="#ffed26"/>
<polygon points="1782.8,249.8 1800.1,242.6 1779.9,227.7 1762.5,234.8" fill="#ffda26"/>
<polygon points="1744.9,242.1 1762.5,234.8 1742.5,220.9 1724.8,228.0" fill="#ffc826"/>
<polygon points="1173.2,233.5 1194.4,226.3 1178.0,225.8 1156.8,233.0" fill="#ffc426"/>
<polygon points="1707.0,235.1 1724.8,228.0 1704.9,215.0 1687.0,222.0" fill="#ffb926"/>
<polygon points="1211.1,227.8 1232.1,220.6 1215.3,219.2 1194.4,226.3" fill="#ffb626"/>
<polygon points="1668.9,229.1 1687.0,222.0 1667.3,209.9 1649.2,216.9" fill="#ffac26"/>
<polygon points="1249.1,222.9 1269.9,215.7 1252.8,213.5 1232.1,220.6" fill="#ffa926"/>
<polygon points="1630.8,224.0 1649.2,216.9 1629.7,205.7 1611.3,212.7" fill="#ffa126"/>
<polygon points="1287.2,218.9 1307.7,211.8 1290.4,208.7 1269.9,215.7" fill="#ff9f26"/>
<polygon points="1592.7,219.8 1611.3,212.7 1592.0,202.5 1573.4,209.5" fill="#ff9826"/>
<polygon points="1325.3,215.8 1345.6,208.8 1328.0,204.8 1307.7,211.8" fill="#ff9626"/>
<polygon points="1879.0,286.0 1895.8,278.5 1875.1,260.8 1858.3,268.1" fill="#deff26"/>
<polygon points="1554.5,216.5 1573.4,209.5 1554.3,200.1 1535.4,207.1" fill="#ff9226"/>
<polygon points="1363.4,213.7 1383.5,206.6 1365.6,201.7 1345.6,208.8" fill="#ff9026"/>
<polygon points="1516.3,214.1 1535.4,207.1 1516.5,198.6 1497.4,205.6" fill="#ff8d26"/>
<polygon points="1401.6,212.4 1421.5,205.4 1403.3,199.6 1383.5,206.6" fill="#ff8c26"/>
<polygon points="1478.1,212.7 1497.4,205.6 1478.8,198.1 1459.4,205.0" fill="#ff8b26"/>
<polygon points="1439.8,212.1 1459.4,205.0 1441.0,198.4 1421.5,205.4" fill="#ff8a26"/>
<polygon points="1841.2,275.5 1858.3,268.1 1837.7,251.2 1820.6,258.5" fill="#f8ff26"/>
<polygon points="1803.3,265.9 1820.6,258.5 1800.1,242.6 1782.8,249.8" fill="#fff026"/>
<polygon points="1765.2,257.2 1782.8,249.8 1762.5,234.8 1744.9,242.1" fill="#ffdc26"/>
<polygon points="1727.1,249.4 1744.9,242.1 1724.8,228.0 1707.0,235.1" fill="#ffcb26"/>
<polygon points="1688.9,242.4 1707.0,235.1 1687.0,222.0 1668.9,229.1" fill="#ffbc26"/>
<polygon points="1189.8,235.0 1211.1,227.8 1194.4,226.3 1173.2,233.5" fill="#ffb826"/>
<polygon points="1650.6,236.4 1668.9,229.1 1649.2,216.9 1630.8,224.0" fill="#ffae26"/>
<polygon points="1228.1,230.1 1249.1,222.9 1232.1,220.6 1211.1,227.8" fill="#ffab26"/>
<polygon points="1612.2,231.2 1630.8,224.0 1611.3,212.7 1592.7,219.8" fill="#ffa326"/>
<polygon points="1266.4,226.1 1287.2,218.9 1269.9,215.7 1249.1,222.9" fill="#ffa126"/>
<polygon points="1573.8,227.0 1592.7,219.8 1573.4,209.5 1554.5,216.5" fill="#ff9b26"/>
<polygon points="1304.7,223.0 1325.3,215.8 1307.7,211.8 1287.2,218.9" fill="#ff9926"/>
<polygon points="1862.0,293.6 1879.0,286.0 1858.3,268.1 1841.2,275.5" fill="#dcff26"/>
<polygon points="1535.4,223.7 1554.5,216.5 1535.4,207.1 1516.3,214.1" fill="#ff9426"/>
<polygon points="1343.1,220.9 1363.4,213.7 1345.6,208.8 1325.3,215.8" fill="#ff9326"/>
<polygon points="1496.9,221.3 1516.3,214.1 1497.4,205.6 1478.1,212.7" fill="#ff8f26"/>
<polygon points="1381.6,219.6 1401.6,212.4 1383.5,206.6 1363.4,213.7" fill="#ff8f26"/>
<polygon points="1458.5,219.8 1478.1,212.7 1459.4,205.0 1439.8,212.1" fill="#ff8d26"/>
<polygon points="1420.0,219.3 1439.8,212.1 1421.5,205.4 1401.6,212.4" fill="#ff8d26"/>
<polygon points="1823.9,283.1 1841.2,275.5 1820.6,258.5 1803.3,265.9" fill="#f6ff26"/>
<polygon points="1785.7,273.4 1803.3,265.9 1782.8,249.8 1765.2,257.2" fill="#fff226"/>
<polygon points="1747.4,264.6 1765.2,257.2 1744.9,242.1 1727.1,249.4" fill="#ffdf26"/>
<polygon points="1709.0,256.7 1727.1,249.4 1707.0,235.1 1688.9,242.4" fill="#ffcd26"/>
<polygon points="1670.5,249.8 1688.9,242.4 1668.9,229.1 1650.6,236.4" fill="#ffbe26"/>
<polygon points="1632.0,243.7 1650.6,236.4 1630.8,224.0 1612.2,231.2" fill="#ffb126"/>
<polygon points="1206.8,237.5 1228.1,230.1 1211.1,227.8 1189.8,235.0" fill="#ffae26"/>
<polygon points="1593.4,238.5 1612.2,231.2 1592.7,219.8 1573.8,227.0" fill="#ffa626"/>
<polygon points="1245.3,233.4 1266.4,226.1 1249.1,222.9 1228.1,230.1" fill="#ffa326"/>
<polygon points="1554.7,234.3 1573.8,227.0 1554.5,216.5 1535.4,223.7" fill="#ff9d26"/>
<polygon points="1283.9,230.3 1304.7,223.0 1287.2,218.9 1266.4,226.1" fill="#ff9b26"/>
<polygon points="1844.7,301.3 1862.0,293.6 1841.2,275.5 1823.9,283.1" fill="#d9ff26"/>
<polygon points="1516.1,231.0 1535.4,223.7 1516.3,214.1 1496.9,221.3" fill="#ff9626"/>
<polygon points="1322.5,228.1 1343.1,220.9 1325.3,215.8 1304.7,223.0" fill="#ff9526"/>
<polygon points="1477.3,228.6 1496.9,221.3 1478.1,212.7 1458.5,219.8" fill="#ff9226"/>
<polygon points="1361.2,226.9 1381.6,219.6 1363.4,213.7 1343.1,220.9" fill="#ff9126"/>
<polygon points="1438.6,227.1 1458.5,219.8 1439.8,212.1 1420.0,219.3" fill="#ff8f26"/>
<polygon points="1399.9,226.5 1420.0,219.3 1401.6,212.4 1381.6,219.6" fill="#ff8f26"/>
<polygon points="1806.4,290.7 1823.9,283.1 1803.3,265.9 1785.7,273.4" fill="#f3ff26"/>
<polygon points="1767.9,281.0 1785.7,273.4 1765.2,257.2 1747.4,264.6" fill="#fff426"/>
<polygon points="1729.4,272.2 1747.4,264.6 1727.1,249.4 1709.0,256.7" fill="#ffe126"/>
<polygon points="1690.7,264.2 1709.0,256.7 1688.9,242.4 1670.5,249.8" fill="#ffcf26"/>
<polygon points="1652.0,257.2 1670.5,249.8 1650.6,236.4 1632.0,243.7" fill="#ffc026"/>
<polygon points="1613.2,251.1 1632.0,243.7 1612.2,231.2 1593.4,238.5" fill="#ffb326"/>
<polygon points="1574.3,246.0 1593.4,238.5 1573.8,227.0 1554.7,234.3" fill="#ffa826"/>
<polygon points="1224.0,240.8 1245.3,233.4 1228.1,230.1 1206.8,237.5" fill="#ffa626"/>
<polygon points="1535.4,241.7 1554.7,234.3 1535.4,223.7 1516.1,231.0" fill="#ff9f26"/>
<polygon points="1262.8,237.7 1283.9,230.3 1266.4,226.1 1245.3,233.4" fill="#ff9e26"/>
<polygon points="1827.3,309.1 1844.7,301.3 1823.9,283.1 1806.4,290.7" fill="#d7ff26"/>
<polygon points="1496.5,238.3 1516.1,231.0 1496.9,221.3 1477.3,228.6" fill="#ff9926"/>
<polygon points="1301.7,235.5 1322.5,228.1 1304.7,223.0 1283.9,230.3" fill="#ff9726"/>
<polygon points="1457.5,235.9 1477.3,228.6 1458.5,219.8 1438.6,227.1" fill="#ff9426"/>
<polygon points="1340.6,234.2 1361.2,226.9 1343.1,220.9 1322.5,228.1" fill="#ff9326"/>
<polygon points="1418.5,234.4 1438.6,227.1 1420.0,219.3 1399.9,226.5" fill="#ff9226"/>
<polygon points="1379.6,233.9 1399.9,226.5 1381.6,219.6 1361.2,226.9" fill="#ff9126"/>
<polygon points="1788.7,298.4 1806.4,290.7 1785.7,273.4 1767.9,281.0" fill="#f1ff26"/>
<polygon points="1749.9,288.7 1767.9,281.0 1747.4,264.6 1729.4,272.2" fill="#fff726"/>
<polygon points="1711.1,279.8 1729.4,272.2 1709.0,256.7 1690.7,264.2" fill="#ffe326"/>
<polygon points="1672.2,271.8 1690.7,264.2 1670.5,249.8 1652.0,257.2" fill="#ffd226"/>
<polygon points="1633.2,264.8 1652.0,257.2 1632.0,243.7 1613.2,251.1" fill="#ffc326"/>
<polygon points="1594.1,258.7 1613.2,251.1 1593.4,238.5 1574.3,246.0" fill="#ffb526"/>
<polygon points="1555.0,253.5 1574.3,246.0 1554.7,234.3 1535.4,241.7" fill="#ffab26"/>
<polygon points="1515.8,249.2 1535.4,241.7 1516.1,231.0 1496.5,238.3" fill="#ffa226"/>
<polygon points="1241.4,245.2 1262.8,237.7 1245.3,233.4 1224.0,240.8" fill="#ffa026"/>
<polygon points="1809.6,317.0 1827.3,309.1 1806.4,290.7 1788.7,298.4" fill="#d4ff26"/>
<polygon points="1476.6,245.8 1496.5,238.3 1477.3,228.6 1457.5,235.9" fill="#ff9b26"/>
<polygon points="1280.6,243.0 1301.7,235.5 1283.9,230.3 1262.8,237.7" fill="#ff9a26"/>
<polygon points="1437.4,243.4 1457.5,235.9 1438.6,227.1 1418.5,234.4" fill="#ff9626"/>
<polygon points="1319.7,241.7 1340.6,234.2 1322.5,228.1 1301.7,235.5" fill="#ff9626"/>
<polygon points="1398.2,241.9 1418.5,234.4 1399.9,226.5 1379.6,233.9" fill="#ff9426"/>
<polygon points="1358.9,241.3 1379.6,233.9 1361.2,226.9 1340.6,234.2" fill="#ff9426"/>
<polygon points="1770.7,306.3 1788.7,298.4 1767.9,281.0 1749.9,288.7" fill="#eeff26"/>
<polygon points="1731.7,296.4 1749.9,288.7 1729.4,272.2 1711.1,279.8" fill="#fff926"/>
<polygon points="1692.6,287.5 1711.1,279.8 1690.7,264.2 1672.2,271.8" fill="#ffe626"/>
<polygon points="1653.4,279.5 1672.2,271.8 1652.0,257.2 1633.2,264.8" fill="#ffd426"/>
<polygon points="1614.1,272.4 1633.2,264.8 1613.2,251.1 1594.1,258.7" fill="#ffc526"/>
<polygon points="1574.8,266.3 1594.1,258.7 1574.3,246.0 1555.0,253.5" fill="#ffb826"/>
<polygon points="1535.4,261.1 1555.0,253.5 1535.4,241.7 1515.8,249.2" fill="#ffad26"/>
<polygon points="1496.0,256.7 1515.8,249.2 1496.5,238.3 1476.6,245.8" fill="#ffa426"/>
<polygon points="1791.7,325.0 1809.6,317.0 1788.7,298.4 1770.7,306.3" fill="#d2ff26"/>
<polygon points="1456.5,253.4 1476.6,245.8 1457.5,235.9 1437.4,243.4" fill="#ff9d26"/>
<polygon points="1259.2,250.5 1280.6,243.0 1262.8,237.7 1241.4,245.2" fill="#ff9c26"/>
<polygon points="1417.0,250.9 1437.4,243.4 1418.5,234.4 1398.2,241.9" fill="#ff9926"/>
<polygon points="1298.6,249.2 1319.7,241.7 1301.7,235.5 1280.6,243.0" fill="#ff9826"/>
<polygon points="1377.5,249.4 1398.2,241.9 1379.6,233.9 1358.9,241.3" fill="#ff9726"/>
<polygon points="1338.0,248.9 1358.9,241.3 1340.6,234.2 1319.7,241.7" fill="#ff9626"/>
<polygon points="1752.5,314.2 1770.7,306.3 1749.9,288.7 1731.7,296.4" fill="#ecff26"/>
<polygon points="1713.2,304.3 1731.7,296.4 1711.1,279.8 1692.6,287.5" fill="#fffb26"/>
<polygon points="1673.9,295.4 1692.6,287.5 1672.2,271.8 1653.4,279.5" fill="#ffe826"/>
<polygon points="1634.4,287.3 1653.4,279.5 1633.2,264.8 1614.1,272.4" fill="#ffd726"/>
<polygon points="1594.8,280.2 1614.1,272.4 1594.1,258.7 1574.8,266.3" fill="#ffc726"/>
<polygon points="1555.2,274.0 1574.8,266.3 1555.0,253.5 1535.4,261.1" fill="#ffba26"/>
<polygon points="1515.6,268.8 1535.4,261.1 1515.8,249.2 1496.0,256.7" fill="#ffaf26"/>
<polygon points="1475.9,264.4 1496.0,256.7 1476.6,245.8 1456.5,253.4" fill="#ffa626"/>
<polygon points="1773.5,333.1 1791.7,325.0 1770.7,306.3 1752.5,314.2" fill="#cfff26"/>
<polygon points="1436.1,261.0 1456.5,253.4 1437.4,243.4 1417.0,250.9" fill="#ffa026"/>
<polygon points="1396.4,258.6 1417.0,250.9 1398.2,241.9 1377.5,249.4" fill="#ff9b26"/>
<polygon points="1277.2,256.9 1298.6,249.2 1280.6,243.0 1259.2,250.5" fill="#ff9b26"/>
<polygon points="1356.6,257.1 1377.5,249.4 1358.9,241.3 1338.0,248.9" fill="#ff9926"/>
<polygon points="1316.9,256.5 1338.0,248.9 1319.7,241.7 1298.6,249.2" fill="#ff9926"/>
<polygon points="1734.1,322.2 1752.5,314.2 1731.7,296.4 1713.2,304.3" fill="#e9ff26"/>
<polygon points="1694.5,312.3 1713.2,304.3 1692.6,287.5 1673.9,295.4" fill="#fffe26"/>
<polygon points="1654.9,303.3 1673.9,295.4 1653.4,279.5 1634.4,287.3" fill="#ffea26"/>
<polygon points="1615.1,295.2 1634.4,287.3 1614.1,272.4 1594.8,280.2" fill="#ffd926"/>
<polygon points="1575.3,288.1 1594.8,280.2 1574.8,266.3 1555.2,274.0" fill="#ffca26"/>
<polygon points="1535.4,281.9 1555.2,274.0 1535.4,261.1 1515.6,268.8" fill="#ffbd26"/>
<polygon points="1495.5,276.6 1515.6,268.8 1496.0,256.7 1475.9,264.4" fill="#ffb226"/>
<polygon points="1455.5,272.2 1475.9,264.4 1456.5,253.4 1436.1,261.0" fill="#ffa926"/>
<polygon points="1755.1,341.3 1773.5,333.1 1752.5,314.2 1734.1,322.2" fill="#cdff26"/>
<polygon points="1415.5,268.8 1436.1,261.0 1417.0,250.9 1396.4,258.6" fill="#ffa226"/>
<polygon points="1375.5,266.3 1396.4,258.6 1377.5,249.4 1356.6,257.1" fill="#ff9e26"/>
<polygon points="1335.4,264.8 1356.6,257.1 1338.0,248.9 1316.9,256.5" fill="#ff9b26"/>
<polygon points="1295.4,264.3 1316.9,256.5 1298.6,249.2 1277.2,256.9" fill="#ff9b26"/>
<polygon points="1715.4,330.4 1734.1,322.2 1713.2,304.3 1694.5,312.3" fill="#e6ff26"/>
<polygon points="1675.6,320.4 1694.5,312.3 1673.9,295.4 1654.9,303.3" fill="#feff26"/>
<polygon points="1635.6,311.4 1654.9,303.3 1634.4,287.3 1615.1,295.2" fill="#ffed26"/>
<polygon points="1595.6,303.2 1615.1,295.2 1594.8,280.2 1575.3,288.1" fill="#ffdb26"/>
<polygon points="1555.5,296.1 1575.3,288.1 1555.2,274.0 1535.4,281.9" fill="#ffcc26"/>
<polygon points="1515.3,289.8 1535.4,281.9 1515.6,268.8 1495.5,276.6" fill="#ffbf26"/>
<polygon points="1475.1,284.5 1495.5,276.6 1475.9,264.4 1455.5,272.2" fill="#ffb426"/>
<polygon points="1434.8,280.1 1455.5,272.2 1436.1,261.0 1415.5,268.8" fill="#ffab26"/>
<polygon points="1736.5,349.6 1755.1,341.3 1734.1,322.2 1715.4,330.4" fill="#caff26"/>
<polygon points="1394.6,276.7 1415.5,268.8 1396.4,258.6 1375.5,266.3" fill="#ffa526"/>
<polygon points="1354.3,274.2 1375.5,266.3 1356.6,257.1 1335.4,264.8" fill="#ffa026"/>
<polygon points="1314.0,272.7 1335.4,264.8 1316.9,256.5 1295.4,264.3" fill="#ff9e26"/>
<polygon points="1696.5,338.7 1715.4,330.4 1694.5,312.3 1675.6,320.4" fill="#e4ff26"/>
<polygon points="1656.3,328.6 1675.6,320.4 1654.9,303.3 1635.6,311.4" fill="#fbff26"/>
<polygon points="1616.1,319.5 1635.6,311.4 1615.1,295.2 1595.6,303.2" fill="#ffef26"/>
<polygon points="1575.8,311.4 1595.6,303.2 1575.3,288.1 1555.5,296.1" fill="#ffde26"/>
<polygon points="1535.4,304.1 1555.5,296.1 1535.4,281.9 1515.3,289.8" fill="#ffce26"/>
<polygon points="1494.9,297.8 1515.3,289.8 1495.5,276.6 1475.1,284.5" fill="#ffc126"/>
<polygon points="1454.5,292.5 1475.1,284.5 1455.5,272.2 1434.8,280.1" fill="#ffb626"/>
<polygon points="1413.9,288.1 1434.8,280.1 1415.5,268.8 1394.6,276.7" fill="#ffae26"/>
<polygon points="1717.6,358.1 1736.5,349.6 1715.4,330.4 1696.5,338.7" fill="#c8ff26"/>
<polygon points="1373.4,284.7 1394.6,276.7 1375.5,266.3 1354.3,274.2" fill="#ffa726"/>
<polygon points="1332.8,282.2 1354.3,274.2 1335.4,264.8 1314.0,272.7" fill="#ffa326"/>
<polygon points="1677.3,347.1 1696.5,338.7 1675.6,320.4 1656.3,328.6" fill="#e1ff26"/>
<polygon points="1636.9,337.0 1656.3,328.6 1635.6,311.4 1616.1,319.5" fill="#f9ff26"/>
<polygon points="1596.3,327.8 1616.1,319.5 1595.6,303.2 1575.8,311.4" fill="#fff126"/>
<polygon points="1555.7,319.6 1575.8,311.4 1555.5,296.1 1535.4,304.1" fill="#ffe026"/>
<polygon points="1515.1,312.3 1535.4,304.1 1515.3,289.8 1494.9,297.8" fill="#ffd126"/>
<polygon points="1474.3,306.0 1494.9,297.8 1475.1,284.5 1454.5,292.5" fill="#ffc426"/>
<polygon points="1433.5,300.6 1454.5,292.5 1434.8,280.1 1413.9,288.1" fill="#ffb926"/>
<polygon points="1392.7,296.2 1413.9,288.1 1394.6,276.7 1373.4,284.7" fill="#ffb026"/>
<polygon points="1698.4,366.6 1717.6,358.1 1696.5,338.7 1677.3,347.1" fill="#c5ff26"/>
<polygon points="1351.9,292.8 1373.4,284.7 1354.3,274.2 1332.8,282.2" fill="#ffa926"/>
<polygon points="1657.8,355.6 1677.3,347.1 1656.3,328.6 1636.9,337.0" fill="#dfff26"/>
<polygon points="1617.1,345.4 1636.9,337.0 1616.1,319.5 1596.3,327.8" fill="#f6ff26"/>
<polygon points="1576.3,336.2 1596.3,327.8 1575.8,311.4 1555.7,319.6" fill="#fff426"/>
<polygon points="1535.4,328.0 1555.7,319.6 1535.4,304.1 1515.1,312.3" fill="#ffe226"/>
<polygon points="1494.4,320.6 1515.1,312.3 1494.9,297.8 1474.3,306.0" fill="#ffd326"/>
<polygon points="1453.4,314.3 1474.3,306.0 1454.5,292.5 1433.5,300.6" fill="#ffc626"/>
<polygon points="1412.3,308.9 1433.5,300.6 1413.9,288.1 1392.7,296.2" fill="#ffbb26"/>
<polygon points="1371.2,304.5 1392.7,296.2 1373.4,284.7 1351.9,292.8" fill="#ffb326"/>
<polygon points="1679.0,375.3 1698.4,366.6 1677.3,347.1 1657.8,355.6" fill="#c3ff26"/>
<polygon points="1638.1,364.2 1657.8,355.6 1636.9,337.0 1617.1,345.4" fill="#dcff26"/>
<polygon points="1597.1,354.0 1617.1,345.4 1596.3,327.8 1576.3,336.2" fill="#f4ff26"/>
<polygon points="1556.0,344.7 1576.3,336.2 1555.7,319.6 1535.4,328.0" fill="#fff626"/>
<polygon points="1514.8,336.4 1535.4,328.0 1515.1,312.3 1494.4,320.6" fill="#ffe526"/>
<polygon points="1473.5,329.1 1494.4,320.6 1474.3,306.0 1453.4,314.3" fill="#ffd626"/>
<polygon points="1432.2,322.7 1453.4,314.3 1433.5,300.6 1412.3,308.9" fill="#ffc926"/>
<polygon points="1390.8,317.3 1412.3,308.9 1392.7,296.2 1371.2,304.5" fill="#ffbe26"/>
<polygon points="1659.4,384.1 1679.0,375.3 1657.8,355.6 1638.1,364.2" fill="#c0ff26"/>
<polygon points="1618.1,372.9 1638.1,364.2 1617.1,345.4 1597.1,354.0" fill="#daff26"/>
<polygon points="1576.8,362.7 1597.1,354.0 1576.3,336.2 1556.0,344.7" fill="#f1ff26"/>
<polygon points="1535.4,353.4 1556.0,344.7 1535.4,328.0 1514.8,336.4" fill="#fff926"/>
<polygon points="1493.9,345.0 1514.8,336.4 1494.4,320.6 1473.5,329.1" fill="#ffe726"/>
<polygon points="1452.3,337.6 1473.5,329.1 1453.4,314.3 1432.2,322.7" fill="#ffd826"/>
<polygon points="1410.7,331.2 1432.2,322.7 1412.3,308.9 1390.8,317.3" fill="#ffcb26"/>
<polygon points="1639.4,393.0 1659.4,384.1 1638.1,364.2 1618.1,372.9" fill="#beff26"/>
<polygon points="1597.9,381.8 1618.1,372.9 1597.1,354.0 1576.8,362.7" fill="#d7ff26"/>
<polygon points="1556.3,371.5 1576.8,362.7 1556.0,344.7 1535.4,353.4" fill="#eeff26"/>
<polygon points="1514.5,362.1 1535.4,353.4 1514.8,336.4 1493.9,345.0" fill="#fffb26"/>
<polygon points="1472.7,353.7 1493.9,345.0 1473.5,329.1 1452.3,337.6" fill="#ffea26"/>
<polygon points="1430.8,346.3 1452.3,337.6 1432.2,322.7 1410.7,331.2" fill="#ffda26"/>
<polygon points="1619.2,402.1 1639.4,393.0 1618.1,372.9 1597.9,381.8" fill="#bbff26"/>
<polygon points="1577.3,390.8 1597.9,381.8 1576.8,362.7 1556.3,371.5" fill="#d5ff26"/>
<polygon points="1535.4,380.4 1556.3,371.5 1535.4,353.4 1514.5,362.1" fill="#ecff26"/>
<polygon points="1493.4,371.0 1514.5,362.1 1493.9,345.0 1472.7,353.7" fill="#fffd26"/>
<polygon points="1451.2,362.6 1472.7,353.7 1452.3,337.6 1430.8,346.3" fill="#ffec26"/>
<polygon points="1598.7,411.3 1619.2,402.1 1597.9,381.8 1577.3,390.8" fill="#b8ff26"/>
<polygon points="1556.5,399.9 1577.3,390.8 1556.3,371.5 1535.4,380.4" fill="#d2ff26"/>
<polygon points="1514.3,389.5 1535.4,380.4 1514.5,362.1 1493.4,371.0" fill="#e9ff26"/>
<polygon points="1471.9,380.0 1493.4,371.0 1472.7,353.7 1451.2,362.6" fill="#feff26"/>
<polygon points="1577.9,420.6 1598.7,411.3 1577.3,390.8 1556.5,399.9" fill="#b6ff26"/>
<polygon points="1535.4,409.2 1556.5,399.9 1535.4,380.4 1514.3,389.5" fill="#cfff26"/>
<polygon points="1492.8,398.7 1514.3,389.5 1493.4,371.0 1471.9,380.0" fill="#e7ff26"/>
<polygon points="1556.8,430.1 1577.9,420.6 1556.5,399.9 1535.4,409.2" fill="#b3ff26"/>
<polygon points="1514.0,418.5 1535.4,409.2 1514.3,389.5 1492.8,398.7" fill="#cdff26"/>
<polygon points="1535.4,439.6 1556.8,430.1 1535.4,409.2 1514.0,418.5" fill="#b1ff26"/>
</g>
<ellipse cx="1154.8" cy="217.5" rx="8.3" ry="9.4" fill="#cc0000" stroke="#2a0000" stroke-width="1.6"/>
<ellipse cx="1535.5" cy="188.5" rx="7.6" ry="8.8" fill="#cc0000" stroke="#2a0000" stroke-width="1.6"/>
<ellipse cx="1535.5" cy="195.5" rx="7.6" ry="8.8" fill="#cc0000" stroke="#2a0000" stroke-width="1.6"/>
<ellipse cx="1535.5" cy="203.0" rx="7.6" ry="8.8" fill="#cc0000" stroke="#2a0000" stroke-width="1.6"/>
<rect x="3.6" y="3.6" width="1993.1" height="959.7" fill="none" stroke="#000" stroke-width="2.5"/>
<line x1="964.7" y1="3.6" x2="964.7" y2="963.3" stroke="#000" stroke-width="2.5"/>
</svg></body></html>
